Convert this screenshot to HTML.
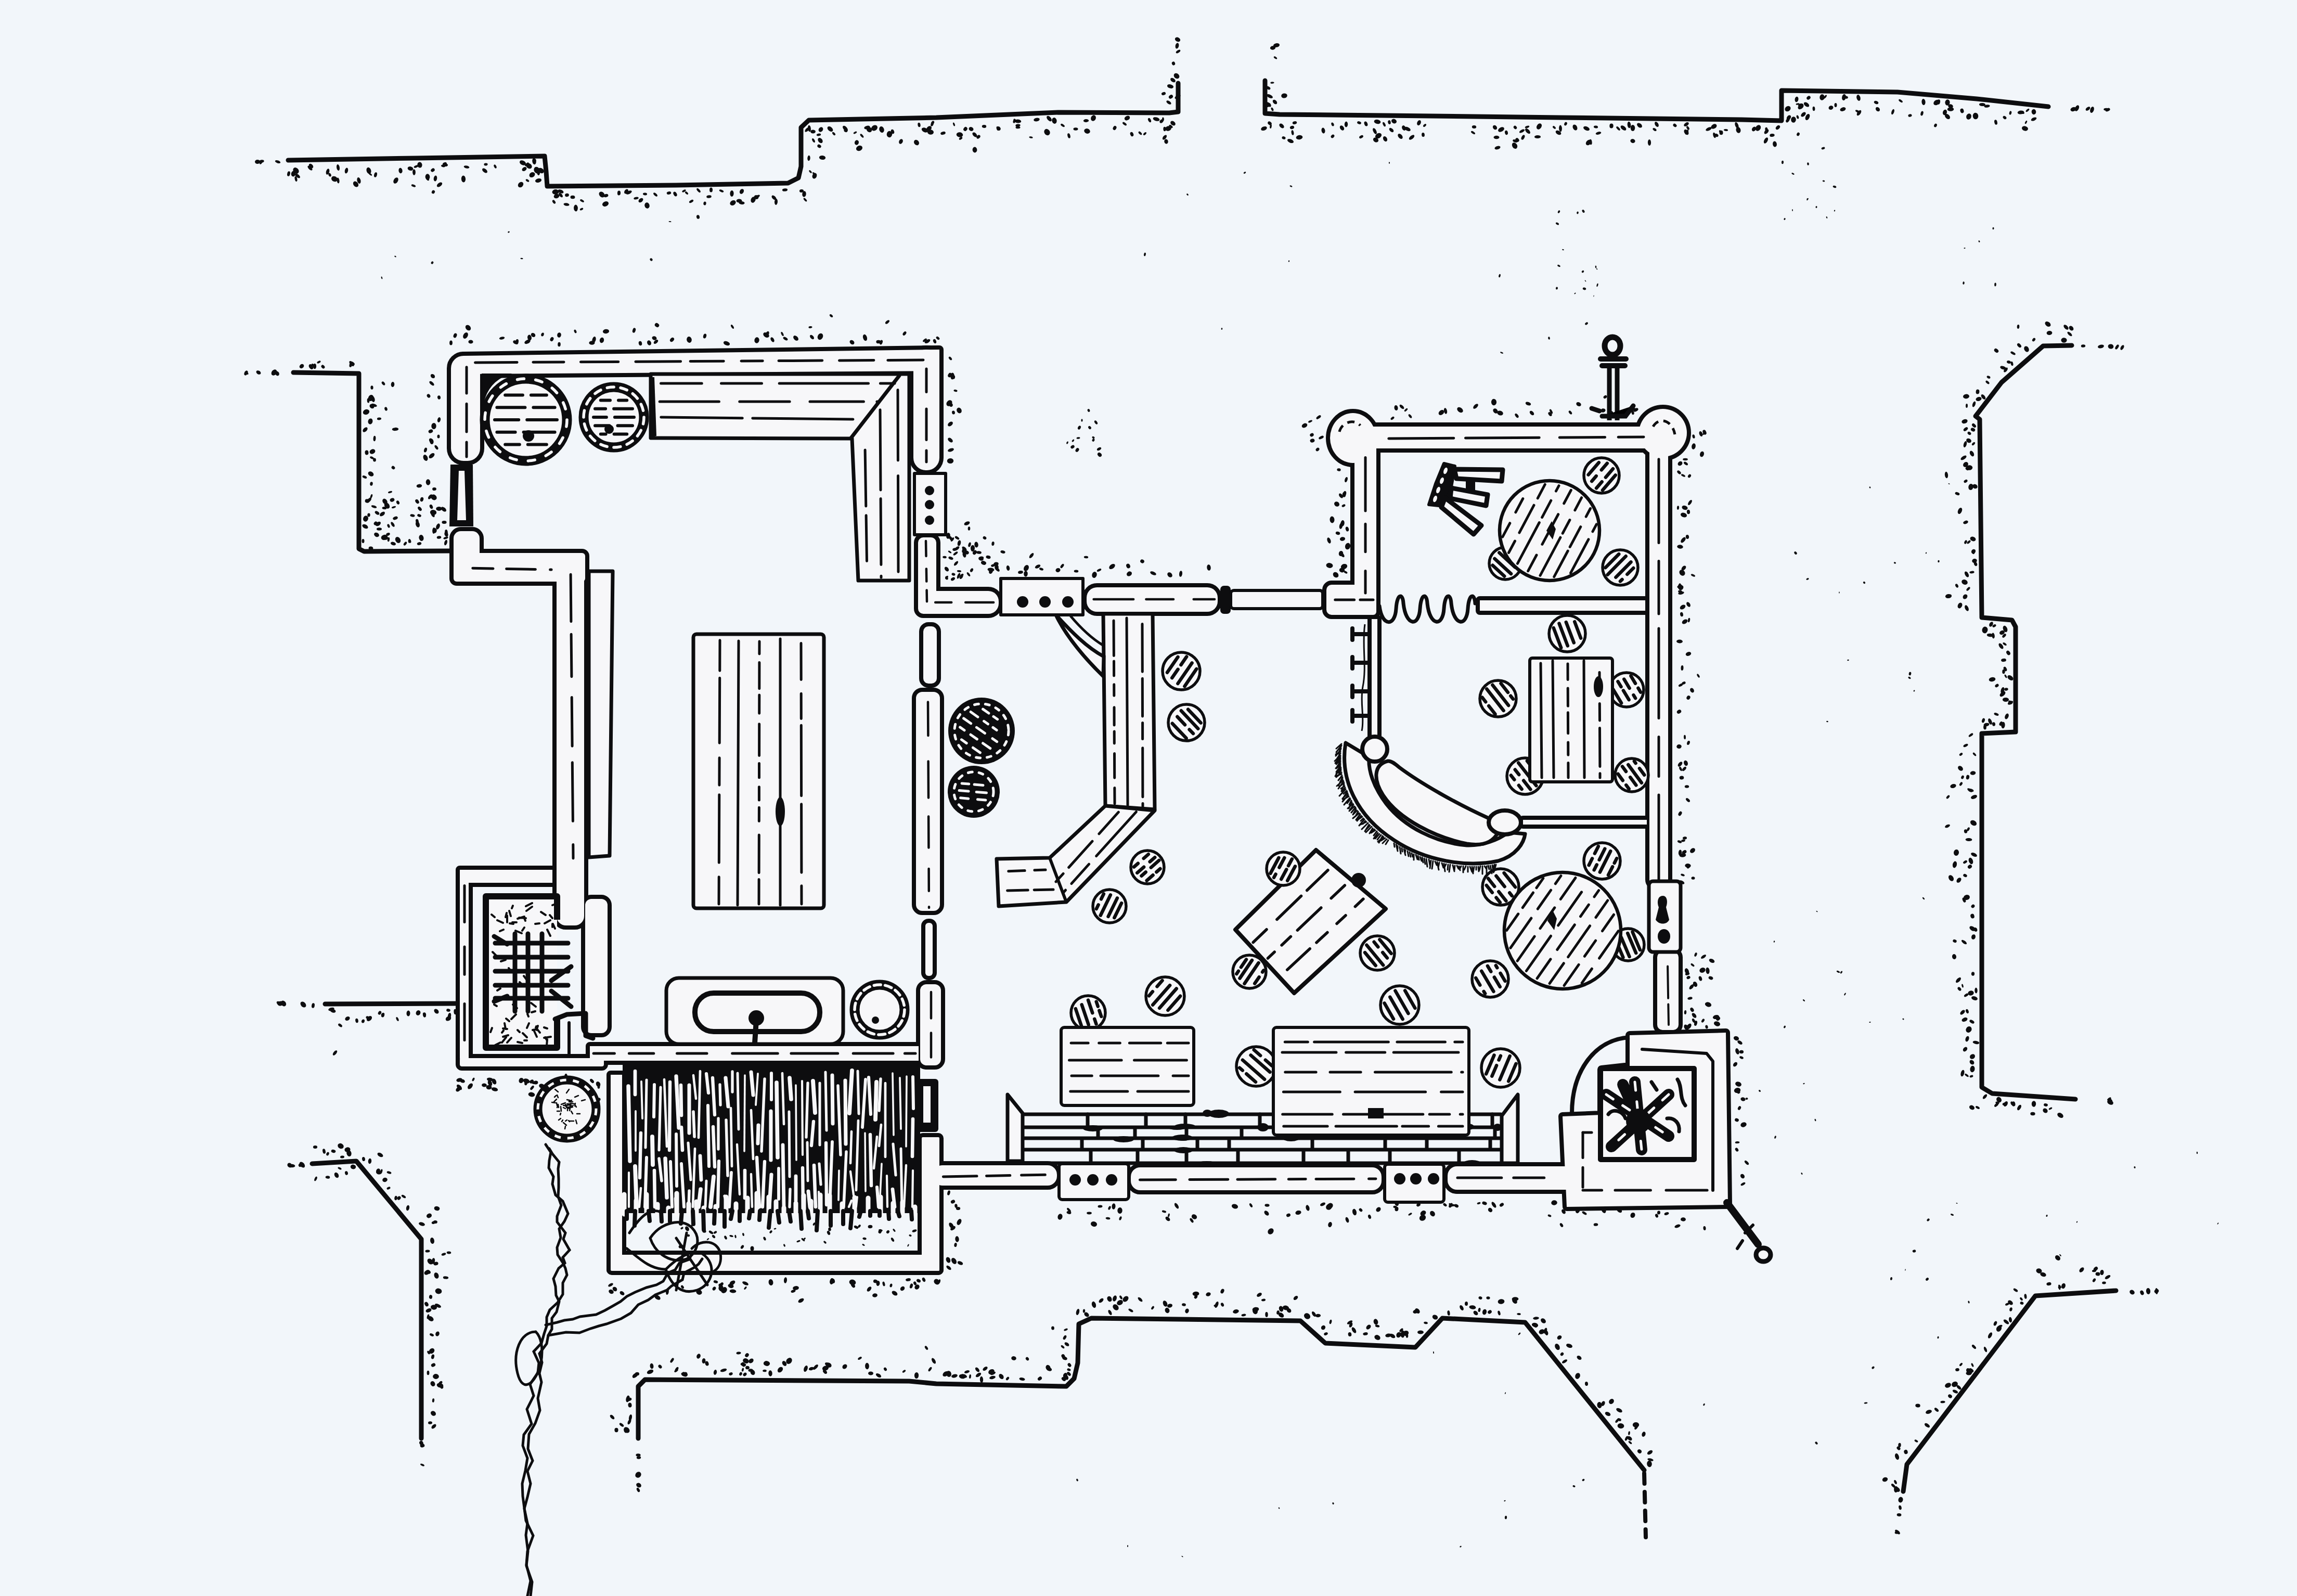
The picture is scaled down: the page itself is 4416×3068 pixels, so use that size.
<!DOCTYPE html><html><head><meta charset="utf-8"><style>html,body{margin:0;padding:0;background:#f2f6fa;}svg{display:block}</style></head><body><svg xmlns="http://www.w3.org/2000/svg" width="4416" height="3068" viewBox="0 0 4416 3068"><path d="M554.0,308.0 L800.0,304.0 L1047.0,300.0 L1050.0,330.0 L1052.0,358.0 L1300.0,356.0 L1515.0,352.0 L1535.0,342.0 L1540.0,320.0 L1540.0,245.0 L1555.0,231.0 L1800.0,226.0 L2035.0,216.0 L2248.0,217.0 L2265.0,215.0 L2265.0,160.0" fill="none" stroke="#0d0d0f" stroke-width="9" stroke-linejoin="round" stroke-linecap="round" /><path d="M2432.0,155.0 L2432.0,218.0 L2460.0,220.0 L2660.0,222.0 L3000.0,226.0 L3348.0,230.0 L3425.0,232.0 L3425.0,174.0 L3648.0,177.0 L3800.0,190.0 L3938.0,205.0" fill="none" stroke="#0d0d0f" stroke-width="9" stroke-linejoin="round" stroke-linecap="round" /><path d="M564.0,716.0 L690.0,718.0 L690.0,1055.0 L700.0,1060.0 L865.0,1059.0" fill="none" stroke="#0d0d0f" stroke-width="9" stroke-linejoin="round" stroke-linecap="round" /><path d="M625.0,1930.0 L880.0,1929.0" fill="none" stroke="#0d0d0f" stroke-width="9" stroke-linejoin="round" stroke-linecap="round" /><path d="M600.0,2237.0 L685.0,2232.0 L810.0,2382.0 L810.0,2765.0" fill="none" stroke="#0d0d0f" stroke-width="9" stroke-linejoin="round" stroke-linecap="round" /><path d="M1227.0,2765.0 L1227.0,2665.0 L1240.0,2652.0 L1748.0,2655.0 L1800.0,2660.0 L2050.0,2665.0 L2065.0,2650.0 L2072.0,2620.0 L2074.0,2545.0 L2098.0,2534.0 L2500.0,2539.0 L2548.0,2582.0 L2721.0,2590.0 L2773.0,2534.0 L2932.0,2542.0 L3161.0,2826.0" fill="none" stroke="#0d0d0f" stroke-width="9" stroke-linejoin="round" stroke-linecap="round" /><path d="M3161.0,2832.0 L3164.0,2955.0" fill="none" stroke="#0d0d0f" stroke-width="8" stroke-linejoin="round" stroke-linecap="round" stroke-dasharray="20 16"/><path d="M4068.0,2481.0 L3913.0,2491.0 L3666.0,2815.0 L3659.0,2867.0" fill="none" stroke="#0d0d0f" stroke-width="9" stroke-linejoin="round" stroke-linecap="round" /><path d="M3983.0,664.0 L3928.0,665.0 L3848.0,735.0 L3798.0,800.0 L3806.0,806.0 L3810.0,1187.0 L3868.0,1192.0 L3875.0,1205.0 L3875.0,1407.0 L3810.0,1410.0 L3810.0,2090.0 L3830.0,2102.0 L3990.0,2113.0" fill="none" stroke="#0d0d0f" stroke-width="9" stroke-linejoin="round" stroke-linecap="round" /><g fill="#0d0d0f"><ellipse cx="634" cy="336" rx="3.7" ry="2.5" transform="rotate(66 634 336)"/><ellipse cx="569" cy="344" rx="5.0" ry="2.3" transform="rotate(78 569 344)"/><ellipse cx="572" cy="338" rx="6.0" ry="3.0" transform="rotate(40 572 338)"/><ellipse cx="709" cy="328" rx="6.3" ry="4.3" transform="rotate(71 709 328)"/><ellipse cx="795" cy="357" rx="4.4" ry="2.2" transform="rotate(21 795 357)"/><ellipse cx="630" cy="330" rx="5.9" ry="3.1" transform="rotate(105 630 330)"/><ellipse cx="712" cy="335" rx="3.7" ry="1.7" transform="rotate(37 712 335)"/><ellipse cx="722" cy="336" rx="4.8" ry="2.8" transform="rotate(105 722 336)"/><ellipse cx="666" cy="328" rx="5.6" ry="3.1" transform="rotate(103 666 328)"/><ellipse cx="684" cy="354" rx="6.1" ry="4.5" transform="rotate(52 684 354)"/><ellipse cx="796" cy="331" rx="5.8" ry="2.9" transform="rotate(88 796 331)"/><ellipse cx="564" cy="334" rx="5.5" ry="4.2" transform="rotate(103 564 334)"/><ellipse cx="770" cy="328" rx="5.3" ry="3.6" transform="rotate(82 770 328)"/><ellipse cx="761" cy="347" rx="6.3" ry="4.1" transform="rotate(120 761 347)"/><ellipse cx="569" cy="328" rx="6.5" ry="5.0" transform="rotate(51 569 328)"/><ellipse cx="650" cy="347" rx="5.5" ry="2.5" transform="rotate(83 650 347)"/><ellipse cx="596" cy="323" rx="5.8" ry="2.9" transform="rotate(45 596 323)"/><ellipse cx="650" cy="322" rx="6.1" ry="2.9" transform="rotate(81 650 322)"/><ellipse cx="690" cy="347" rx="6.1" ry="3.4" transform="rotate(75 690 347)"/><ellipse cx="643" cy="344" rx="6.2" ry="5.1" transform="rotate(27 643 344)"/><ellipse cx="598" cy="319" rx="5.0" ry="3.4" transform="rotate(47 598 319)"/><ellipse cx="555" cy="334" rx="4.8" ry="2.8" transform="rotate(102 555 334)"/><ellipse cx="789" cy="324" rx="5.4" ry="3.9" transform="rotate(10 789 324)"/><ellipse cx="1023" cy="336" rx="5.8" ry="4.7" transform="rotate(144 1023 336)"/><ellipse cx="897" cy="321" rx="5.4" ry="2.6" transform="rotate(12 897 321)"/><ellipse cx="852" cy="319" rx="4.0" ry="2.3" transform="rotate(9 852 319)"/><ellipse cx="800" cy="320" rx="4.6" ry="2.1" transform="rotate(157 800 320)"/><ellipse cx="952" cy="320" rx="3.9" ry="2.2" transform="rotate(63 952 320)"/><ellipse cx="891" cy="344" rx="6.5" ry="4.1" transform="rotate(87 891 344)"/><ellipse cx="822" cy="344" rx="3.8" ry="2.2" transform="rotate(48 822 344)"/><ellipse cx="1005" cy="313" rx="6.4" ry="4.2" transform="rotate(26 1005 313)"/><ellipse cx="934" cy="316" rx="3.6" ry="2.4" transform="rotate(176 934 316)"/><ellipse cx="1013" cy="316" rx="4.6" ry="2.4" transform="rotate(139 1013 316)"/><ellipse cx="932" cy="328" rx="5.8" ry="3.4" transform="rotate(40 932 328)"/><ellipse cx="1001" cy="355" rx="5.9" ry="4.6" transform="rotate(133 1001 355)"/><ellipse cx="856" cy="317" rx="5.1" ry="3.0" transform="rotate(5 856 317)"/><ellipse cx="807" cy="317" rx="5.6" ry="4.6" transform="rotate(81 807 317)"/><ellipse cx="1032" cy="327" rx="6.5" ry="5.4" transform="rotate(66 1032 327)"/><ellipse cx="855" cy="315" rx="4.1" ry="2.9" transform="rotate(162 855 315)"/><ellipse cx="1008" cy="325" rx="4.9" ry="3.5" transform="rotate(144 1008 325)"/><ellipse cx="822" cy="340" rx="5.8" ry="4.4" transform="rotate(86 822 340)"/><ellipse cx="845" cy="355" rx="5.9" ry="3.4" transform="rotate(144 845 355)"/><ellipse cx="1040" cy="328" rx="6.3" ry="4.7" transform="rotate(31 1040 328)"/><ellipse cx="832" cy="327" rx="4.0" ry="3.2" transform="rotate(145 832 327)"/><ellipse cx="837" cy="343" rx="5.5" ry="3.2" transform="rotate(99 837 343)"/><ellipse cx="833" cy="369" rx="3.5" ry="3.0" transform="rotate(117 833 369)"/><ellipse cx="1017" cy="319" rx="6.1" ry="4.8" transform="rotate(38 1017 319)"/><ellipse cx="1028" cy="310" rx="4.4" ry="2.4" transform="rotate(106 1028 310)"/><ellipse cx="1027" cy="310" rx="6.2" ry="3.7" transform="rotate(82 1027 310)"/><ellipse cx="1035" cy="347" rx="6.2" ry="3.8" transform="rotate(165 1035 347)"/><ellipse cx="1014" cy="347" rx="3.6" ry="2.2" transform="rotate(33 1014 347)"/><ellipse cx="1035" cy="331" rx="5.9" ry="3.1" transform="rotate(85 1035 331)"/><ellipse cx="1232" cy="385" rx="5.1" ry="3.4" transform="rotate(141 1232 385)"/><ellipse cx="1078" cy="375" rx="5.2" ry="2.8" transform="rotate(50 1078 375)"/><ellipse cx="1244" cy="395" rx="5.8" ry="4.7" transform="rotate(80 1244 395)"/><ellipse cx="1204" cy="368" rx="5.0" ry="3.3" transform="rotate(125 1204 368)"/><ellipse cx="1164" cy="392" rx="6.3" ry="4.6" transform="rotate(158 1164 392)"/><ellipse cx="1286" cy="371" rx="4.3" ry="2.9" transform="rotate(170 1286 371)"/><ellipse cx="1260" cy="374" rx="4.8" ry="2.3" transform="rotate(43 1260 374)"/><ellipse cx="1070" cy="377" rx="5.5" ry="4.2" transform="rotate(161 1070 377)"/><ellipse cx="1090" cy="375" rx="3.9" ry="3.2" transform="rotate(174 1090 375)"/><ellipse cx="1107" cy="400" rx="6.4" ry="3.9" transform="rotate(88 1107 400)"/><ellipse cx="1298" cy="373" rx="4.8" ry="3.1" transform="rotate(61 1298 373)"/><ellipse cx="1101" cy="379" rx="4.5" ry="3.3" transform="rotate(4 1101 379)"/><ellipse cx="1190" cy="371" rx="4.5" ry="3.1" transform="rotate(92 1190 371)"/><ellipse cx="1068" cy="369" rx="6.5" ry="4.9" transform="rotate(175 1068 369)"/><ellipse cx="1078" cy="368" rx="5.8" ry="3.3" transform="rotate(23 1078 368)"/><ellipse cx="1157" cy="374" rx="6.2" ry="4.8" transform="rotate(47 1157 374)"/><ellipse cx="1089" cy="393" rx="5.6" ry="2.7" transform="rotate(10 1089 393)"/><ellipse cx="1223" cy="381" rx="4.8" ry="2.3" transform="rotate(169 1223 381)"/><ellipse cx="1209" cy="370" rx="6.1" ry="2.9" transform="rotate(155 1209 370)"/><ellipse cx="1165" cy="376" rx="4.5" ry="3.0" transform="rotate(167 1165 376)"/><ellipse cx="1119" cy="386" rx="4.2" ry="2.1" transform="rotate(29 1119 386)"/><ellipse cx="1065" cy="388" rx="4.1" ry="2.4" transform="rotate(55 1065 388)"/><ellipse cx="1240" cy="373" rx="4.0" ry="2.4" transform="rotate(3 1240 373)"/><ellipse cx="1355" cy="391" rx="3.5" ry="2.6" transform="rotate(99 1355 391)"/><ellipse cx="1342" cy="417" rx="3.8" ry="3.0" transform="rotate(78 1342 417)"/><ellipse cx="1407" cy="372" rx="6.0" ry="3.6" transform="rotate(91 1407 372)"/><ellipse cx="1448" cy="384" rx="6.0" ry="4.4" transform="rotate(114 1448 384)"/><ellipse cx="1387" cy="367" rx="4.5" ry="2.1" transform="rotate(23 1387 367)"/><ellipse cx="1315" cy="367" rx="4.0" ry="1.9" transform="rotate(151 1315 367)"/><ellipse cx="1488" cy="380" rx="5.5" ry="3.1" transform="rotate(44 1488 380)"/><ellipse cx="1363" cy="378" rx="4.8" ry="2.7" transform="rotate(173 1363 378)"/><ellipse cx="1509" cy="365" rx="5.1" ry="2.8" transform="rotate(174 1509 365)"/><ellipse cx="1367" cy="365" rx="4.6" ry="3.0" transform="rotate(90 1367 365)"/><ellipse cx="1343" cy="366" rx="5.0" ry="2.3" transform="rotate(48 1343 366)"/><ellipse cx="1320" cy="371" rx="3.6" ry="2.0" transform="rotate(42 1320 371)"/><ellipse cx="1426" cy="368" rx="5.1" ry="3.8" transform="rotate(118 1426 368)"/><ellipse cx="1454" cy="379" rx="4.5" ry="3.8" transform="rotate(27 1454 379)"/><ellipse cx="1456" cy="378" rx="5.4" ry="2.5" transform="rotate(150 1456 378)"/><ellipse cx="1492" cy="388" rx="5.9" ry="3.0" transform="rotate(94 1492 388)"/><ellipse cx="1409" cy="390" rx="6.0" ry="4.6" transform="rotate(149 1409 390)"/><ellipse cx="1426" cy="390" rx="5.6" ry="3.0" transform="rotate(6 1426 390)"/><ellipse cx="1329" cy="387" rx="4.6" ry="2.3" transform="rotate(150 1329 387)"/><ellipse cx="1421" cy="386" rx="5.5" ry="3.6" transform="rotate(1 1421 386)"/><ellipse cx="1546" cy="373" rx="5.7" ry="3.7" transform="rotate(96 1546 373)"/><ellipse cx="1548" cy="384" rx="4.3" ry="2.0" transform="rotate(48 1548 384)"/><ellipse cx="1541" cy="367" rx="4.1" ry="3.1" transform="rotate(176 1541 367)"/><ellipse cx="1566" cy="338" rx="5.6" ry="4.2" transform="rotate(111 1566 338)"/><ellipse cx="1565" cy="334" rx="3.7" ry="1.9" transform="rotate(46 1565 334)"/><ellipse cx="1558" cy="330" rx="3.5" ry="1.7" transform="rotate(48 1558 330)"/><ellipse cx="1577" cy="270" rx="5.6" ry="4.0" transform="rotate(52 1577 270)"/><ellipse cx="1575" cy="281" rx="3.9" ry="3.1" transform="rotate(36 1575 281)"/><ellipse cx="1556" cy="247" rx="6.3" ry="2.9" transform="rotate(83 1556 247)"/><ellipse cx="1574" cy="259" rx="4.3" ry="2.3" transform="rotate(170 1574 259)"/><ellipse cx="1555" cy="304" rx="5.2" ry="2.7" transform="rotate(94 1555 304)"/><ellipse cx="1578" cy="249" rx="5.0" ry="4.0" transform="rotate(127 1578 249)"/><ellipse cx="1581" cy="303" rx="6.2" ry="4.0" transform="rotate(4 1581 303)"/><ellipse cx="1564" cy="270" rx="4.4" ry="2.2" transform="rotate(62 1564 270)"/><ellipse cx="1552" cy="249" rx="6.0" ry="2.7" transform="rotate(135 1552 249)"/><ellipse cx="1762" cy="274" rx="5.6" ry="4.6" transform="rotate(52 1762 274)"/><ellipse cx="1647" cy="274" rx="4.7" ry="4.0" transform="rotate(106 1647 274)"/><ellipse cx="1644" cy="255" rx="3.6" ry="1.8" transform="rotate(150 1644 255)"/><ellipse cx="1625" cy="247" rx="6.3" ry="3.5" transform="rotate(48 1625 247)"/><ellipse cx="1681" cy="246" rx="6.4" ry="5.1" transform="rotate(146 1681 246)"/><ellipse cx="1710" cy="258" rx="6.2" ry="5.2" transform="rotate(99 1710 258)"/><ellipse cx="1732" cy="272" rx="4.9" ry="3.6" transform="rotate(116 1732 272)"/><ellipse cx="1626" cy="251" rx="3.6" ry="3.0" transform="rotate(23 1626 251)"/><ellipse cx="1671" cy="249" rx="5.7" ry="4.8" transform="rotate(47 1671 249)"/><ellipse cx="1716" cy="253" rx="4.4" ry="3.0" transform="rotate(71 1716 253)"/><ellipse cx="1596" cy="248" rx="6.2" ry="4.0" transform="rotate(40 1596 248)"/><ellipse cx="1778" cy="250" rx="6.5" ry="4.1" transform="rotate(25 1778 250)"/><ellipse cx="1603" cy="257" rx="3.8" ry="2.1" transform="rotate(47 1603 257)"/><ellipse cx="1695" cy="249" rx="6.2" ry="4.6" transform="rotate(74 1695 249)"/><ellipse cx="1657" cy="261" rx="4.5" ry="2.1" transform="rotate(50 1657 261)"/><ellipse cx="1792" cy="239" rx="3.9" ry="2.5" transform="rotate(113 1792 239)"/><ellipse cx="1767" cy="240" rx="4.2" ry="2.6" transform="rotate(80 1767 240)"/><ellipse cx="1789" cy="254" rx="6.0" ry="4.8" transform="rotate(4 1789 254)"/><ellipse cx="1563" cy="253" rx="4.9" ry="3.4" transform="rotate(0 1563 253)"/><ellipse cx="1652" cy="285" rx="6.3" ry="4.9" transform="rotate(154 1652 285)"/><ellipse cx="1793" cy="236" rx="4.0" ry="2.6" transform="rotate(123 1793 236)"/><ellipse cx="1786" cy="247" rx="5.7" ry="4.0" transform="rotate(138 1786 247)"/><ellipse cx="1667" cy="245" rx="5.8" ry="3.2" transform="rotate(166 1667 245)"/><ellipse cx="1952" cy="232" rx="4.4" ry="2.2" transform="rotate(45 1952 232)"/><ellipse cx="1950" cy="233" rx="3.7" ry="2.4" transform="rotate(105 1950 233)"/><ellipse cx="1892" cy="243" rx="4.2" ry="2.9" transform="rotate(2 1892 243)"/><ellipse cx="1874" cy="288" rx="5.4" ry="4.4" transform="rotate(86 1874 288)"/><ellipse cx="1856" cy="248" rx="4.2" ry="3.5" transform="rotate(127 1856 248)"/><ellipse cx="1874" cy="259" rx="5.5" ry="3.4" transform="rotate(46 1874 259)"/><ellipse cx="1957" cy="233" rx="6.3" ry="3.4" transform="rotate(6 1957 233)"/><ellipse cx="1881" cy="263" rx="4.1" ry="3.1" transform="rotate(133 1881 263)"/><ellipse cx="1920" cy="247" rx="4.1" ry="3.4" transform="rotate(56 1920 247)"/><ellipse cx="1993" cy="230" rx="5.8" ry="3.3" transform="rotate(171 1993 230)"/><ellipse cx="1918" cy="247" rx="4.1" ry="2.2" transform="rotate(75 1918 247)"/><ellipse cx="1957" cy="241" rx="4.7" ry="2.5" transform="rotate(175 1957 241)"/><ellipse cx="1834" cy="239" rx="3.7" ry="1.7" transform="rotate(71 1834 239)"/><ellipse cx="2013" cy="254" rx="6.5" ry="5.3" transform="rotate(59 2013 254)"/><ellipse cx="1845" cy="259" rx="6.3" ry="4.7" transform="rotate(6 1845 259)"/><ellipse cx="1957" cy="245" rx="4.5" ry="2.3" transform="rotate(1 1957 245)"/><ellipse cx="1867" cy="248" rx="4.6" ry="3.8" transform="rotate(22 1867 248)"/><ellipse cx="2027" cy="232" rx="6.0" ry="4.6" transform="rotate(78 2027 232)"/><ellipse cx="1813" cy="256" rx="4.9" ry="2.9" transform="rotate(166 1813 256)"/><ellipse cx="1847" cy="266" rx="3.6" ry="2.2" transform="rotate(146 1847 266)"/><ellipse cx="1982" cy="264" rx="3.6" ry="1.7" transform="rotate(11 1982 264)"/><ellipse cx="2017" cy="228" rx="6.2" ry="3.6" transform="rotate(49 2017 228)"/><ellipse cx="2239" cy="264" rx="5.4" ry="3.0" transform="rotate(129 2239 264)"/><ellipse cx="2102" cy="227" rx="5.8" ry="4.7" transform="rotate(114 2102 227)"/><ellipse cx="2236" cy="229" rx="3.6" ry="1.9" transform="rotate(86 2236 229)"/><ellipse cx="2239" cy="248" rx="4.3" ry="2.6" transform="rotate(89 2239 248)"/><ellipse cx="2233" cy="233" rx="4.0" ry="3.1" transform="rotate(133 2233 233)"/><ellipse cx="2210" cy="231" rx="4.5" ry="2.6" transform="rotate(65 2210 231)"/><ellipse cx="2201" cy="257" rx="3.7" ry="2.0" transform="rotate(136 2201 257)"/><ellipse cx="2088" cy="232" rx="5.2" ry="3.0" transform="rotate(176 2088 232)"/><ellipse cx="2223" cy="229" rx="6.5" ry="3.6" transform="rotate(15 2223 229)"/><ellipse cx="2055" cy="261" rx="4.8" ry="2.6" transform="rotate(75 2055 261)"/><ellipse cx="2167" cy="227" rx="5.5" ry="4.1" transform="rotate(152 2167 227)"/><ellipse cx="2176" cy="258" rx="4.4" ry="3.0" transform="rotate(67 2176 258)"/><ellipse cx="2192" cy="256" rx="4.1" ry="2.2" transform="rotate(44 2192 256)"/><ellipse cx="2068" cy="248" rx="4.5" ry="2.7" transform="rotate(179 2068 248)"/><ellipse cx="2143" cy="246" rx="4.2" ry="3.2" transform="rotate(118 2143 246)"/><ellipse cx="2246" cy="247" rx="6.0" ry="4.7" transform="rotate(165 2246 247)"/><ellipse cx="2043" cy="241" rx="4.4" ry="2.2" transform="rotate(34 2043 241)"/><ellipse cx="2242" cy="272" rx="4.6" ry="3.7" transform="rotate(81 2242 272)"/><ellipse cx="2090" cy="252" rx="5.8" ry="4.8" transform="rotate(19 2090 252)"/><ellipse cx="2162" cy="238" rx="4.6" ry="2.3" transform="rotate(37 2162 238)"/><ellipse cx="2255" cy="237" rx="5.3" ry="3.8" transform="rotate(37 2255 237)"/><ellipse cx="2251" cy="243" rx="4.1" ry="2.3" transform="rotate(37 2251 243)"/><ellipse cx="534" cy="311" rx="5.4" ry="2.6" transform="rotate(18 534 311)"/><ellipse cx="502" cy="312" rx="4.2" ry="2.2" transform="rotate(125 502 312)"/><ellipse cx="503" cy="310" rx="4.7" ry="2.7" transform="rotate(172 503 310)"/><ellipse cx="495" cy="311" rx="5.0" ry="4.0" transform="rotate(179 495 311)"/><ellipse cx="2441" cy="237" rx="4.1" ry="3.0" transform="rotate(37 2441 237)"/><ellipse cx="2430" cy="247" rx="6.0" ry="3.7" transform="rotate(159 2430 247)"/><ellipse cx="2443" cy="243" rx="4.0" ry="1.8" transform="rotate(99 2443 243)"/><ellipse cx="2588" cy="239" rx="5.4" ry="3.2" transform="rotate(91 2588 239)"/><ellipse cx="2489" cy="236" rx="4.3" ry="2.9" transform="rotate(167 2489 236)"/><ellipse cx="2481" cy="271" rx="6.4" ry="3.4" transform="rotate(23 2481 271)"/><ellipse cx="2648" cy="234" rx="6.4" ry="4.1" transform="rotate(10 2648 234)"/><ellipse cx="2645" cy="269" rx="5.4" ry="4.2" transform="rotate(29 2645 269)"/><ellipse cx="2617" cy="263" rx="4.2" ry="2.5" transform="rotate(152 2617 263)"/><ellipse cx="2626" cy="238" rx="4.7" ry="3.1" transform="rotate(69 2626 238)"/><ellipse cx="2484" cy="245" rx="4.2" ry="3.1" transform="rotate(162 2484 245)"/><ellipse cx="2468" cy="265" rx="3.6" ry="2.8" transform="rotate(21 2468 265)"/><ellipse cx="2580" cy="246" rx="5.2" ry="3.6" transform="rotate(55 2580 246)"/><ellipse cx="2544" cy="251" rx="5.5" ry="3.4" transform="rotate(79 2544 251)"/><ellipse cx="2464" cy="242" rx="5.4" ry="3.5" transform="rotate(42 2464 242)"/><ellipse cx="2613" cy="236" rx="4.0" ry="2.6" transform="rotate(19 2613 236)"/><ellipse cx="2485" cy="255" rx="4.8" ry="2.3" transform="rotate(80 2485 255)"/><ellipse cx="2562" cy="262" rx="3.7" ry="2.8" transform="rotate(140 2562 262)"/><ellipse cx="2562" cy="239" rx="3.7" ry="2.4" transform="rotate(68 2562 239)"/><ellipse cx="2650" cy="261" rx="6.5" ry="4.8" transform="rotate(147 2650 261)"/><ellipse cx="2498" cy="264" rx="6.4" ry="4.2" transform="rotate(172 2498 264)"/><ellipse cx="2643" cy="252" rx="6.3" ry="3.0" transform="rotate(63 2643 252)"/><ellipse cx="2917" cy="269" rx="4.0" ry="3.2" transform="rotate(49 2917 269)"/><ellipse cx="2937" cy="252" rx="6.3" ry="3.3" transform="rotate(47 2937 252)"/><ellipse cx="2832" cy="255" rx="4.5" ry="2.1" transform="rotate(33 2832 255)"/><ellipse cx="2714" cy="264" rx="6.2" ry="3.2" transform="rotate(141 2714 264)"/><ellipse cx="2699" cy="246" rx="5.1" ry="3.6" transform="rotate(65 2699 246)"/><ellipse cx="2956" cy="263" rx="6.1" ry="3.0" transform="rotate(179 2956 263)"/><ellipse cx="2874" cy="245" rx="4.7" ry="3.6" transform="rotate(48 2874 245)"/><ellipse cx="2996" cy="255" rx="5.8" ry="3.6" transform="rotate(32 2996 255)"/><ellipse cx="2913" cy="245" rx="3.6" ry="2.8" transform="rotate(46 2913 245)"/><ellipse cx="2877" cy="264" rx="5.5" ry="3.2" transform="rotate(0 2877 264)"/><ellipse cx="2671" cy="235" rx="3.9" ry="2.7" transform="rotate(78 2671 235)"/><ellipse cx="2834" cy="244" rx="4.2" ry="3.0" transform="rotate(4 2834 244)"/><ellipse cx="2661" cy="239" rx="4.6" ry="2.2" transform="rotate(64 2661 239)"/><ellipse cx="2736" cy="259" rx="4.1" ry="2.9" transform="rotate(85 2736 259)"/><ellipse cx="2706" cy="248" rx="6.3" ry="3.5" transform="rotate(27 2706 248)"/><ellipse cx="2692" cy="262" rx="5.8" ry="3.6" transform="rotate(48 2692 262)"/><ellipse cx="2663" cy="267" rx="5.4" ry="3.7" transform="rotate(63 2663 267)"/><ellipse cx="2879" cy="284" rx="5.7" ry="3.1" transform="rotate(163 2879 284)"/><ellipse cx="2675" cy="250" rx="5.1" ry="3.1" transform="rotate(43 2675 250)"/><ellipse cx="2680" cy="233" rx="5.2" ry="4.3" transform="rotate(26 2680 233)"/><ellipse cx="2728" cy="236" rx="5.3" ry="3.5" transform="rotate(115 2728 236)"/><ellipse cx="2936" cy="244" rx="4.4" ry="2.1" transform="rotate(160 2936 244)"/><ellipse cx="2926" cy="252" rx="5.6" ry="2.6" transform="rotate(152 2926 252)"/><ellipse cx="2913" cy="271" rx="4.9" ry="2.6" transform="rotate(19 2913 271)"/><ellipse cx="2739" cy="241" rx="3.6" ry="2.1" transform="rotate(135 2739 241)"/><ellipse cx="2896" cy="255" rx="4.3" ry="2.9" transform="rotate(78 2896 255)"/><ellipse cx="2928" cy="264" rx="5.1" ry="2.8" transform="rotate(116 2928 264)"/><ellipse cx="2988" cy="245" rx="3.5" ry="2.0" transform="rotate(42 2988 245)"/><ellipse cx="2912" cy="280" rx="6.3" ry="4.7" transform="rotate(59 2912 280)"/><ellipse cx="2959" cy="243" rx="6.2" ry="4.4" transform="rotate(125 2959 243)"/><ellipse cx="2886" cy="249" rx="6.4" ry="4.1" transform="rotate(151 2886 249)"/><ellipse cx="3242" cy="254" rx="5.7" ry="3.8" transform="rotate(55 3242 254)"/><ellipse cx="3073" cy="256" rx="5.4" ry="2.6" transform="rotate(164 3073 256)"/><ellipse cx="3050" cy="247" rx="6.3" ry="3.7" transform="rotate(26 3050 247)"/><ellipse cx="3010" cy="238" rx="3.6" ry="2.6" transform="rotate(114 3010 238)"/><ellipse cx="3242" cy="239" rx="5.3" ry="3.1" transform="rotate(147 3242 239)"/><ellipse cx="3285" cy="248" rx="6.2" ry="2.9" transform="rotate(156 3285 248)"/><ellipse cx="3318" cy="250" rx="4.1" ry="2.0" transform="rotate(6 3318 250)"/><ellipse cx="3295" cy="243" rx="5.9" ry="4.2" transform="rotate(149 3295 243)"/><ellipse cx="3220" cy="241" rx="3.8" ry="2.9" transform="rotate(37 3220 241)"/><ellipse cx="3111" cy="247" rx="4.8" ry="2.2" transform="rotate(46 3111 247)"/><ellipse cx="3098" cy="242" rx="4.5" ry="3.7" transform="rotate(91 3098 242)"/><ellipse cx="3296" cy="260" rx="5.4" ry="2.5" transform="rotate(74 3296 260)"/><ellipse cx="3152" cy="241" rx="5.6" ry="3.7" transform="rotate(39 3152 241)"/><ellipse cx="3300" cy="260" rx="3.8" ry="2.9" transform="rotate(31 3300 260)"/><ellipse cx="3000" cy="247" rx="6.4" ry="2.9" transform="rotate(88 3000 247)"/><ellipse cx="3171" cy="274" rx="5.9" ry="3.1" transform="rotate(89 3171 274)"/><ellipse cx="3121" cy="246" rx="6.3" ry="3.6" transform="rotate(39 3121 246)"/><ellipse cx="3243" cy="254" rx="5.0" ry="2.5" transform="rotate(115 3243 254)"/><ellipse cx="3028" cy="245" rx="5.9" ry="4.1" transform="rotate(64 3028 245)"/><ellipse cx="3139" cy="271" rx="4.7" ry="3.8" transform="rotate(16 3139 271)"/><ellipse cx="3309" cy="255" rx="4.3" ry="3.5" transform="rotate(90 3309 255)"/><ellipse cx="3132" cy="240" rx="6.2" ry="3.3" transform="rotate(83 3132 240)"/><ellipse cx="3185" cy="239" rx="5.4" ry="3.2" transform="rotate(59 3185 239)"/><ellipse cx="3054" cy="274" rx="6.0" ry="4.3" transform="rotate(134 3054 274)"/><ellipse cx="3058" cy="273" rx="5.2" ry="2.6" transform="rotate(83 3058 273)"/><ellipse cx="3308" cy="254" rx="4.2" ry="2.2" transform="rotate(54 3308 254)"/><ellipse cx="3245" cy="246" rx="4.0" ry="2.2" transform="rotate(59 3245 246)"/><ellipse cx="3181" cy="249" rx="4.0" ry="2.3" transform="rotate(34 3181 249)"/><ellipse cx="3339" cy="241" rx="6.4" ry="3.1" transform="rotate(69 3339 241)"/><ellipse cx="3342" cy="250" rx="5.9" ry="4.4" transform="rotate(78 3342 250)"/><ellipse cx="3068" cy="244" rx="4.1" ry="2.5" transform="rotate(6 3068 244)"/><ellipse cx="3139" cy="246" rx="5.9" ry="4.3" transform="rotate(90 3139 246)"/><ellipse cx="3396" cy="253" rx="5.3" ry="3.2" transform="rotate(133 3396 253)"/><ellipse cx="3418" cy="245" rx="4.8" ry="3.3" transform="rotate(135 3418 245)"/><ellipse cx="3380" cy="246" rx="6.1" ry="4.7" transform="rotate(126 3380 246)"/><ellipse cx="3412" cy="277" rx="5.5" ry="3.9" transform="rotate(82 3412 277)"/><ellipse cx="3372" cy="248" rx="4.8" ry="3.6" transform="rotate(128 3372 248)"/><ellipse cx="3396" cy="249" rx="4.3" ry="2.6" transform="rotate(82 3396 249)"/><ellipse cx="3395" cy="270" rx="6.3" ry="3.3" transform="rotate(118 3395 270)"/><ellipse cx="3407" cy="260" rx="4.7" ry="3.0" transform="rotate(175 3407 260)"/><ellipse cx="3448" cy="230" rx="5.8" ry="4.8" transform="rotate(93 3448 230)"/><ellipse cx="3439" cy="226" rx="5.2" ry="3.5" transform="rotate(129 3439 226)"/><ellipse cx="3462" cy="202" rx="5.1" ry="3.1" transform="rotate(171 3462 202)"/><ellipse cx="3467" cy="220" rx="5.6" ry="3.4" transform="rotate(137 3467 220)"/><ellipse cx="3456" cy="225" rx="3.7" ry="2.1" transform="rotate(72 3456 225)"/><ellipse cx="3437" cy="231" rx="4.8" ry="2.9" transform="rotate(126 3437 231)"/><ellipse cx="3503" cy="187" rx="5.7" ry="4.7" transform="rotate(95 3503 187)"/><ellipse cx="3473" cy="201" rx="5.9" ry="3.6" transform="rotate(38 3473 201)"/><ellipse cx="3454" cy="191" rx="5.4" ry="3.4" transform="rotate(101 3454 191)"/><ellipse cx="3475" cy="225" rx="6.4" ry="3.8" transform="rotate(115 3475 225)"/><ellipse cx="3607" cy="197" rx="4.4" ry="2.9" transform="rotate(23 3607 197)"/><ellipse cx="3610" cy="210" rx="4.6" ry="3.6" transform="rotate(48 3610 210)"/><ellipse cx="3509" cy="186" rx="4.1" ry="1.8" transform="rotate(130 3509 186)"/><ellipse cx="3487" cy="209" rx="4.2" ry="2.4" transform="rotate(86 3487 209)"/><ellipse cx="3520" cy="207" rx="4.6" ry="3.8" transform="rotate(154 3520 207)"/><ellipse cx="3437" cy="209" rx="6.0" ry="4.9" transform="rotate(141 3437 209)"/><ellipse cx="3456" cy="200" rx="3.5" ry="1.6" transform="rotate(171 3456 200)"/><ellipse cx="3571" cy="214" rx="4.3" ry="2.1" transform="rotate(26 3571 214)"/><ellipse cx="3477" cy="188" rx="4.0" ry="3.2" transform="rotate(143 3477 188)"/><ellipse cx="3462" cy="205" rx="6.2" ry="4.3" transform="rotate(141 3462 205)"/><ellipse cx="3574" cy="217" rx="6.0" ry="3.2" transform="rotate(125 3574 217)"/><ellipse cx="3543" cy="210" rx="5.7" ry="3.6" transform="rotate(159 3543 210)"/><ellipse cx="3549" cy="187" rx="3.9" ry="2.5" transform="rotate(11 3549 187)"/><ellipse cx="3529" cy="202" rx="3.9" ry="2.5" transform="rotate(90 3529 202)"/><ellipse cx="3545" cy="187" rx="6.0" ry="3.8" transform="rotate(101 3545 187)"/><ellipse cx="3573" cy="188" rx="6.0" ry="3.6" transform="rotate(75 3573 188)"/><ellipse cx="3639" cy="215" rx="5.4" ry="2.5" transform="rotate(110 3639 215)"/><ellipse cx="3750" cy="210" rx="6.3" ry="3.7" transform="rotate(177 3750 210)"/><ellipse cx="3721" cy="241" rx="3.6" ry="2.7" transform="rotate(113 3721 241)"/><ellipse cx="3698" cy="196" rx="6.1" ry="3.6" transform="rotate(85 3698 196)"/><ellipse cx="3727" cy="196" rx="4.8" ry="3.0" transform="rotate(100 3727 196)"/><ellipse cx="3772" cy="213" rx="4.4" ry="3.4" transform="rotate(73 3772 213)"/><ellipse cx="3723" cy="197" rx="6.4" ry="4.6" transform="rotate(143 3723 197)"/><ellipse cx="3695" cy="218" rx="4.5" ry="2.5" transform="rotate(106 3695 218)"/><ellipse cx="3744" cy="197" rx="5.7" ry="4.6" transform="rotate(98 3744 197)"/><ellipse cx="3654" cy="194" rx="4.4" ry="2.0" transform="rotate(34 3654 194)"/><ellipse cx="3785" cy="224" rx="5.9" ry="4.8" transform="rotate(110 3785 224)"/><ellipse cx="3739" cy="216" rx="5.4" ry="3.9" transform="rotate(107 3739 216)"/><ellipse cx="3750" cy="204" rx="4.9" ry="3.7" transform="rotate(18 3750 204)"/><ellipse cx="3672" cy="222" rx="3.6" ry="2.7" transform="rotate(165 3672 222)"/><ellipse cx="3744" cy="224" rx="5.9" ry="4.0" transform="rotate(46 3744 224)"/><ellipse cx="3837" cy="235" rx="4.8" ry="2.8" transform="rotate(78 3837 235)"/><ellipse cx="3887" cy="216" rx="5.2" ry="2.4" transform="rotate(21 3887 216)"/><ellipse cx="3910" cy="215" rx="5.2" ry="4.3" transform="rotate(80 3910 215)"/><ellipse cx="3798" cy="223" rx="6.3" ry="5.3" transform="rotate(86 3798 223)"/><ellipse cx="3854" cy="226" rx="3.8" ry="2.7" transform="rotate(38 3854 226)"/><ellipse cx="3820" cy="204" rx="5.6" ry="2.8" transform="rotate(174 3820 204)"/><ellipse cx="3811" cy="201" rx="6.1" ry="3.1" transform="rotate(3 3811 201)"/><ellipse cx="3898" cy="212" rx="4.1" ry="1.9" transform="rotate(139 3898 212)"/><ellipse cx="3893" cy="247" rx="6.1" ry="4.5" transform="rotate(15 3893 247)"/><ellipse cx="3885" cy="216" rx="6.3" ry="3.5" transform="rotate(174 3885 216)"/><ellipse cx="3895" cy="235" rx="3.5" ry="1.6" transform="rotate(117 3895 235)"/><ellipse cx="3910" cy="229" rx="5.7" ry="2.9" transform="rotate(155 3910 229)"/><ellipse cx="3865" cy="217" rx="3.7" ry="2.2" transform="rotate(103 3865 217)"/><ellipse cx="3993" cy="208" rx="6.0" ry="3.6" transform="rotate(116 3993 208)"/><ellipse cx="4014" cy="209" rx="5.0" ry="3.0" transform="rotate(142 4014 209)"/><ellipse cx="4049" cy="210" rx="4.7" ry="2.2" transform="rotate(175 4049 210)"/><ellipse cx="4022" cy="211" rx="6.1" ry="3.5" transform="rotate(109 4022 211)"/><ellipse cx="4052" cy="211" rx="4.8" ry="3.0" transform="rotate(160 4052 211)"/><ellipse cx="3986" cy="210" rx="5.7" ry="3.9" transform="rotate(161 3986 210)"/><ellipse cx="2265" cy="185" rx="4.3" ry="2.7" transform="rotate(106 2265 185)"/><ellipse cx="2264" cy="186" rx="6.2" ry="2.9" transform="rotate(150 2264 186)"/><ellipse cx="2251" cy="186" rx="4.3" ry="3.4" transform="rotate(145 2251 186)"/><ellipse cx="2250" cy="166" rx="6.2" ry="3.7" transform="rotate(15 2250 166)"/><ellipse cx="2262" cy="146" rx="5.8" ry="4.7" transform="rotate(42 2262 146)"/><ellipse cx="2255" cy="154" rx="5.5" ry="3.5" transform="rotate(37 2255 154)"/><ellipse cx="2265" cy="99" rx="4.9" ry="2.4" transform="rotate(145 2265 99)"/><ellipse cx="2237" cy="180" rx="4.2" ry="2.9" transform="rotate(161 2237 180)"/><ellipse cx="2247" cy="197" rx="5.3" ry="2.8" transform="rotate(35 2247 197)"/><ellipse cx="2263" cy="88" rx="5.6" ry="3.3" transform="rotate(102 2263 88)"/><ellipse cx="2256" cy="122" rx="3.6" ry="3.1" transform="rotate(67 2256 122)"/><ellipse cx="2264" cy="76" rx="5.4" ry="4.1" transform="rotate(28 2264 76)"/><ellipse cx="2446" cy="159" rx="3.6" ry="1.7" transform="rotate(178 2446 159)"/><ellipse cx="2451" cy="196" rx="5.0" ry="3.4" transform="rotate(47 2451 196)"/><ellipse cx="2469" cy="184" rx="5.8" ry="4.5" transform="rotate(173 2469 184)"/><ellipse cx="2452" cy="111" rx="3.6" ry="1.9" transform="rotate(33 2452 111)"/><ellipse cx="2454" cy="87" rx="6.1" ry="3.9" transform="rotate(170 2454 87)"/><ellipse cx="2441" cy="202" rx="3.7" ry="2.5" transform="rotate(72 2441 202)"/><ellipse cx="2447" cy="92" rx="5.2" ry="3.7" transform="rotate(172 2447 92)"/><ellipse cx="2438" cy="169" rx="4.7" ry="2.9" transform="rotate(29 2438 169)"/><ellipse cx="2446" cy="210" rx="3.6" ry="2.0" transform="rotate(63 2446 210)"/><ellipse cx="2436" cy="201" rx="6.2" ry="4.9" transform="rotate(8 2436 201)"/><ellipse cx="2441" cy="185" rx="6.5" ry="3.0" transform="rotate(26 2441 185)"/><ellipse cx="744" cy="972" rx="6.3" ry="4.6" transform="rotate(54 744 972)"/><ellipse cx="701" cy="917" rx="4.5" ry="2.5" transform="rotate(22 701 917)"/><ellipse cx="715" cy="880" rx="4.0" ry="2.2" transform="rotate(26 715 880)"/><ellipse cx="750" cy="946" rx="4.1" ry="1.9" transform="rotate(167 750 946)"/><ellipse cx="704" cy="792" rx="6.3" ry="5.0" transform="rotate(160 704 792)"/><ellipse cx="713" cy="765" rx="6.3" ry="4.9" transform="rotate(113 713 765)"/><ellipse cx="705" cy="870" rx="4.5" ry="3.5" transform="rotate(86 705 870)"/><ellipse cx="714" cy="930" rx="3.7" ry="2.7" transform="rotate(100 714 930)"/><ellipse cx="717" cy="767" rx="6.1" ry="3.4" transform="rotate(74 717 767)"/><ellipse cx="708" cy="770" rx="4.5" ry="2.3" transform="rotate(88 708 770)"/><ellipse cx="760" cy="825" rx="6.2" ry="3.1" transform="rotate(176 760 825)"/><ellipse cx="737" cy="737" rx="4.1" ry="2.6" transform="rotate(52 737 737)"/><ellipse cx="729" cy="805" rx="4.1" ry="2.4" transform="rotate(178 729 805)"/><ellipse cx="713" cy="1054" rx="4.4" ry="3.5" transform="rotate(10 713 1054)"/><ellipse cx="706" cy="963" rx="4.4" ry="3.7" transform="rotate(3 706 963)"/><ellipse cx="709" cy="990" rx="3.5" ry="2.7" transform="rotate(95 709 990)"/><ellipse cx="715" cy="781" rx="4.8" ry="3.9" transform="rotate(39 715 781)"/><ellipse cx="713" cy="911" rx="5.8" ry="4.3" transform="rotate(35 713 911)"/><ellipse cx="715" cy="745" rx="3.8" ry="2.6" transform="rotate(89 715 745)"/><ellipse cx="712" cy="810" rx="5.6" ry="4.4" transform="rotate(105 712 810)"/><ellipse cx="742" cy="786" rx="3.7" ry="2.7" transform="rotate(73 742 786)"/><ellipse cx="754" cy="961" rx="4.5" ry="3.5" transform="rotate(156 754 961)"/><ellipse cx="720" cy="884" rx="3.5" ry="2.9" transform="rotate(86 720 884)"/><ellipse cx="702" cy="1012" rx="6.0" ry="3.6" transform="rotate(29 702 1012)"/><ellipse cx="720" cy="843" rx="5.3" ry="2.4" transform="rotate(94 720 843)"/><ellipse cx="716" cy="868" rx="5.6" ry="4.4" transform="rotate(156 716 868)"/><ellipse cx="702" cy="826" rx="5.6" ry="3.4" transform="rotate(135 702 826)"/><ellipse cx="755" cy="739" rx="5.0" ry="3.3" transform="rotate(95 755 739)"/><ellipse cx="756" cy="899" rx="3.6" ry="3.0" transform="rotate(40 756 899)"/><ellipse cx="719" cy="779" rx="6.0" ry="2.7" transform="rotate(17 719 779)"/><ellipse cx="714" cy="954" rx="4.1" ry="1.9" transform="rotate(108 714 954)"/><ellipse cx="722" cy="1006" rx="3.8" ry="3.0" transform="rotate(129 722 1006)"/><ellipse cx="698" cy="1040" rx="3.9" ry="2.5" transform="rotate(90 698 1040)"/><ellipse cx="746" cy="1027" rx="3.9" ry="2.7" transform="rotate(155 746 1027)"/><ellipse cx="724" cy="1028" rx="5.2" ry="3.9" transform="rotate(30 724 1028)"/><ellipse cx="836" cy="1020" rx="4.8" ry="3.7" transform="rotate(95 836 1020)"/><ellipse cx="765" cy="1038" rx="6.3" ry="4.8" transform="rotate(61 765 1038)"/><ellipse cx="739" cy="1033" rx="6.4" ry="5.0" transform="rotate(164 739 1033)"/><ellipse cx="834" cy="1020" rx="6.0" ry="2.8" transform="rotate(93 834 1020)"/><ellipse cx="858" cy="1027" rx="4.8" ry="3.4" transform="rotate(66 858 1027)"/><ellipse cx="787" cy="1040" rx="3.7" ry="2.3" transform="rotate(91 787 1040)"/><ellipse cx="703" cy="997" rx="5.8" ry="4.8" transform="rotate(114 703 997)"/><ellipse cx="833" cy="985" rx="6.2" ry="4.9" transform="rotate(6 833 985)"/><ellipse cx="806" cy="1045" rx="4.3" ry="2.9" transform="rotate(166 806 1045)"/><ellipse cx="802" cy="1002" rx="4.3" ry="2.8" transform="rotate(78 802 1002)"/><ellipse cx="857" cy="1043" rx="5.4" ry="2.7" transform="rotate(107 857 1043)"/><ellipse cx="858" cy="1023" rx="5.0" ry="2.8" transform="rotate(84 858 1023)"/><ellipse cx="788" cy="1040" rx="3.9" ry="2.2" transform="rotate(73 788 1040)"/><ellipse cx="747" cy="1037" rx="4.2" ry="2.1" transform="rotate(98 747 1037)"/><ellipse cx="827" cy="955" rx="5.5" ry="2.9" transform="rotate(128 827 955)"/><ellipse cx="830" cy="849" rx="5.1" ry="3.6" transform="rotate(84 830 849)"/><ellipse cx="844" cy="807" rx="5.0" ry="3.0" transform="rotate(105 844 807)"/><ellipse cx="832" cy="723" rx="4.6" ry="3.6" transform="rotate(43 832 723)"/><ellipse cx="830" cy="876" rx="6.5" ry="3.7" transform="rotate(139 830 876)"/><ellipse cx="844" cy="764" rx="3.7" ry="3.0" transform="rotate(79 844 764)"/><ellipse cx="830" cy="737" rx="5.7" ry="2.8" transform="rotate(41 830 737)"/><ellipse cx="832" cy="989" rx="5.7" ry="2.9" transform="rotate(61 832 989)"/><ellipse cx="834" cy="819" rx="6.0" ry="4.7" transform="rotate(93 834 819)"/><ellipse cx="823" cy="927" rx="5.7" ry="4.3" transform="rotate(86 823 927)"/><ellipse cx="835" cy="940" rx="3.9" ry="3.1" transform="rotate(1 835 940)"/><ellipse cx="806" cy="934" rx="5.3" ry="3.4" transform="rotate(173 806 934)"/><ellipse cx="818" cy="880" rx="6.1" ry="4.2" transform="rotate(68 818 880)"/><ellipse cx="829" cy="847" rx="4.9" ry="3.6" transform="rotate(53 829 847)"/><ellipse cx="828" cy="829" rx="4.5" ry="3.4" transform="rotate(153 828 829)"/><ellipse cx="839" cy="860" rx="4.8" ry="2.5" transform="rotate(55 839 860)"/><ellipse cx="824" cy="761" rx="3.8" ry="3.1" transform="rotate(58 824 761)"/><ellipse cx="834" cy="956" rx="6.0" ry="5.0" transform="rotate(37 834 956)"/><ellipse cx="843" cy="839" rx="3.6" ry="2.5" transform="rotate(90 843 839)"/><ellipse cx="844" cy="978" rx="5.8" ry="3.9" transform="rotate(180 844 978)"/><ellipse cx="818" cy="865" rx="4.7" ry="2.8" transform="rotate(107 818 865)"/><ellipse cx="756" cy="1045" rx="5.2" ry="3.2" transform="rotate(18 756 1045)"/><ellipse cx="760" cy="996" rx="4.9" ry="3.1" transform="rotate(158 760 996)"/><ellipse cx="854" cy="1004" rx="4.6" ry="3.0" transform="rotate(179 854 1004)"/><ellipse cx="755" cy="1008" rx="5.5" ry="2.6" transform="rotate(57 755 1008)"/><ellipse cx="857" cy="1034" rx="4.8" ry="2.1" transform="rotate(161 857 1034)"/><ellipse cx="810" cy="1034" rx="6.0" ry="4.5" transform="rotate(76 810 1034)"/><ellipse cx="725" cy="986" rx="4.8" ry="2.9" transform="rotate(34 725 986)"/><ellipse cx="729" cy="1017" rx="5.0" ry="2.7" transform="rotate(179 729 1017)"/><ellipse cx="802" cy="964" rx="4.5" ry="3.2" transform="rotate(55 802 964)"/><ellipse cx="811" cy="960" rx="4.3" ry="3.1" transform="rotate(106 811 960)"/><ellipse cx="807" cy="978" rx="4.7" ry="2.9" transform="rotate(48 807 978)"/><ellipse cx="803" cy="1008" rx="6.0" ry="3.8" transform="rotate(74 803 1008)"/><ellipse cx="719" cy="974" rx="5.4" ry="2.4" transform="rotate(18 719 974)"/><ellipse cx="727" cy="1007" rx="5.6" ry="3.6" transform="rotate(145 727 1007)"/><ellipse cx="710" cy="961" rx="5.4" ry="2.9" transform="rotate(129 710 961)"/><ellipse cx="757" cy="975" rx="4.2" ry="1.8" transform="rotate(163 757 975)"/><ellipse cx="793" cy="991" rx="4.6" ry="2.6" transform="rotate(10 793 991)"/><ellipse cx="842" cy="1012" rx="5.9" ry="3.4" transform="rotate(112 842 1012)"/><ellipse cx="740" cy="964" rx="5.8" ry="4.3" transform="rotate(57 740 964)"/><ellipse cx="844" cy="1033" rx="4.3" ry="2.7" transform="rotate(173 844 1033)"/><ellipse cx="779" cy="1045" rx="4.1" ry="2.3" transform="rotate(129 779 1045)"/><ellipse cx="735" cy="988" rx="5.7" ry="3.4" transform="rotate(143 735 988)"/><ellipse cx="739" cy="976" rx="4.4" ry="2.1" transform="rotate(175 739 976)"/><ellipse cx="747" cy="1011" rx="3.8" ry="2.3" transform="rotate(69 747 1011)"/><ellipse cx="765" cy="966" rx="3.8" ry="2.8" transform="rotate(63 765 966)"/><ellipse cx="739" cy="977" rx="4.2" ry="2.1" transform="rotate(6 739 977)"/><ellipse cx="806" cy="991" rx="3.9" ry="2.7" transform="rotate(17 806 991)"/><ellipse cx="743" cy="1035" rx="3.8" ry="2.2" transform="rotate(151 743 1035)"/><ellipse cx="829" cy="974" rx="4.4" ry="3.0" transform="rotate(68 829 974)"/><ellipse cx="853" cy="979" rx="5.9" ry="3.5" transform="rotate(41 853 979)"/><ellipse cx="621" cy="705" rx="3.9" ry="2.9" transform="rotate(47 621 705)"/><ellipse cx="678" cy="699" rx="4.2" ry="2.9" transform="rotate(38 678 699)"/><ellipse cx="674" cy="702" rx="3.9" ry="2.5" transform="rotate(98 674 702)"/><ellipse cx="598" cy="705" rx="5.5" ry="3.7" transform="rotate(56 598 705)"/><ellipse cx="613" cy="696" rx="3.8" ry="2.0" transform="rotate(153 613 696)"/><ellipse cx="605" cy="704" rx="5.2" ry="3.1" transform="rotate(90 605 704)"/><ellipse cx="602" cy="702" rx="3.7" ry="2.1" transform="rotate(41 602 702)"/><ellipse cx="580" cy="704" rx="4.7" ry="3.8" transform="rotate(139 580 704)"/><ellipse cx="676" cy="699" rx="6.1" ry="3.1" transform="rotate(50 676 699)"/><ellipse cx="473" cy="717" rx="4.9" ry="3.0" transform="rotate(119 473 717)"/><ellipse cx="533" cy="718" rx="4.6" ry="3.6" transform="rotate(63 533 718)"/><ellipse cx="527" cy="716" rx="6.3" ry="4.7" transform="rotate(128 527 716)"/><ellipse cx="474" cy="717" rx="4.1" ry="2.1" transform="rotate(36 474 717)"/><ellipse cx="497" cy="716" rx="4.8" ry="3.4" transform="rotate(32 497 716)"/><ellipse cx="839" cy="1944" rx="5.2" ry="3.8" transform="rotate(46 839 1944)"/><ellipse cx="736" cy="1950" rx="3.5" ry="2.7" transform="rotate(140 736 1950)"/><ellipse cx="698" cy="1963" rx="3.6" ry="2.9" transform="rotate(109 698 1963)"/><ellipse cx="637" cy="1940" rx="5.9" ry="3.1" transform="rotate(165 637 1940)"/><ellipse cx="816" cy="1952" rx="3.8" ry="2.7" transform="rotate(71 816 1952)"/><ellipse cx="816" cy="1950" rx="3.8" ry="3.1" transform="rotate(76 816 1950)"/><ellipse cx="862" cy="1958" rx="5.6" ry="4.2" transform="rotate(149 862 1958)"/><ellipse cx="785" cy="1948" rx="5.6" ry="3.5" transform="rotate(92 785 1948)"/><ellipse cx="862" cy="1942" rx="3.9" ry="2.9" transform="rotate(8 862 1942)"/><ellipse cx="804" cy="1947" rx="5.1" ry="4.3" transform="rotate(115 804 1947)"/><ellipse cx="764" cy="1959" rx="4.2" ry="2.0" transform="rotate(64 764 1959)"/><ellipse cx="730" cy="1947" rx="3.9" ry="2.9" transform="rotate(121 730 1947)"/><ellipse cx="686" cy="1962" rx="4.2" ry="2.8" transform="rotate(80 686 1962)"/><ellipse cx="864" cy="1953" rx="6.2" ry="3.1" transform="rotate(101 864 1953)"/><ellipse cx="710" cy="1958" rx="5.9" ry="4.0" transform="rotate(137 710 1958)"/><ellipse cx="668" cy="1958" rx="4.9" ry="3.7" transform="rotate(150 668 1958)"/><ellipse cx="654" cy="1971" rx="4.4" ry="2.6" transform="rotate(37 654 1971)"/><ellipse cx="640" cy="1943" rx="5.6" ry="3.5" transform="rotate(20 640 1943)"/><ellipse cx="708" cy="1957" rx="4.9" ry="2.9" transform="rotate(30 708 1957)"/><ellipse cx="644" cy="2024" rx="5.8" ry="2.8" transform="rotate(129 644 2024)"/><ellipse cx="875" cy="1945" rx="5.2" ry="2.6" transform="rotate(88 875 1945)"/><ellipse cx="736" cy="1952" rx="3.5" ry="2.9" transform="rotate(116 736 1952)"/><ellipse cx="583" cy="1931" rx="6.3" ry="4.5" transform="rotate(45 583 1931)"/><ellipse cx="545" cy="1929" rx="5.9" ry="4.7" transform="rotate(53 545 1929)"/><ellipse cx="539" cy="1929" rx="5.6" ry="4.4" transform="rotate(167 539 1929)"/><ellipse cx="537" cy="1929" rx="5.9" ry="3.4" transform="rotate(33 537 1929)"/><ellipse cx="602" cy="1933" rx="4.8" ry="2.9" transform="rotate(99 602 1933)"/><ellipse cx="630" cy="2218" rx="3.6" ry="2.5" transform="rotate(113 630 2218)"/><ellipse cx="668" cy="2210" rx="5.6" ry="4.6" transform="rotate(170 668 2210)"/><ellipse cx="641" cy="2213" rx="4.4" ry="3.0" transform="rotate(14 641 2213)"/><ellipse cx="658" cy="2224" rx="4.0" ry="2.5" transform="rotate(175 658 2224)"/><ellipse cx="606" cy="2205" rx="4.1" ry="3.0" transform="rotate(1 606 2205)"/><ellipse cx="671" cy="2217" rx="6.1" ry="4.6" transform="rotate(77 671 2217)"/><ellipse cx="623" cy="2213" rx="4.8" ry="2.8" transform="rotate(79 623 2213)"/><ellipse cx="655" cy="2203" rx="6.0" ry="4.9" transform="rotate(30 655 2203)"/><ellipse cx="748" cy="2254" rx="4.5" ry="2.4" transform="rotate(15 748 2254)"/><ellipse cx="740" cy="2268" rx="4.9" ry="4.1" transform="rotate(164 740 2268)"/><ellipse cx="840" cy="2323" rx="5.4" ry="4.2" transform="rotate(11 840 2323)"/><ellipse cx="784" cy="2322" rx="5.3" ry="3.0" transform="rotate(103 784 2322)"/><ellipse cx="834" cy="2350" rx="4.4" ry="2.6" transform="rotate(159 834 2350)"/><ellipse cx="699" cy="2228" rx="4.1" ry="2.9" transform="rotate(81 699 2228)"/><ellipse cx="711" cy="2232" rx="5.2" ry="3.2" transform="rotate(95 711 2232)"/><ellipse cx="776" cy="2300" rx="4.7" ry="2.3" transform="rotate(32 776 2300)"/><ellipse cx="811" cy="2353" rx="6.1" ry="3.4" transform="rotate(17 811 2353)"/><ellipse cx="761" cy="2303" rx="4.3" ry="2.7" transform="rotate(100 761 2303)"/><ellipse cx="728" cy="2254" rx="5.0" ry="3.5" transform="rotate(14 728 2254)"/><ellipse cx="747" cy="2284" rx="3.7" ry="2.3" transform="rotate(155 747 2284)"/><ellipse cx="767" cy="2303" rx="3.8" ry="3.3" transform="rotate(130 767 2303)"/><ellipse cx="731" cy="2220" rx="6.0" ry="3.6" transform="rotate(31 731 2220)"/><ellipse cx="837" cy="2349" rx="3.9" ry="3.0" transform="rotate(10 837 2349)"/><ellipse cx="733" cy="2252" rx="4.6" ry="2.1" transform="rotate(107 733 2252)"/><ellipse cx="727" cy="2251" rx="4.8" ry="3.8" transform="rotate(112 727 2251)"/><ellipse cx="825" cy="2337" rx="5.2" ry="4.2" transform="rotate(157 825 2337)"/><ellipse cx="821" cy="2446" rx="5.8" ry="4.2" transform="rotate(149 821 2446)"/><ellipse cx="838" cy="2429" rx="4.6" ry="3.4" transform="rotate(171 838 2429)"/><ellipse cx="847" cy="2658" rx="3.8" ry="2.5" transform="rotate(145 847 2658)"/><ellipse cx="827" cy="2425" rx="6.3" ry="4.5" transform="rotate(46 827 2425)"/><ellipse cx="857" cy="2456" rx="5.2" ry="2.6" transform="rotate(4 857 2456)"/><ellipse cx="833" cy="2424" rx="5.9" ry="3.1" transform="rotate(100 833 2424)"/><ellipse cx="828" cy="2493" rx="3.9" ry="3.1" transform="rotate(97 828 2493)"/><ellipse cx="838" cy="2646" rx="5.9" ry="4.9" transform="rotate(2 838 2646)"/><ellipse cx="834" cy="2513" rx="6.1" ry="4.7" transform="rotate(6 834 2513)"/><ellipse cx="839" cy="2452" rx="6.0" ry="4.3" transform="rotate(71 839 2452)"/><ellipse cx="841" cy="2564" rx="4.7" ry="3.7" transform="rotate(110 841 2564)"/><ellipse cx="853" cy="2411" rx="4.5" ry="2.4" transform="rotate(161 853 2411)"/><ellipse cx="832" cy="2608" rx="4.6" ry="2.9" transform="rotate(104 832 2608)"/><ellipse cx="823" cy="2531" rx="4.6" ry="2.1" transform="rotate(104 823 2531)"/><ellipse cx="842" cy="2510" rx="6.5" ry="3.0" transform="rotate(26 842 2510)"/><ellipse cx="823" cy="2639" rx="4.3" ry="2.4" transform="rotate(90 823 2639)"/><ellipse cx="843" cy="2482" rx="6.4" ry="5.4" transform="rotate(6 843 2482)"/><ellipse cx="830" cy="2597" rx="5.8" ry="4.6" transform="rotate(139 830 2597)"/><ellipse cx="833" cy="2624" rx="4.3" ry="3.3" transform="rotate(157 833 2624)"/><ellipse cx="834" cy="2742" rx="5.5" ry="3.2" transform="rotate(137 834 2742)"/><ellipse cx="849" cy="2665" rx="4.6" ry="3.1" transform="rotate(73 849 2665)"/><ellipse cx="822" cy="2405" rx="4.5" ry="2.6" transform="rotate(178 822 2405)"/><ellipse cx="830" cy="2566" rx="4.2" ry="2.5" transform="rotate(24 830 2566)"/><ellipse cx="831" cy="2385" rx="6.1" ry="3.9" transform="rotate(80 831 2385)"/><ellipse cx="824" cy="2600" rx="3.7" ry="2.1" transform="rotate(56 824 2600)"/><ellipse cx="832" cy="2660" rx="5.2" ry="4.3" transform="rotate(61 832 2660)"/><ellipse cx="827" cy="2735" rx="4.0" ry="2.8" transform="rotate(178 827 2735)"/><ellipse cx="824" cy="2519" rx="5.8" ry="3.6" transform="rotate(156 824 2519)"/><ellipse cx="863" cy="2408" rx="4.3" ry="2.4" transform="rotate(4 863 2408)"/><ellipse cx="824" cy="2445" rx="4.3" ry="3.1" transform="rotate(39 824 2445)"/><ellipse cx="828" cy="2535" rx="6.1" ry="4.3" transform="rotate(35 828 2535)"/><ellipse cx="846" cy="2663" rx="6.4" ry="4.4" transform="rotate(14 846 2663)"/><ellipse cx="833" cy="2692" rx="3.9" ry="2.1" transform="rotate(97 833 2692)"/><ellipse cx="833" cy="2717" rx="5.4" ry="4.4" transform="rotate(38 833 2717)"/><ellipse cx="820" cy="2507" rx="4.7" ry="3.4" transform="rotate(61 820 2507)"/><ellipse cx="607" cy="2266" rx="4.7" ry="2.2" transform="rotate(113 607 2266)"/><ellipse cx="630" cy="2263" rx="4.3" ry="2.7" transform="rotate(2 630 2263)"/><ellipse cx="679" cy="2243" rx="5.2" ry="4.4" transform="rotate(10 679 2243)"/><ellipse cx="653" cy="2246" rx="3.8" ry="1.9" transform="rotate(26 653 2246)"/><ellipse cx="666" cy="2255" rx="3.8" ry="2.9" transform="rotate(76 666 2255)"/><ellipse cx="647" cy="2259" rx="5.5" ry="3.8" transform="rotate(60 647 2259)"/><ellipse cx="578" cy="2239" rx="4.6" ry="3.4" transform="rotate(137 578 2239)"/><ellipse cx="581" cy="2239" rx="6.4" ry="4.1" transform="rotate(50 581 2239)"/><ellipse cx="561" cy="2241" rx="6.4" ry="3.2" transform="rotate(2 561 2241)"/><ellipse cx="557" cy="2240" rx="4.9" ry="4.1" transform="rotate(41 557 2240)"/><ellipse cx="812" cy="2816" rx="4.2" ry="1.9" transform="rotate(24 812 2816)"/><ellipse cx="810" cy="2774" rx="4.5" ry="3.7" transform="rotate(66 810 2774)"/><ellipse cx="812" cy="2779" rx="4.4" ry="3.3" transform="rotate(166 812 2779)"/><ellipse cx="1185" cy="2749" rx="4.2" ry="3.6" transform="rotate(90 1185 2749)"/><ellipse cx="1211" cy="2701" rx="4.5" ry="3.5" transform="rotate(83 1211 2701)"/><ellipse cx="1210" cy="2733" rx="5.7" ry="2.7" transform="rotate(116 1210 2733)"/><ellipse cx="1212" cy="2725" rx="6.1" ry="2.9" transform="rotate(102 1212 2725)"/><ellipse cx="1177" cy="2724" rx="5.4" ry="2.9" transform="rotate(45 1177 2724)"/><ellipse cx="1195" cy="2739" rx="4.8" ry="2.6" transform="rotate(37 1195 2739)"/><ellipse cx="1207" cy="2689" rx="6.5" ry="3.5" transform="rotate(103 1207 2689)"/><ellipse cx="1205" cy="2749" rx="6.1" ry="4.9" transform="rotate(48 1205 2749)"/><ellipse cx="1210" cy="2690" rx="4.5" ry="2.9" transform="rotate(160 1210 2690)"/><ellipse cx="1203" cy="2749" rx="5.5" ry="3.8" transform="rotate(82 1203 2749)"/><ellipse cx="1221" cy="2644" rx="6.2" ry="3.7" transform="rotate(140 1221 2644)"/><ellipse cx="1225" cy="2641" rx="4.0" ry="3.2" transform="rotate(179 1225 2641)"/><ellipse cx="1391" cy="2634" rx="6.4" ry="2.9" transform="rotate(164 1391 2634)"/><ellipse cx="1317" cy="2641" rx="5.7" ry="2.8" transform="rotate(30 1317 2641)"/><ellipse cx="1587" cy="2630" rx="6.3" ry="4.6" transform="rotate(159 1587 2630)"/><ellipse cx="1738" cy="2636" rx="3.6" ry="2.0" transform="rotate(143 1738 2636)"/><ellipse cx="1590" cy="2622" rx="4.2" ry="2.6" transform="rotate(19 1590 2622)"/><ellipse cx="1250" cy="2637" rx="6.5" ry="3.7" transform="rotate(158 1250 2637)"/><ellipse cx="1301" cy="2632" rx="4.8" ry="2.5" transform="rotate(123 1301 2632)"/><ellipse cx="1315" cy="2642" rx="5.7" ry="3.7" transform="rotate(20 1315 2642)"/><ellipse cx="1420" cy="2601" rx="4.5" ry="2.4" transform="rotate(174 1420 2601)"/><ellipse cx="1689" cy="2644" rx="5.7" ry="3.2" transform="rotate(32 1689 2644)"/><ellipse cx="1375" cy="2638" rx="5.0" ry="3.1" transform="rotate(100 1375 2638)"/><ellipse cx="1424" cy="2641" rx="3.5" ry="2.6" transform="rotate(118 1424 2641)"/><ellipse cx="1517" cy="2616" rx="6.4" ry="5.2" transform="rotate(129 1517 2616)"/><ellipse cx="1443" cy="2634" rx="4.5" ry="2.8" transform="rotate(175 1443 2634)"/><ellipse cx="1437" cy="2629" rx="3.9" ry="3.3" transform="rotate(1 1437 2629)"/><ellipse cx="1549" cy="2631" rx="6.3" ry="3.5" transform="rotate(110 1549 2631)"/><ellipse cx="1432" cy="2642" rx="3.8" ry="3.0" transform="rotate(141 1432 2642)"/><ellipse cx="1702" cy="2632" rx="3.6" ry="2.7" transform="rotate(58 1702 2632)"/><ellipse cx="1568" cy="2628" rx="6.4" ry="2.9" transform="rotate(134 1568 2628)"/><ellipse cx="1674" cy="2640" rx="5.0" ry="3.5" transform="rotate(179 1674 2640)"/><ellipse cx="1359" cy="2621" rx="4.6" ry="3.4" transform="rotate(71 1359 2621)"/><ellipse cx="1508" cy="2621" rx="5.3" ry="3.8" transform="rotate(58 1508 2621)"/><ellipse cx="1560" cy="2631" rx="5.3" ry="3.0" transform="rotate(164 1560 2631)"/><ellipse cx="1481" cy="2640" rx="5.7" ry="3.7" transform="rotate(86 1481 2640)"/><ellipse cx="1353" cy="2616" rx="5.1" ry="3.4" transform="rotate(95 1353 2616)"/><ellipse cx="1653" cy="2611" rx="4.2" ry="2.2" transform="rotate(148 1653 2611)"/><ellipse cx="1474" cy="2621" rx="6.2" ry="4.9" transform="rotate(8 1474 2621)"/><ellipse cx="1434" cy="2616" rx="6.0" ry="4.7" transform="rotate(22 1434 2616)"/><ellipse cx="1318" cy="2642" rx="4.6" ry="3.5" transform="rotate(94 1318 2642)"/><ellipse cx="1470" cy="2635" rx="3.8" ry="2.3" transform="rotate(179 1470 2635)"/><ellipse cx="1593" cy="2624" rx="5.9" ry="4.4" transform="rotate(27 1593 2624)"/><ellipse cx="1586" cy="2637" rx="4.6" ry="3.0" transform="rotate(43 1586 2637)"/><ellipse cx="1428" cy="2633" rx="3.6" ry="1.9" transform="rotate(103 1428 2633)"/><ellipse cx="1269" cy="2627" rx="4.0" ry="3.0" transform="rotate(49 1269 2627)"/><ellipse cx="1405" cy="2641" rx="3.8" ry="2.7" transform="rotate(155 1405 2641)"/><ellipse cx="1343" cy="2607" rx="4.8" ry="3.7" transform="rotate(111 1343 2607)"/><ellipse cx="1429" cy="2623" rx="4.6" ry="3.4" transform="rotate(53 1429 2623)"/><ellipse cx="1447" cy="2638" rx="5.4" ry="4.2" transform="rotate(63 1447 2638)"/><ellipse cx="1436" cy="2605" rx="4.1" ry="3.4" transform="rotate(128 1436 2605)"/><ellipse cx="1429" cy="2623" rx="5.5" ry="3.2" transform="rotate(13 1429 2623)"/><ellipse cx="1624" cy="2627" rx="5.0" ry="4.0" transform="rotate(136 1624 2627)"/><ellipse cx="1253" cy="2626" rx="5.3" ry="3.4" transform="rotate(83 1253 2626)"/><ellipse cx="1667" cy="2626" rx="6.2" ry="3.9" transform="rotate(88 1667 2626)"/><ellipse cx="1500" cy="2633" rx="6.0" ry="4.3" transform="rotate(133 1500 2633)"/><ellipse cx="1444" cy="2616" rx="5.2" ry="3.9" transform="rotate(139 1444 2616)"/><ellipse cx="1300" cy="2635" rx="4.2" ry="2.0" transform="rotate(147 1300 2635)"/><ellipse cx="1292" cy="2615" rx="5.2" ry="2.5" transform="rotate(123 1292 2615)"/><ellipse cx="1788" cy="2632" rx="4.9" ry="2.3" transform="rotate(124 1788 2632)"/><ellipse cx="1795" cy="2616" rx="6.1" ry="3.1" transform="rotate(60 1795 2616)"/><ellipse cx="1781" cy="2591" rx="4.3" ry="2.4" transform="rotate(56 1781 2591)"/><ellipse cx="1762" cy="2644" rx="6.1" ry="4.1" transform="rotate(92 1762 2644)"/><ellipse cx="1906" cy="2637" rx="6.1" ry="4.7" transform="rotate(154 1906 2637)"/><ellipse cx="1865" cy="2646" rx="4.1" ry="1.9" transform="rotate(97 1865 2646)"/><ellipse cx="1894" cy="2631" rx="5.3" ry="3.1" transform="rotate(144 1894 2631)"/><ellipse cx="1850" cy="2646" rx="6.3" ry="4.2" transform="rotate(9 1850 2646)"/><ellipse cx="1879" cy="2633" rx="5.2" ry="3.0" transform="rotate(49 1879 2633)"/><ellipse cx="1999" cy="2650" rx="4.4" ry="3.2" transform="rotate(144 1999 2650)"/><ellipse cx="1949" cy="2611" rx="4.8" ry="3.9" transform="rotate(10 1949 2611)"/><ellipse cx="1909" cy="2640" rx="5.4" ry="2.5" transform="rotate(155 1909 2640)"/><ellipse cx="1818" cy="2641" rx="6.3" ry="4.2" transform="rotate(144 1818 2641)"/><ellipse cx="1925" cy="2646" rx="5.5" ry="4.0" transform="rotate(53 1925 2646)"/><ellipse cx="1853" cy="2645" rx="6.3" ry="3.3" transform="rotate(18 1853 2645)"/><ellipse cx="1824" cy="2641" rx="5.9" ry="4.9" transform="rotate(75 1824 2641)"/><ellipse cx="1965" cy="2651" rx="5.6" ry="2.8" transform="rotate(10 1965 2651)"/><ellipse cx="1975" cy="2612" rx="3.6" ry="2.8" transform="rotate(53 1975 2612)"/><ellipse cx="1859" cy="2637" rx="5.2" ry="2.7" transform="rotate(164 1859 2637)"/><ellipse cx="1881" cy="2643" rx="6.0" ry="3.1" transform="rotate(144 1881 2643)"/><ellipse cx="2045" cy="2651" rx="4.6" ry="3.3" transform="rotate(40 2045 2651)"/><ellipse cx="1937" cy="2650" rx="3.8" ry="2.4" transform="rotate(131 1937 2650)"/><ellipse cx="1908" cy="2648" rx="6.0" ry="3.0" transform="rotate(166 1908 2648)"/><ellipse cx="2049" cy="2647" rx="6.3" ry="4.2" transform="rotate(52 2049 2647)"/><ellipse cx="1887" cy="2652" rx="6.3" ry="3.1" transform="rotate(87 1887 2652)"/><ellipse cx="2017" cy="2632" rx="5.3" ry="3.5" transform="rotate(16 2017 2632)"/><ellipse cx="1835" cy="2645" rx="6.0" ry="3.3" transform="rotate(166 1835 2645)"/><ellipse cx="2015" cy="2629" rx="5.3" ry="4.4" transform="rotate(62 2015 2629)"/><ellipse cx="2055" cy="2641" rx="4.5" ry="2.8" transform="rotate(45 2055 2641)"/><ellipse cx="2056" cy="2624" rx="4.0" ry="3.1" transform="rotate(54 2056 2624)"/><ellipse cx="2048" cy="2644" rx="5.2" ry="3.9" transform="rotate(107 2048 2644)"/><ellipse cx="2055" cy="2633" rx="3.6" ry="2.4" transform="rotate(18 2055 2633)"/><ellipse cx="2047" cy="2571" rx="4.6" ry="2.7" transform="rotate(119 2047 2571)"/><ellipse cx="2044" cy="2607" rx="4.0" ry="3.3" transform="rotate(60 2044 2607)"/><ellipse cx="2049" cy="2556" rx="3.9" ry="1.9" transform="rotate(158 2049 2556)"/><ellipse cx="2047" cy="2611" rx="5.0" ry="3.3" transform="rotate(21 2047 2611)"/><ellipse cx="2051" cy="2584" rx="5.0" ry="3.0" transform="rotate(36 2051 2584)"/><ellipse cx="2043" cy="2589" rx="4.1" ry="2.1" transform="rotate(43 2043 2589)"/><ellipse cx="2024" cy="2553" rx="3.5" ry="2.9" transform="rotate(88 2024 2553)"/><ellipse cx="2089" cy="2527" rx="5.2" ry="3.8" transform="rotate(41 2089 2527)"/><ellipse cx="2084" cy="2520" rx="3.6" ry="2.2" transform="rotate(93 2084 2520)"/><ellipse cx="2072" cy="2522" rx="6.2" ry="3.0" transform="rotate(104 2072 2522)"/><ellipse cx="2192" cy="2498" rx="5.6" ry="2.7" transform="rotate(44 2192 2498)"/><ellipse cx="2339" cy="2508" rx="6.4" ry="3.0" transform="rotate(111 2339 2508)"/><ellipse cx="2376" cy="2521" rx="5.9" ry="3.8" transform="rotate(166 2376 2521)"/><ellipse cx="2103" cy="2508" rx="6.3" ry="3.9" transform="rotate(73 2103 2508)"/><ellipse cx="2134" cy="2523" rx="5.5" ry="2.8" transform="rotate(62 2134 2523)"/><ellipse cx="2155" cy="2494" rx="4.1" ry="2.2" transform="rotate(60 2155 2494)"/><ellipse cx="2491" cy="2495" rx="4.9" ry="3.2" transform="rotate(140 2491 2495)"/><ellipse cx="2463" cy="2528" rx="5.8" ry="4.1" transform="rotate(36 2463 2528)"/><ellipse cx="2350" cy="2508" rx="3.8" ry="2.8" transform="rotate(63 2350 2508)"/><ellipse cx="2164" cy="2497" rx="6.4" ry="4.6" transform="rotate(134 2164 2497)"/><ellipse cx="2153" cy="2504" rx="6.2" ry="4.6" transform="rotate(150 2153 2504)"/><ellipse cx="2421" cy="2489" rx="5.3" ry="3.3" transform="rotate(149 2421 2489)"/><ellipse cx="2414" cy="2517" rx="6.4" ry="4.2" transform="rotate(170 2414 2517)"/><ellipse cx="2145" cy="2513" rx="6.4" ry="4.9" transform="rotate(45 2145 2513)"/><ellipse cx="2435" cy="2527" rx="4.9" ry="2.7" transform="rotate(89 2435 2527)"/><ellipse cx="2463" cy="2516" rx="5.6" ry="4.1" transform="rotate(71 2463 2516)"/><ellipse cx="2413" cy="2520" rx="6.3" ry="4.9" transform="rotate(73 2413 2520)"/><ellipse cx="2133" cy="2497" rx="5.5" ry="4.3" transform="rotate(61 2133 2497)"/><ellipse cx="2337" cy="2510" rx="3.5" ry="2.3" transform="rotate(3 2337 2510)"/><ellipse cx="2143" cy="2496" rx="5.9" ry="3.7" transform="rotate(109 2143 2496)"/><ellipse cx="2282" cy="2520" rx="4.6" ry="3.6" transform="rotate(111 2282 2520)"/><ellipse cx="2216" cy="2514" rx="3.8" ry="2.1" transform="rotate(126 2216 2514)"/><ellipse cx="2276" cy="2508" rx="3.9" ry="2.8" transform="rotate(7 2276 2508)"/><ellipse cx="2429" cy="2499" rx="4.1" ry="2.3" transform="rotate(172 2429 2499)"/><ellipse cx="2244" cy="2519" rx="5.3" ry="4.3" transform="rotate(71 2244 2519)"/><ellipse cx="2299" cy="2487" rx="6.4" ry="4.2" transform="rotate(178 2299 2487)"/><ellipse cx="2174" cy="2519" rx="5.1" ry="2.3" transform="rotate(32 2174 2519)"/><ellipse cx="2478" cy="2519" rx="4.9" ry="3.8" transform="rotate(45 2478 2519)"/><ellipse cx="2240" cy="2506" rx="6.1" ry="4.0" transform="rotate(68 2240 2506)"/><ellipse cx="2472" cy="2514" rx="6.2" ry="4.4" transform="rotate(14 2472 2514)"/><ellipse cx="2350" cy="2482" rx="4.6" ry="3.3" transform="rotate(114 2350 2482)"/><ellipse cx="2249" cy="2510" rx="5.1" ry="3.7" transform="rotate(163 2249 2510)"/><ellipse cx="2299" cy="2493" rx="3.7" ry="2.9" transform="rotate(123 2299 2493)"/><ellipse cx="2323" cy="2488" rx="4.8" ry="3.6" transform="rotate(160 2323 2488)"/><ellipse cx="2391" cy="2528" rx="4.5" ry="2.3" transform="rotate(172 2391 2528)"/><ellipse cx="2457" cy="2523" rx="3.9" ry="2.7" transform="rotate(104 2457 2523)"/><ellipse cx="2117" cy="2500" rx="5.4" ry="3.1" transform="rotate(137 2117 2500)"/><ellipse cx="2534" cy="2529" rx="5.1" ry="3.2" transform="rotate(176 2534 2529)"/><ellipse cx="2544" cy="2552" rx="4.6" ry="3.9" transform="rotate(128 2544 2552)"/><ellipse cx="2558" cy="2541" rx="4.3" ry="2.2" transform="rotate(104 2558 2541)"/><ellipse cx="2549" cy="2564" rx="3.9" ry="2.6" transform="rotate(158 2549 2564)"/><ellipse cx="2526" cy="2526" rx="5.7" ry="3.0" transform="rotate(56 2526 2526)"/><ellipse cx="2513" cy="2530" rx="6.4" ry="5.3" transform="rotate(34 2513 2530)"/><ellipse cx="2603" cy="2557" rx="6.3" ry="3.3" transform="rotate(58 2603 2557)"/><ellipse cx="2625" cy="2564" rx="4.7" ry="2.8" transform="rotate(173 2625 2564)"/><ellipse cx="2595" cy="2565" rx="4.1" ry="3.3" transform="rotate(81 2595 2565)"/><ellipse cx="2694" cy="2557" rx="4.4" ry="2.3" transform="rotate(136 2694 2557)"/><ellipse cx="2631" cy="2551" rx="5.2" ry="3.7" transform="rotate(135 2631 2551)"/><ellipse cx="2597" cy="2547" rx="5.1" ry="2.9" transform="rotate(113 2597 2547)"/><ellipse cx="2595" cy="2542" rx="5.8" ry="2.7" transform="rotate(149 2595 2542)"/><ellipse cx="2648" cy="2549" rx="4.3" ry="2.4" transform="rotate(13 2648 2549)"/><ellipse cx="2645" cy="2541" rx="5.8" ry="4.2" transform="rotate(74 2645 2541)"/><ellipse cx="2689" cy="2566" rx="5.4" ry="4.5" transform="rotate(114 2689 2566)"/><ellipse cx="2669" cy="2567" rx="5.8" ry="3.5" transform="rotate(169 2669 2567)"/><ellipse cx="2677" cy="2568" rx="5.9" ry="3.5" transform="rotate(33 2677 2568)"/><ellipse cx="2700" cy="2563" rx="5.1" ry="3.4" transform="rotate(120 2700 2563)"/><ellipse cx="2705" cy="2568" rx="3.7" ry="2.3" transform="rotate(90 2705 2568)"/><ellipse cx="2696" cy="2566" rx="5.5" ry="3.7" transform="rotate(73 2696 2566)"/><ellipse cx="2648" cy="2571" rx="5.9" ry="4.6" transform="rotate(27 2648 2571)"/><ellipse cx="2722" cy="2521" rx="5.8" ry="3.7" transform="rotate(162 2722 2521)"/><ellipse cx="2759" cy="2532" rx="5.4" ry="4.4" transform="rotate(24 2759 2532)"/><ellipse cx="2725" cy="2520" rx="5.6" ry="3.9" transform="rotate(50 2725 2520)"/><ellipse cx="2697" cy="2560" rx="4.3" ry="2.3" transform="rotate(40 2697 2560)"/><ellipse cx="2703" cy="2563" rx="5.5" ry="4.6" transform="rotate(144 2703 2563)"/><ellipse cx="2731" cy="2561" rx="6.0" ry="3.5" transform="rotate(1 2731 2561)"/><ellipse cx="2741" cy="2543" rx="3.9" ry="2.2" transform="rotate(11 2741 2543)"/><ellipse cx="2846" cy="2495" rx="3.6" ry="2.8" transform="rotate(20 2846 2495)"/><ellipse cx="2810" cy="2514" rx="5.4" ry="3.2" transform="rotate(60 2810 2514)"/><ellipse cx="2864" cy="2522" rx="4.1" ry="3.2" transform="rotate(146 2864 2522)"/><ellipse cx="2861" cy="2495" rx="3.6" ry="2.7" transform="rotate(5 2861 2495)"/><ellipse cx="2854" cy="2522" rx="5.4" ry="4.0" transform="rotate(105 2854 2522)"/><ellipse cx="2837" cy="2524" rx="5.0" ry="3.5" transform="rotate(41 2837 2524)"/><ellipse cx="2913" cy="2497" rx="6.4" ry="3.7" transform="rotate(178 2913 2497)"/><ellipse cx="2785" cy="2524" rx="4.9" ry="2.5" transform="rotate(82 2785 2524)"/><ellipse cx="2882" cy="2524" rx="4.5" ry="2.4" transform="rotate(73 2882 2524)"/><ellipse cx="2819" cy="2506" rx="4.1" ry="3.0" transform="rotate(93 2819 2506)"/><ellipse cx="2844" cy="2518" rx="4.1" ry="2.3" transform="rotate(101 2844 2518)"/><ellipse cx="2886" cy="2502" rx="6.4" ry="4.8" transform="rotate(171 2886 2502)"/><ellipse cx="2920" cy="2526" rx="3.7" ry="2.0" transform="rotate(2 2920 2526)"/><ellipse cx="2912" cy="2501" rx="5.7" ry="4.0" transform="rotate(47 2912 2501)"/><ellipse cx="2831" cy="2513" rx="6.5" ry="3.7" transform="rotate(8 2831 2513)"/><ellipse cx="2998" cy="2571" rx="4.6" ry="3.7" transform="rotate(145 2998 2571)"/><ellipse cx="3050" cy="2660" rx="4.0" ry="3.0" transform="rotate(85 3050 2660)"/><ellipse cx="3171" cy="2814" rx="6.2" ry="4.8" transform="rotate(86 3171 2814)"/><ellipse cx="3133" cy="2765" rx="5.2" ry="3.4" transform="rotate(38 3133 2765)"/><ellipse cx="3003" cy="2603" rx="3.6" ry="2.9" transform="rotate(128 3003 2603)"/><ellipse cx="3172" cy="2792" rx="5.7" ry="3.4" transform="rotate(146 3172 2792)"/><ellipse cx="3134" cy="2773" rx="3.9" ry="1.8" transform="rotate(39 3134 2773)"/><ellipse cx="3075" cy="2701" rx="6.0" ry="4.6" transform="rotate(83 3075 2701)"/><ellipse cx="2951" cy="2547" rx="6.2" ry="4.1" transform="rotate(13 2951 2547)"/><ellipse cx="3036" cy="2610" rx="5.0" ry="3.5" transform="rotate(37 3036 2610)"/><ellipse cx="3017" cy="2587" rx="6.2" ry="3.7" transform="rotate(19 3017 2587)"/><ellipse cx="3082" cy="2698" rx="4.9" ry="3.3" transform="rotate(115 3082 2698)"/><ellipse cx="3109" cy="2731" rx="4.8" ry="2.3" transform="rotate(130 3109 2731)"/><ellipse cx="2967" cy="2539" rx="5.5" ry="4.1" transform="rotate(43 2967 2539)"/><ellipse cx="3091" cy="2718" rx="5.6" ry="3.6" transform="rotate(26 3091 2718)"/><ellipse cx="3152" cy="2790" rx="4.2" ry="3.6" transform="rotate(41 3152 2790)"/><ellipse cx="3033" cy="2645" rx="5.9" ry="4.6" transform="rotate(114 3033 2645)"/><ellipse cx="3116" cy="2741" rx="6.4" ry="5.0" transform="rotate(7 3116 2741)"/><ellipse cx="2952" cy="2548" rx="4.2" ry="3.5" transform="rotate(40 2952 2548)"/><ellipse cx="3113" cy="2711" rx="6.3" ry="3.5" transform="rotate(28 3113 2711)"/><ellipse cx="2953" cy="2534" rx="5.8" ry="2.8" transform="rotate(175 2953 2534)"/><ellipse cx="3113" cy="2729" rx="4.0" ry="2.6" transform="rotate(19 3113 2729)"/><ellipse cx="3145" cy="2739" rx="6.2" ry="5.0" transform="rotate(0 3145 2739)"/><ellipse cx="3160" cy="2757" rx="5.0" ry="3.5" transform="rotate(107 3160 2757)"/><ellipse cx="3132" cy="2755" rx="3.7" ry="1.8" transform="rotate(98 3132 2755)"/><ellipse cx="3008" cy="2617" rx="5.7" ry="2.6" transform="rotate(149 3008 2617)"/><ellipse cx="3127" cy="2765" rx="4.9" ry="2.4" transform="rotate(117 3127 2765)"/><ellipse cx="2994" cy="2589" rx="6.4" ry="4.3" transform="rotate(63 2994 2589)"/><ellipse cx="2964" cy="2560" rx="5.7" ry="4.5" transform="rotate(153 2964 2560)"/><ellipse cx="2971" cy="2558" rx="5.8" ry="2.9" transform="rotate(109 2971 2558)"/><ellipse cx="3173" cy="2806" rx="5.8" ry="2.6" transform="rotate(13 3173 2806)"/><ellipse cx="2973" cy="2562" rx="5.1" ry="3.2" transform="rotate(73 2973 2562)"/><ellipse cx="3098" cy="2694" rx="5.4" ry="4.4" transform="rotate(132 3098 2694)"/><ellipse cx="3146" cy="2743" rx="5.7" ry="2.6" transform="rotate(123 3146 2743)"/><ellipse cx="1228" cy="2855" rx="5.1" ry="4.1" transform="rotate(32 1228 2855)"/><ellipse cx="1227" cy="2864" rx="4.6" ry="2.6" transform="rotate(63 1227 2864)"/><ellipse cx="1228" cy="2802" rx="4.2" ry="2.7" transform="rotate(177 1228 2802)"/><ellipse cx="1227" cy="2835" rx="6.1" ry="5.2" transform="rotate(135 1227 2835)"/><ellipse cx="1227" cy="2797" rx="4.6" ry="2.8" transform="rotate(4 1227 2797)"/><ellipse cx="4029" cy="2439" rx="4.5" ry="3.4" transform="rotate(139 4029 2439)"/><ellipse cx="3928" cy="2450" rx="5.9" ry="3.9" transform="rotate(19 3928 2450)"/><ellipse cx="3939" cy="2468" rx="4.6" ry="3.1" transform="rotate(174 3939 2468)"/><ellipse cx="4041" cy="2446" rx="5.1" ry="3.6" transform="rotate(97 4041 2446)"/><ellipse cx="3920" cy="2443" rx="5.6" ry="4.7" transform="rotate(16 3920 2443)"/><ellipse cx="4033" cy="2449" rx="4.4" ry="3.5" transform="rotate(2 4033 2449)"/><ellipse cx="4026" cy="2461" rx="4.0" ry="2.5" transform="rotate(124 4026 2461)"/><ellipse cx="3956" cy="2418" rx="5.7" ry="4.3" transform="rotate(45 3956 2418)"/><ellipse cx="4026" cy="2443" rx="4.1" ry="2.3" transform="rotate(174 4026 2443)"/><ellipse cx="3967" cy="2472" rx="5.3" ry="3.8" transform="rotate(108 3967 2472)"/><ellipse cx="3959" cy="2476" rx="3.7" ry="1.7" transform="rotate(65 3959 2476)"/><ellipse cx="4045" cy="2466" rx="3.8" ry="2.5" transform="rotate(175 4045 2466)"/><ellipse cx="3960" cy="2473" rx="4.0" ry="2.0" transform="rotate(55 3960 2473)"/><ellipse cx="4002" cy="2441" rx="5.6" ry="3.5" transform="rotate(131 4002 2441)"/><ellipse cx="4052" cy="2455" rx="6.0" ry="2.8" transform="rotate(149 4052 2455)"/><ellipse cx="3843" cy="2554" rx="6.1" ry="4.7" transform="rotate(121 3843 2554)"/><ellipse cx="3826" cy="2567" rx="6.2" ry="3.2" transform="rotate(119 3826 2567)"/><ellipse cx="3759" cy="2675" rx="5.5" ry="2.9" transform="rotate(26 3759 2675)"/><ellipse cx="3865" cy="2504" rx="5.5" ry="3.7" transform="rotate(40 3865 2504)"/><ellipse cx="3887" cy="2505" rx="3.5" ry="2.8" transform="rotate(23 3887 2505)"/><ellipse cx="3650" cy="2784" rx="3.9" ry="3.0" transform="rotate(45 3650 2784)"/><ellipse cx="3795" cy="2589" rx="5.1" ry="2.5" transform="rotate(45 3795 2589)"/><ellipse cx="3705" cy="2740" rx="5.8" ry="3.1" transform="rotate(35 3705 2740)"/><ellipse cx="3836" cy="2544" rx="4.7" ry="2.8" transform="rotate(115 3836 2544)"/><ellipse cx="3785" cy="2635" rx="5.5" ry="4.3" transform="rotate(42 3785 2635)"/><ellipse cx="3894" cy="2492" rx="4.8" ry="2.4" transform="rotate(83 3894 2492)"/><ellipse cx="3723" cy="2710" rx="4.9" ry="2.6" transform="rotate(42 3723 2710)"/><ellipse cx="3792" cy="2624" rx="3.9" ry="1.8" transform="rotate(65 3792 2624)"/><ellipse cx="3770" cy="2623" rx="3.7" ry="2.0" transform="rotate(134 3770 2623)"/><ellipse cx="3758" cy="2661" rx="6.1" ry="5.1" transform="rotate(154 3758 2661)"/><ellipse cx="3859" cy="2507" rx="4.2" ry="2.2" transform="rotate(156 3859 2507)"/><ellipse cx="3846" cy="2549" rx="3.7" ry="2.1" transform="rotate(166 3846 2549)"/><ellipse cx="3790" cy="2634" rx="4.9" ry="2.8" transform="rotate(37 3790 2634)"/><ellipse cx="3735" cy="2695" rx="4.6" ry="2.3" transform="rotate(177 3735 2695)"/><ellipse cx="3785" cy="2640" rx="5.5" ry="3.6" transform="rotate(4 3785 2640)"/><ellipse cx="3787" cy="2636" rx="5.7" ry="3.8" transform="rotate(42 3787 2636)"/><ellipse cx="3763" cy="2633" rx="3.9" ry="3.0" transform="rotate(170 3763 2633)"/><ellipse cx="3708" cy="2714" rx="6.1" ry="3.6" transform="rotate(162 3708 2714)"/><ellipse cx="3857" cy="2541" rx="6.2" ry="3.0" transform="rotate(39 3857 2541)"/><ellipse cx="3875" cy="2480" rx="4.8" ry="2.4" transform="rotate(34 3875 2480)"/><ellipse cx="3687" cy="2702" rx="4.7" ry="3.4" transform="rotate(2 3687 2702)"/><ellipse cx="3652" cy="2778" rx="4.2" ry="2.7" transform="rotate(92 3652 2778)"/><ellipse cx="3749" cy="2684" rx="4.1" ry="3.3" transform="rotate(36 3749 2684)"/><ellipse cx="3647" cy="2800" rx="6.4" ry="3.7" transform="rotate(73 3647 2800)"/><ellipse cx="3817" cy="2594" rx="5.5" ry="2.5" transform="rotate(67 3817 2594)"/><ellipse cx="3865" cy="2537" rx="5.3" ry="2.9" transform="rotate(82 3865 2537)"/><ellipse cx="3766" cy="2667" rx="5.6" ry="2.8" transform="rotate(43 3766 2667)"/><ellipse cx="3866" cy="2517" rx="3.9" ry="2.6" transform="rotate(105 3866 2517)"/><ellipse cx="3684" cy="2770" rx="3.7" ry="2.0" transform="rotate(30 3684 2770)"/><ellipse cx="3745" cy="2663" rx="6.2" ry="4.4" transform="rotate(155 3745 2663)"/><ellipse cx="3664" cy="2791" rx="4.3" ry="3.6" transform="rotate(73 3664 2791)"/><ellipse cx="3886" cy="2497" rx="3.6" ry="2.0" transform="rotate(52 3886 2497)"/><ellipse cx="3645" cy="2863" rx="6.1" ry="3.8" transform="rotate(95 3645 2863)"/><ellipse cx="3640" cy="2856" rx="5.0" ry="2.5" transform="rotate(44 3640 2856)"/><ellipse cx="3624" cy="2844" rx="5.3" ry="4.1" transform="rotate(162 3624 2844)"/><ellipse cx="3647" cy="2863" rx="6.2" ry="4.2" transform="rotate(33 3647 2863)"/><ellipse cx="3644" cy="2849" rx="4.3" ry="2.3" transform="rotate(66 3644 2849)"/><ellipse cx="4130" cy="2482" rx="5.9" ry="4.1" transform="rotate(85 4130 2482)"/><ellipse cx="4146" cy="2482" rx="6.0" ry="2.7" transform="rotate(86 4146 2482)"/><ellipse cx="4146" cy="2482" rx="4.5" ry="3.7" transform="rotate(141 4146 2482)"/><ellipse cx="4099" cy="2484" rx="5.1" ry="4.2" transform="rotate(37 4099 2484)"/><ellipse cx="4118" cy="2485" rx="4.6" ry="3.4" transform="rotate(65 4118 2485)"/><ellipse cx="3648" cy="2945" rx="5.9" ry="3.0" transform="rotate(40 3648 2945)"/><ellipse cx="3653" cy="2898" rx="4.3" ry="2.7" transform="rotate(76 3653 2898)"/><ellipse cx="3654" cy="2883" rx="5.5" ry="4.5" transform="rotate(104 3654 2883)"/><ellipse cx="3651" cy="2912" rx="4.4" ry="2.9" transform="rotate(3 3651 2912)"/><ellipse cx="3647" cy="2946" rx="4.4" ry="2.6" transform="rotate(173 3647 2946)"/><ellipse cx="3940" cy="640" rx="5.4" ry="4.0" transform="rotate(174 3940 640)"/><ellipse cx="3972" cy="629" rx="5.8" ry="3.3" transform="rotate(46 3972 629)"/><ellipse cx="3937" cy="623" rx="6.1" ry="4.2" transform="rotate(36 3937 623)"/><ellipse cx="3982" cy="631" rx="5.1" ry="3.8" transform="rotate(49 3982 631)"/><ellipse cx="3979" cy="642" rx="5.6" ry="2.5" transform="rotate(41 3979 642)"/><ellipse cx="3968" cy="654" rx="5.6" ry="4.8" transform="rotate(3 3968 654)"/><ellipse cx="3880" cy="628" rx="3.9" ry="2.3" transform="rotate(94 3880 628)"/><ellipse cx="3882" cy="664" rx="4.8" ry="3.0" transform="rotate(47 3882 664)"/><ellipse cx="3910" cy="653" rx="3.8" ry="2.6" transform="rotate(125 3910 653)"/><ellipse cx="3896" cy="671" rx="5.9" ry="4.4" transform="rotate(62 3896 671)"/><ellipse cx="3870" cy="679" rx="5.2" ry="2.4" transform="rotate(28 3870 679)"/><ellipse cx="3838" cy="674" rx="4.7" ry="3.4" transform="rotate(41 3838 674)"/><ellipse cx="3856" cy="711" rx="5.3" ry="2.8" transform="rotate(127 3856 711)"/><ellipse cx="3851" cy="707" rx="5.9" ry="3.2" transform="rotate(17 3851 707)"/><ellipse cx="3862" cy="696" rx="4.1" ry="2.8" transform="rotate(19 3862 696)"/><ellipse cx="3868" cy="699" rx="4.2" ry="2.3" transform="rotate(76 3868 699)"/><ellipse cx="3813" cy="763" rx="5.7" ry="3.1" transform="rotate(52 3813 763)"/><ellipse cx="3804" cy="767" rx="5.6" ry="3.9" transform="rotate(162 3804 767)"/><ellipse cx="3821" cy="735" rx="4.3" ry="2.2" transform="rotate(41 3821 735)"/><ellipse cx="3780" cy="762" rx="6.0" ry="4.4" transform="rotate(173 3780 762)"/><ellipse cx="3795" cy="777" rx="5.7" ry="2.7" transform="rotate(110 3795 777)"/><ellipse cx="3823" cy="725" rx="3.6" ry="2.4" transform="rotate(27 3823 725)"/><ellipse cx="3781" cy="780" rx="4.1" ry="2.0" transform="rotate(91 3781 780)"/><ellipse cx="3802" cy="753" rx="4.6" ry="3.4" transform="rotate(95 3802 753)"/><ellipse cx="3795" cy="818" rx="4.7" ry="3.0" transform="rotate(45 3795 818)"/><ellipse cx="3794" cy="1061" rx="4.2" ry="2.4" transform="rotate(86 3794 1061)"/><ellipse cx="3796" cy="1078" rx="4.8" ry="4.0" transform="rotate(168 3796 1078)"/><ellipse cx="3779" cy="1042" rx="3.8" ry="2.4" transform="rotate(115 3779 1042)"/><ellipse cx="3742" cy="913" rx="6.2" ry="3.1" transform="rotate(84 3742 913)"/><ellipse cx="3785" cy="1042" rx="4.4" ry="2.1" transform="rotate(135 3785 1042)"/><ellipse cx="3791" cy="1100" rx="4.7" ry="2.3" transform="rotate(173 3791 1100)"/><ellipse cx="3793" cy="826" rx="4.4" ry="3.3" transform="rotate(24 3793 826)"/><ellipse cx="3785" cy="847" rx="5.1" ry="4.0" transform="rotate(30 3785 847)"/><ellipse cx="3791" cy="872" rx="5.8" ry="3.6" transform="rotate(61 3791 872)"/><ellipse cx="3794" cy="853" rx="3.9" ry="2.1" transform="rotate(133 3794 853)"/><ellipse cx="3746" cy="1146" rx="6.2" ry="4.0" transform="rotate(172 3746 1146)"/><ellipse cx="3793" cy="1036" rx="5.6" ry="4.2" transform="rotate(23 3793 1036)"/><ellipse cx="3775" cy="880" rx="6.4" ry="3.1" transform="rotate(146 3775 880)"/><ellipse cx="3797" cy="935" rx="4.9" ry="4.2" transform="rotate(27 3797 935)"/><ellipse cx="3784" cy="1132" rx="4.5" ry="2.3" transform="rotate(134 3784 1132)"/><ellipse cx="3789" cy="936" rx="6.0" ry="4.7" transform="rotate(103 3789 936)"/><ellipse cx="3777" cy="810" rx="5.8" ry="4.0" transform="rotate(162 3777 810)"/><ellipse cx="3781" cy="1169" rx="6.0" ry="3.3" transform="rotate(66 3781 1169)"/><ellipse cx="3763" cy="949" rx="4.6" ry="2.7" transform="rotate(20 3763 949)"/><ellipse cx="3779" cy="893" rx="5.4" ry="4.4" transform="rotate(136 3779 893)"/><ellipse cx="3786" cy="899" rx="6.3" ry="4.8" transform="rotate(178 3786 899)"/><ellipse cx="3798" cy="1084" rx="4.3" ry="3.0" transform="rotate(69 3798 1084)"/><ellipse cx="3762" cy="1126" rx="3.9" ry="2.6" transform="rotate(61 3762 1126)"/><ellipse cx="3777" cy="1119" rx="6.0" ry="4.8" transform="rotate(25 3777 1119)"/><ellipse cx="3768" cy="1164" rx="5.7" ry="4.1" transform="rotate(117 3768 1164)"/><ellipse cx="3779" cy="825" rx="4.9" ry="2.9" transform="rotate(141 3779 825)"/><ellipse cx="3781" cy="1104" rx="6.1" ry="3.3" transform="rotate(61 3781 1104)"/><ellipse cx="3782" cy="901" rx="3.6" ry="2.8" transform="rotate(41 3782 901)"/><ellipse cx="3786" cy="833" rx="3.7" ry="2.8" transform="rotate(36 3786 833)"/><ellipse cx="3768" cy="982" rx="6.4" ry="3.7" transform="rotate(114 3768 982)"/><ellipse cx="3778" cy="1147" rx="4.9" ry="4.0" transform="rotate(132 3778 1147)"/><ellipse cx="3779" cy="925" rx="3.8" ry="2.6" transform="rotate(149 3779 925)"/><ellipse cx="3779" cy="1004" rx="5.0" ry="3.1" transform="rotate(158 3779 1004)"/><ellipse cx="3794" cy="1060" rx="4.6" ry="3.8" transform="rotate(125 3794 1060)"/><ellipse cx="3778" cy="854" rx="6.2" ry="2.9" transform="rotate(106 3778 854)"/><ellipse cx="3834" cy="1203" rx="3.8" ry="2.5" transform="rotate(148 3834 1203)"/><ellipse cx="3853" cy="1222" rx="4.6" ry="2.5" transform="rotate(134 3853 1222)"/><ellipse cx="3855" cy="1209" rx="6.5" ry="4.0" transform="rotate(69 3855 1209)"/><ellipse cx="3847" cy="1242" rx="6.3" ry="3.3" transform="rotate(54 3847 1242)"/><ellipse cx="3828" cy="1200" rx="5.1" ry="3.3" transform="rotate(120 3828 1200)"/><ellipse cx="3816" cy="1211" rx="6.4" ry="5.4" transform="rotate(101 3816 1211)"/><ellipse cx="3849" cy="1216" rx="5.2" ry="3.9" transform="rotate(156 3849 1216)"/><ellipse cx="3826" cy="1221" rx="6.3" ry="3.3" transform="rotate(4 3826 1221)"/><ellipse cx="3830" cy="1306" rx="6.4" ry="4.2" transform="rotate(168 3830 1306)"/><ellipse cx="3839" cy="1318" rx="3.9" ry="2.8" transform="rotate(145 3839 1318)"/><ellipse cx="3852" cy="1291" rx="4.3" ry="2.7" transform="rotate(92 3852 1291)"/><ellipse cx="3856" cy="1300" rx="3.8" ry="1.7" transform="rotate(61 3856 1300)"/><ellipse cx="3865" cy="1350" rx="4.3" ry="2.8" transform="rotate(32 3865 1350)"/><ellipse cx="3850" cy="1327" rx="6.2" ry="3.3" transform="rotate(105 3850 1327)"/><ellipse cx="3865" cy="1351" rx="5.6" ry="3.1" transform="rotate(151 3865 1351)"/><ellipse cx="3833" cy="1392" rx="3.7" ry="3.0" transform="rotate(80 3833 1392)"/><ellipse cx="3832" cy="1222" rx="5.5" ry="2.8" transform="rotate(83 3832 1222)"/><ellipse cx="3850" cy="1334" rx="6.5" ry="3.8" transform="rotate(138 3850 1334)"/><ellipse cx="3861" cy="1255" rx="4.7" ry="3.3" transform="rotate(55 3861 1255)"/><ellipse cx="3854" cy="1238" rx="4.2" ry="2.0" transform="rotate(35 3854 1238)"/><ellipse cx="3852" cy="1269" rx="4.9" ry="3.1" transform="rotate(175 3852 1269)"/><ellipse cx="3865" cy="1303" rx="6.3" ry="4.0" transform="rotate(36 3865 1303)"/><ellipse cx="3857" cy="1325" rx="3.7" ry="2.7" transform="rotate(174 3857 1325)"/><ellipse cx="3855" cy="1286" rx="4.6" ry="2.8" transform="rotate(63 3855 1286)"/><ellipse cx="3856" cy="1345" rx="6.1" ry="4.1" transform="rotate(1 3856 1345)"/><ellipse cx="3858" cy="1377" rx="5.7" ry="3.4" transform="rotate(113 3858 1377)"/><ellipse cx="3847" cy="1391" rx="4.4" ry="3.0" transform="rotate(119 3847 1391)"/><ellipse cx="3826" cy="1387" rx="6.3" ry="3.2" transform="rotate(66 3826 1387)"/><ellipse cx="3819" cy="1393" rx="5.5" ry="3.2" transform="rotate(170 3819 1393)"/><ellipse cx="3838" cy="1373" rx="4.7" ry="2.5" transform="rotate(21 3838 1373)"/><ellipse cx="3816" cy="1398" rx="4.5" ry="2.9" transform="rotate(89 3816 1398)"/><ellipse cx="3851" cy="1394" rx="6.2" ry="3.6" transform="rotate(96 3851 1394)"/><ellipse cx="3813" cy="1385" rx="4.5" ry="2.7" transform="rotate(110 3813 1385)"/><ellipse cx="3782" cy="1944" rx="4.3" ry="2.6" transform="rotate(70 3782 1944)"/><ellipse cx="3778" cy="1657" rx="4.3" ry="2.5" transform="rotate(148 3778 1657)"/><ellipse cx="3787" cy="1519" rx="5.6" ry="2.6" transform="rotate(35 3787 1519)"/><ellipse cx="3796" cy="1450" rx="4.2" ry="2.0" transform="rotate(47 3796 1450)"/><ellipse cx="3789" cy="1909" rx="5.7" ry="4.6" transform="rotate(170 3789 1909)"/><ellipse cx="3792" cy="1785" rx="6.3" ry="3.9" transform="rotate(35 3792 1785)"/><ellipse cx="3796" cy="1919" rx="6.1" ry="3.7" transform="rotate(17 3796 1919)"/><ellipse cx="3799" cy="2004" rx="6.4" ry="3.0" transform="rotate(10 3799 2004)"/><ellipse cx="3773" cy="1494" rx="3.6" ry="2.6" transform="rotate(113 3773 1494)"/><ellipse cx="3793" cy="1486" rx="5.3" ry="3.8" transform="rotate(175 3793 1486)"/><ellipse cx="3789" cy="1655" rx="6.4" ry="4.0" transform="rotate(70 3789 1655)"/><ellipse cx="3794" cy="1582" rx="6.5" ry="4.7" transform="rotate(32 3794 1582)"/><ellipse cx="3745" cy="1532" rx="4.0" ry="2.3" transform="rotate(133 3745 1532)"/><ellipse cx="3770" cy="1450" rx="3.6" ry="2.3" transform="rotate(142 3770 1450)"/><ellipse cx="3794" cy="1801" rx="4.9" ry="3.9" transform="rotate(108 3794 1801)"/><ellipse cx="3761" cy="1639" rx="6.1" ry="5.0" transform="rotate(101 3761 1639)"/><ellipse cx="3770" cy="1507" rx="4.0" ry="2.4" transform="rotate(124 3770 1507)"/><ellipse cx="3789" cy="1413" rx="5.0" ry="2.3" transform="rotate(144 3789 1413)"/><ellipse cx="3766" cy="1692" rx="5.5" ry="3.7" transform="rotate(131 3766 1692)"/><ellipse cx="3751" cy="1688" rx="6.3" ry="4.4" transform="rotate(57 3751 1688)"/><ellipse cx="3787" cy="1666" rx="4.3" ry="3.5" transform="rotate(143 3787 1666)"/><ellipse cx="3773" cy="1946" rx="5.6" ry="3.2" transform="rotate(136 3773 1946)"/><ellipse cx="3744" cy="1588" rx="5.3" ry="2.7" transform="rotate(154 3744 1588)"/><ellipse cx="3793" cy="1742" rx="3.7" ry="3.1" transform="rotate(136 3793 1742)"/><ellipse cx="3755" cy="1511" rx="5.8" ry="3.9" transform="rotate(163 3755 1511)"/><ellipse cx="3758" cy="1809" rx="3.8" ry="2.9" transform="rotate(19 3758 1809)"/><ellipse cx="3779" cy="1598" rx="3.8" ry="3.1" transform="rotate(80 3779 1598)"/><ellipse cx="3799" cy="1904" rx="5.4" ry="2.7" transform="rotate(89 3799 1904)"/><ellipse cx="3767" cy="1901" rx="4.1" ry="2.9" transform="rotate(50 3767 1901)"/><ellipse cx="3758" cy="1662" rx="6.5" ry="4.0" transform="rotate(103 3758 1662)"/><ellipse cx="3777" cy="1960" rx="5.8" ry="3.7" transform="rotate(155 3777 1960)"/><ellipse cx="3778" cy="1683" rx="3.9" ry="2.9" transform="rotate(26 3778 1683)"/><ellipse cx="3793" cy="1872" rx="3.7" ry="3.1" transform="rotate(97 3793 1872)"/><ellipse cx="3780" cy="1913" rx="4.6" ry="2.5" transform="rotate(147 3780 1913)"/><ellipse cx="3779" cy="1433" rx="4.9" ry="2.4" transform="rotate(153 3779 1433)"/><ellipse cx="3778" cy="2017" rx="4.9" ry="3.6" transform="rotate(131 3778 2017)"/><ellipse cx="3795" cy="1643" rx="6.3" ry="3.3" transform="rotate(25 3795 1643)"/><ellipse cx="3791" cy="1964" rx="5.0" ry="2.9" transform="rotate(29 3791 1964)"/><ellipse cx="3791" cy="2042" rx="4.9" ry="3.8" transform="rotate(45 3791 2042)"/><ellipse cx="3792" cy="2031" rx="5.3" ry="4.5" transform="rotate(139 3792 2031)"/><ellipse cx="3757" cy="1839" rx="5.1" ry="4.0" transform="rotate(80 3757 1839)"/><ellipse cx="3769" cy="1477" rx="5.5" ry="4.1" transform="rotate(42 3769 1477)"/><ellipse cx="3781" cy="1725" rx="6.0" ry="5.0" transform="rotate(166 3781 1725)"/><ellipse cx="3790" cy="1519" rx="4.7" ry="2.4" transform="rotate(25 3790 1519)"/><ellipse cx="3776" cy="1730" rx="5.0" ry="2.8" transform="rotate(66 3776 1730)"/><ellipse cx="3798" cy="1787" rx="4.0" ry="3.2" transform="rotate(66 3798 1787)"/><ellipse cx="3773" cy="2063" rx="6.4" ry="3.3" transform="rotate(105 3773 2063)"/><ellipse cx="3781" cy="2067" rx="4.4" ry="2.0" transform="rotate(37 3781 2067)"/><ellipse cx="3783" cy="1494" rx="4.4" ry="3.1" transform="rotate(101 3783 1494)"/><ellipse cx="3792" cy="2055" rx="6.3" ry="4.5" transform="rotate(98 3792 2055)"/><ellipse cx="3782" cy="1997" rx="5.5" ry="3.3" transform="rotate(109 3782 1997)"/><ellipse cx="3785" cy="1614" rx="6.4" ry="3.1" transform="rotate(2 3785 1614)"/><ellipse cx="3797" cy="1786" rx="4.1" ry="2.7" transform="rotate(21 3797 1786)"/><ellipse cx="3785" cy="1979" rx="6.3" ry="5.3" transform="rotate(122 3785 1979)"/><ellipse cx="3773" cy="1895" rx="3.5" ry="1.6" transform="rotate(77 3773 1895)"/><ellipse cx="3790" cy="2069" rx="3.5" ry="2.2" transform="rotate(162 3790 2069)"/><ellipse cx="3776" cy="1811" rx="6.0" ry="2.7" transform="rotate(36 3776 1811)"/><ellipse cx="3795" cy="1532" rx="6.3" ry="3.5" transform="rotate(158 3795 1532)"/><ellipse cx="3792" cy="1761" rx="4.5" ry="3.7" transform="rotate(73 3792 1761)"/><ellipse cx="3765" cy="1884" rx="6.4" ry="3.2" transform="rotate(134 3765 1884)"/><ellipse cx="3784" cy="1594" rx="3.9" ry="2.3" transform="rotate(119 3784 1594)"/><ellipse cx="3816" cy="2108" rx="5.5" ry="2.8" transform="rotate(131 3816 2108)"/><ellipse cx="3802" cy="2129" rx="4.3" ry="2.2" transform="rotate(28 3802 2129)"/><ellipse cx="3791" cy="2129" rx="5.3" ry="4.1" transform="rotate(29 3791 2129)"/><ellipse cx="3908" cy="2141" rx="4.7" ry="3.2" transform="rotate(3 3908 2141)"/><ellipse cx="3838" cy="2124" rx="4.8" ry="2.6" transform="rotate(136 3838 2124)"/><ellipse cx="3868" cy="2121" rx="3.8" ry="2.4" transform="rotate(70 3868 2121)"/><ellipse cx="3882" cy="2129" rx="5.8" ry="3.1" transform="rotate(121 3882 2129)"/><ellipse cx="3961" cy="2144" rx="6.3" ry="4.3" transform="rotate(33 3961 2144)"/><ellipse cx="3840" cy="2120" rx="3.7" ry="2.2" transform="rotate(16 3840 2120)"/><ellipse cx="3932" cy="2135" rx="5.0" ry="4.2" transform="rotate(44 3932 2135)"/><ellipse cx="3854" cy="2122" rx="4.4" ry="2.6" transform="rotate(164 3854 2122)"/><ellipse cx="3942" cy="2131" rx="3.6" ry="1.8" transform="rotate(153 3942 2131)"/><ellipse cx="3933" cy="2124" rx="4.0" ry="2.8" transform="rotate(11 3933 2124)"/><ellipse cx="3910" cy="2122" rx="5.7" ry="4.2" transform="rotate(92 3910 2122)"/><ellipse cx="3856" cy="2122" rx="5.5" ry="3.4" transform="rotate(119 3856 2122)"/><ellipse cx="3844" cy="2114" rx="4.2" ry="2.5" transform="rotate(36 3844 2114)"/><ellipse cx="3843" cy="2114" rx="5.6" ry="4.7" transform="rotate(60 3843 2114)"/><ellipse cx="3871" cy="2122" rx="4.7" ry="3.4" transform="rotate(78 3871 2122)"/><ellipse cx="4005" cy="665" rx="4.2" ry="2.8" transform="rotate(178 4005 665)"/><ellipse cx="4080" cy="668" rx="5.2" ry="2.8" transform="rotate(121 4080 668)"/><ellipse cx="4039" cy="666" rx="6.0" ry="3.4" transform="rotate(168 4039 666)"/><ellipse cx="4070" cy="667" rx="5.2" ry="2.6" transform="rotate(123 4070 667)"/><ellipse cx="4058" cy="666" rx="5.4" ry="4.6" transform="rotate(8 4058 666)"/><ellipse cx="4056" cy="2114" rx="4.8" ry="2.3" transform="rotate(105 4056 2114)"/><ellipse cx="4056" cy="2115" rx="4.9" ry="3.5" transform="rotate(66 4056 2115)"/><ellipse cx="4056" cy="2115" rx="5.1" ry="2.3" transform="rotate(16 4056 2115)"/><ellipse cx="4057" cy="2119" rx="6.2" ry="4.3" transform="rotate(28 4057 2119)"/><ellipse cx="1689" cy="657" rx="4.6" ry="3.3" transform="rotate(1 1689 657)"/><ellipse cx="905" cy="657" rx="4.6" ry="3.6" transform="rotate(179 905 657)"/><ellipse cx="1165" cy="637" rx="6.1" ry="4.2" transform="rotate(174 1165 637)"/><ellipse cx="1473" cy="644" rx="6.3" ry="4.3" transform="rotate(35 1473 644)"/><ellipse cx="1355" cy="646" rx="4.6" ry="3.0" transform="rotate(106 1355 646)"/><ellipse cx="1075" cy="662" rx="4.3" ry="2.8" transform="rotate(91 1075 662)"/><ellipse cx="1261" cy="657" rx="5.1" ry="2.9" transform="rotate(139 1261 657)"/><ellipse cx="1530" cy="650" rx="5.8" ry="3.8" transform="rotate(45 1530 650)"/><ellipse cx="1739" cy="641" rx="4.4" ry="2.7" transform="rotate(128 1739 641)"/><ellipse cx="1638" cy="658" rx="4.9" ry="3.7" transform="rotate(38 1638 658)"/><ellipse cx="1292" cy="653" rx="4.6" ry="3.4" transform="rotate(132 1292 653)"/><ellipse cx="1061" cy="652" rx="4.2" ry="3.2" transform="rotate(118 1061 652)"/><ellipse cx="1504" cy="642" rx="4.3" ry="2.0" transform="rotate(65 1504 642)"/><ellipse cx="895" cy="645" rx="6.4" ry="4.2" transform="rotate(121 895 645)"/><ellipse cx="1778" cy="654" rx="4.5" ry="2.2" transform="rotate(143 1778 654)"/><ellipse cx="1561" cy="648" rx="5.0" ry="3.0" transform="rotate(49 1561 648)"/><ellipse cx="1325" cy="653" rx="6.0" ry="4.8" transform="rotate(79 1325 653)"/><ellipse cx="1263" cy="625" rx="4.4" ry="3.7" transform="rotate(33 1263 625)"/><ellipse cx="1014" cy="657" rx="6.1" ry="3.5" transform="rotate(153 1014 657)"/><ellipse cx="1706" cy="619" rx="4.8" ry="2.5" transform="rotate(139 1706 619)"/><ellipse cx="1219" cy="635" rx="4.8" ry="2.9" transform="rotate(107 1219 635)"/><ellipse cx="1106" cy="637" rx="3.6" ry="2.2" transform="rotate(68 1106 637)"/><ellipse cx="875" cy="645" rx="4.5" ry="3.2" transform="rotate(112 875 645)"/><ellipse cx="1043" cy="643" rx="3.6" ry="2.6" transform="rotate(110 1043 643)"/><ellipse cx="1142" cy="653" rx="6.2" ry="3.4" transform="rotate(105 1142 653)"/><ellipse cx="1408" cy="628" rx="4.5" ry="2.1" transform="rotate(59 1408 628)"/><ellipse cx="1474" cy="644" rx="3.9" ry="2.1" transform="rotate(56 1474 644)"/><ellipse cx="1258" cy="650" rx="4.6" ry="3.7" transform="rotate(21 1258 650)"/><ellipse cx="1797" cy="656" rx="4.2" ry="2.9" transform="rotate(68 1797 656)"/><ellipse cx="900" cy="630" rx="5.9" ry="4.6" transform="rotate(48 900 630)"/><ellipse cx="1598" cy="607" rx="3.7" ry="2.2" transform="rotate(41 1598 607)"/><ellipse cx="1455" cy="654" rx="5.8" ry="4.6" transform="rotate(99 1455 654)"/><ellipse cx="1231" cy="660" rx="4.3" ry="3.2" transform="rotate(79 1231 660)"/><ellipse cx="1803" cy="650" rx="3.8" ry="2.4" transform="rotate(38 1803 650)"/><ellipse cx="867" cy="659" rx="4.6" ry="2.9" transform="rotate(91 867 659)"/><ellipse cx="1138" cy="659" rx="5.6" ry="3.7" transform="rotate(177 1138 659)"/><ellipse cx="1025" cy="644" rx="4.6" ry="3.7" transform="rotate(38 1025 644)"/><ellipse cx="1694" cy="658" rx="4.6" ry="2.7" transform="rotate(111 1694 658)"/><ellipse cx="1397" cy="660" rx="6.4" ry="3.8" transform="rotate(21 1397 660)"/><ellipse cx="1485" cy="653" rx="5.1" ry="3.0" transform="rotate(59 1485 653)"/><ellipse cx="1663" cy="649" rx="6.4" ry="3.8" transform="rotate(72 1663 649)"/><ellipse cx="1018" cy="649" rx="5.5" ry="3.9" transform="rotate(80 1018 649)"/><ellipse cx="1248" cy="659" rx="4.9" ry="3.8" transform="rotate(67 1248 659)"/><ellipse cx="1558" cy="629" rx="3.6" ry="1.9" transform="rotate(173 1558 629)"/><ellipse cx="1510" cy="651" rx="4.9" ry="2.6" transform="rotate(31 1510 651)"/><ellipse cx="1475" cy="642" rx="5.6" ry="3.1" transform="rotate(116 1475 642)"/><ellipse cx="994" cy="657" rx="5.0" ry="2.9" transform="rotate(99 994 657)"/><ellipse cx="991" cy="658" rx="5.0" ry="3.4" transform="rotate(24 991 658)"/><ellipse cx="1157" cy="654" rx="5.4" ry="4.1" transform="rotate(103 1157 654)"/><ellipse cx="1075" cy="644" rx="4.8" ry="3.8" transform="rotate(102 1075 644)"/><ellipse cx="1577" cy="647" rx="6.4" ry="5.0" transform="rotate(118 1577 647)"/><ellipse cx="965" cy="650" rx="5.3" ry="2.5" transform="rotate(168 965 650)"/><ellipse cx="1783" cy="656" rx="6.0" ry="3.1" transform="rotate(149 1783 656)"/><ellipse cx="1833" cy="793" rx="3.5" ry="2.9" transform="rotate(79 1833 793)"/><ellipse cx="1828" cy="865" rx="6.1" ry="3.2" transform="rotate(162 1828 865)"/><ellipse cx="1837" cy="751" rx="3.6" ry="2.1" transform="rotate(12 1837 751)"/><ellipse cx="1827" cy="689" rx="4.0" ry="2.3" transform="rotate(50 1827 689)"/><ellipse cx="1827" cy="886" rx="6.2" ry="5.0" transform="rotate(178 1827 886)"/><ellipse cx="1825" cy="775" rx="6.3" ry="4.9" transform="rotate(132 1825 775)"/><ellipse cx="1833" cy="725" rx="3.8" ry="3.1" transform="rotate(99 1833 725)"/><ellipse cx="1827" cy="815" rx="5.6" ry="3.6" transform="rotate(141 1827 815)"/><ellipse cx="1828" cy="778" rx="4.1" ry="3.4" transform="rotate(51 1828 778)"/><ellipse cx="1827" cy="846" rx="5.6" ry="3.4" transform="rotate(40 1827 846)"/><ellipse cx="1831" cy="723" rx="6.4" ry="3.8" transform="rotate(92 1831 723)"/><ellipse cx="1844" cy="789" rx="5.7" ry="4.6" transform="rotate(64 1844 789)"/><ellipse cx="1826" cy="721" rx="4.5" ry="3.4" transform="rotate(118 1826 721)"/><ellipse cx="1870" cy="1054" rx="6.3" ry="4.0" transform="rotate(91 1870 1054)"/><ellipse cx="1905" cy="1097" rx="4.1" ry="3.0" transform="rotate(64 1905 1097)"/><ellipse cx="1916" cy="1089" rx="5.4" ry="3.5" transform="rotate(68 1916 1089)"/><ellipse cx="1887" cy="1072" rx="4.2" ry="2.6" transform="rotate(0 1887 1072)"/><ellipse cx="1905" cy="1098" rx="5.2" ry="3.6" transform="rotate(113 1905 1098)"/><ellipse cx="1859" cy="1006" rx="5.8" ry="3.3" transform="rotate(155 1859 1006)"/><ellipse cx="1915" cy="1084" rx="4.8" ry="3.5" transform="rotate(172 1915 1084)"/><ellipse cx="1863" cy="1016" rx="3.8" ry="2.3" transform="rotate(92 1863 1016)"/><ellipse cx="1840" cy="1034" rx="4.7" ry="2.4" transform="rotate(33 1840 1034)"/><ellipse cx="1909" cy="1045" rx="4.1" ry="2.6" transform="rotate(97 1909 1045)"/><ellipse cx="1893" cy="1034" rx="3.6" ry="2.9" transform="rotate(36 1893 1034)"/><ellipse cx="1823" cy="1030" rx="5.8" ry="3.9" transform="rotate(97 1823 1030)"/><ellipse cx="1844" cy="1044" rx="5.7" ry="3.1" transform="rotate(103 1844 1044)"/><ellipse cx="1900" cy="1071" rx="4.6" ry="3.0" transform="rotate(12 1900 1071)"/><ellipse cx="1891" cy="1082" rx="5.2" ry="3.8" transform="rotate(18 1891 1082)"/><ellipse cx="1917" cy="1094" rx="6.1" ry="2.9" transform="rotate(45 1917 1094)"/><ellipse cx="1828" cy="1035" rx="5.0" ry="2.7" transform="rotate(54 1828 1035)"/><ellipse cx="1874" cy="1062" rx="4.6" ry="3.5" transform="rotate(130 1874 1062)"/><ellipse cx="1831" cy="1037" rx="4.5" ry="2.2" transform="rotate(125 1831 1037)"/><ellipse cx="1905" cy="1095" rx="6.5" ry="3.5" transform="rotate(7 1905 1095)"/><ellipse cx="1928" cy="1061" rx="4.7" ry="2.7" transform="rotate(13 1928 1061)"/><ellipse cx="1938" cy="1092" rx="5.0" ry="3.2" transform="rotate(79 1938 1092)"/><ellipse cx="1909" cy="1087" rx="4.0" ry="2.5" transform="rotate(160 1909 1087)"/><ellipse cx="1877" cy="1047" rx="5.5" ry="3.7" transform="rotate(83 1877 1047)"/><ellipse cx="1858" cy="1062" rx="4.9" ry="3.7" transform="rotate(14 1858 1062)"/><ellipse cx="1843" cy="1107" rx="5.9" ry="2.4" transform="rotate(113 1843 1107)"/><ellipse cx="1862" cy="1104" rx="4.7" ry="2.1" transform="rotate(54 1862 1104)"/><ellipse cx="1868" cy="1096" rx="4.0" ry="2.6" transform="rotate(118 1868 1096)"/><ellipse cx="1864" cy="1047" rx="4.6" ry="2.4" transform="rotate(107 1864 1047)"/><ellipse cx="1840" cy="1054" rx="5.2" ry="2.7" transform="rotate(142 1840 1054)"/><ellipse cx="1838" cy="1083" rx="5.5" ry="2.5" transform="rotate(132 1838 1083)"/><ellipse cx="1820" cy="1111" rx="3.6" ry="2.5" transform="rotate(66 1820 1111)"/><ellipse cx="1828" cy="1073" rx="4.8" ry="2.7" transform="rotate(22 1828 1073)"/><ellipse cx="1854" cy="1066" rx="5.9" ry="3.3" transform="rotate(78 1854 1066)"/><ellipse cx="1832" cy="1113" rx="4.3" ry="2.8" transform="rotate(150 1832 1113)"/><ellipse cx="1844" cy="1098" rx="4.2" ry="1.9" transform="rotate(8 1844 1098)"/><ellipse cx="1849" cy="1106" rx="4.0" ry="2.3" transform="rotate(137 1849 1106)"/><ellipse cx="1836" cy="1056" rx="4.8" ry="2.7" transform="rotate(169 1836 1056)"/><ellipse cx="1882" cy="1062" rx="4.9" ry="2.8" transform="rotate(6 1882 1062)"/><ellipse cx="1848" cy="1109" rx="4.3" ry="2.7" transform="rotate(128 1848 1109)"/><ellipse cx="1820" cy="1110" rx="3.8" ry="2.0" transform="rotate(129 1820 1110)"/><ellipse cx="1816" cy="1071" rx="3.8" ry="2.2" transform="rotate(3 1816 1071)"/><ellipse cx="1826" cy="1061" rx="3.7" ry="1.6" transform="rotate(35 1826 1061)"/><ellipse cx="1854" cy="1055" rx="5.6" ry="3.1" transform="rotate(45 1854 1055)"/><ellipse cx="1833" cy="1104" rx="3.6" ry="2.5" transform="rotate(18 1833 1104)"/><ellipse cx="1886" cy="1074" rx="5.0" ry="3.7" transform="rotate(18 1886 1074)"/><ellipse cx="1820" cy="1094" rx="5.0" ry="3.4" transform="rotate(50 1820 1094)"/><ellipse cx="1852" cy="1058" rx="4.6" ry="2.4" transform="rotate(105 1852 1058)"/><ellipse cx="1837" cy="1064" rx="5.1" ry="2.2" transform="rotate(144 1837 1064)"/><ellipse cx="2080" cy="808" rx="2.7" ry="1.6" transform="rotate(91 2080 808)"/><ellipse cx="2095" cy="822" rx="3.3" ry="2.5" transform="rotate(49 2095 822)"/><ellipse cx="2114" cy="874" rx="4.5" ry="3.5" transform="rotate(46 2114 874)"/><ellipse cx="2102" cy="846" rx="2.9" ry="2.3" transform="rotate(117 2102 846)"/><ellipse cx="2102" cy="841" rx="2.7" ry="2.0" transform="rotate(32 2102 841)"/><ellipse cx="2063" cy="847" rx="2.9" ry="1.7" transform="rotate(128 2063 847)"/><ellipse cx="2052" cy="851" rx="2.7" ry="1.6" transform="rotate(117 2052 851)"/><ellipse cx="2093" cy="789" rx="2.9" ry="2.3" transform="rotate(70 2093 789)"/><ellipse cx="2075" cy="822" rx="3.9" ry="2.7" transform="rotate(117 2075 822)"/><ellipse cx="2073" cy="842" rx="3.5" ry="1.7" transform="rotate(171 2073 842)"/><ellipse cx="2113" cy="863" rx="4.5" ry="2.6" transform="rotate(151 2113 863)"/><ellipse cx="2062" cy="859" rx="3.9" ry="3.0" transform="rotate(150 2062 859)"/><ellipse cx="2107" cy="812" rx="4.1" ry="2.4" transform="rotate(56 2107 812)"/><ellipse cx="2071" cy="865" rx="4.2" ry="3.1" transform="rotate(121 2071 865)"/><ellipse cx="2002" cy="1094" rx="4.1" ry="2.4" transform="rotate(18 2002 1094)"/><ellipse cx="1995" cy="1089" rx="5.7" ry="3.0" transform="rotate(153 1995 1089)"/><ellipse cx="2069" cy="1098" rx="4.3" ry="2.6" transform="rotate(2 2069 1098)"/><ellipse cx="2113" cy="1096" rx="4.6" ry="2.1" transform="rotate(155 2113 1096)"/><ellipse cx="2088" cy="1071" rx="4.2" ry="2.3" transform="rotate(4 2088 1071)"/><ellipse cx="1972" cy="1103" rx="5.6" ry="3.8" transform="rotate(91 1972 1103)"/><ellipse cx="2034" cy="1096" rx="4.6" ry="3.9" transform="rotate(160 2034 1096)"/><ellipse cx="1983" cy="1068" rx="6.0" ry="2.8" transform="rotate(128 1983 1068)"/><ellipse cx="2270" cy="1103" rx="5.9" ry="3.0" transform="rotate(97 2270 1103)"/><ellipse cx="2042" cy="1088" rx="4.7" ry="2.5" transform="rotate(127 2042 1088)"/><ellipse cx="2171" cy="1103" rx="5.3" ry="4.3" transform="rotate(146 2171 1103)"/><ellipse cx="2169" cy="1088" rx="4.5" ry="3.7" transform="rotate(67 2169 1088)"/><ellipse cx="1973" cy="1092" rx="6.3" ry="4.5" transform="rotate(119 1973 1092)"/><ellipse cx="2324" cy="1091" rx="5.8" ry="3.7" transform="rotate(83 2324 1091)"/><ellipse cx="2249" cy="1105" rx="5.4" ry="4.1" transform="rotate(45 2249 1105)"/><ellipse cx="2217" cy="1102" rx="6.2" ry="3.1" transform="rotate(24 2217 1102)"/><ellipse cx="2138" cy="1089" rx="6.5" ry="4.1" transform="rotate(143 2138 1089)"/><ellipse cx="2196" cy="1079" rx="4.0" ry="3.4" transform="rotate(31 2196 1079)"/><ellipse cx="1962" cy="1100" rx="4.9" ry="3.0" transform="rotate(172 1962 1100)"/><ellipse cx="2104" cy="1105" rx="6.0" ry="4.6" transform="rotate(106 2104 1105)"/><ellipse cx="2584" cy="951" rx="4.7" ry="3.3" transform="rotate(91 2584 951)"/><ellipse cx="2570" cy="969" rx="5.3" ry="4.5" transform="rotate(36 2570 969)"/><ellipse cx="2583" cy="972" rx="3.7" ry="2.3" transform="rotate(151 2583 972)"/><ellipse cx="2591" cy="1050" rx="6.4" ry="5.0" transform="rotate(105 2591 1050)"/><ellipse cx="2572" cy="1025" rx="4.3" ry="3.0" transform="rotate(12 2572 1025)"/><ellipse cx="2590" cy="1017" rx="4.6" ry="3.0" transform="rotate(73 2590 1017)"/><ellipse cx="2588" cy="922" rx="5.3" ry="2.6" transform="rotate(108 2588 922)"/><ellipse cx="2556" cy="1087" rx="6.5" ry="4.9" transform="rotate(8 2556 1087)"/><ellipse cx="2584" cy="1089" rx="6.3" ry="4.9" transform="rotate(161 2584 1089)"/><ellipse cx="2578" cy="953" rx="5.2" ry="3.1" transform="rotate(53 2578 953)"/><ellipse cx="2578" cy="1064" rx="5.1" ry="4.2" transform="rotate(102 2578 1064)"/><ellipse cx="2580" cy="1096" rx="5.2" ry="4.4" transform="rotate(5 2580 1096)"/><ellipse cx="2561" cy="999" rx="6.4" ry="4.5" transform="rotate(86 2561 999)"/><ellipse cx="2581" cy="1036" rx="5.1" ry="3.7" transform="rotate(170 2581 1036)"/><ellipse cx="2574" cy="903" rx="3.7" ry="2.8" transform="rotate(6 2574 903)"/><ellipse cx="2555" cy="1039" rx="5.9" ry="3.2" transform="rotate(69 2555 1039)"/><ellipse cx="2585" cy="949" rx="5.3" ry="3.1" transform="rotate(106 2585 949)"/><ellipse cx="2568" cy="1105" rx="5.8" ry="4.8" transform="rotate(44 2568 1105)"/><ellipse cx="2578" cy="1011" rx="5.9" ry="3.1" transform="rotate(101 2578 1011)"/><ellipse cx="2580" cy="1066" rx="6.3" ry="2.9" transform="rotate(49 2580 1066)"/><ellipse cx="2581" cy="1006" rx="6.0" ry="3.7" transform="rotate(99 2581 1006)"/><ellipse cx="2587" cy="1100" rx="3.7" ry="2.1" transform="rotate(28 2587 1100)"/><ellipse cx="2535" cy="802" rx="5.2" ry="2.6" transform="rotate(144 2535 802)"/><ellipse cx="2522" cy="836" rx="3.9" ry="3.1" transform="rotate(148 2522 836)"/><ellipse cx="2519" cy="810" rx="4.2" ry="1.9" transform="rotate(156 2519 810)"/><ellipse cx="2533" cy="864" rx="3.8" ry="2.9" transform="rotate(139 2533 864)"/><ellipse cx="2523" cy="847" rx="4.5" ry="3.5" transform="rotate(166 2523 847)"/><ellipse cx="2508" cy="818" rx="5.6" ry="4.0" transform="rotate(153 2508 818)"/><ellipse cx="2540" cy="841" rx="5.1" ry="2.6" transform="rotate(155 2540 841)"/><ellipse cx="3094" cy="789" rx="4.2" ry="3.1" transform="rotate(121 3094 789)"/><ellipse cx="2711" cy="800" rx="4.4" ry="2.2" transform="rotate(51 2711 800)"/><ellipse cx="3035" cy="777" rx="4.9" ry="3.8" transform="rotate(29 3035 777)"/><ellipse cx="2703" cy="788" rx="4.0" ry="1.9" transform="rotate(136 2703 788)"/><ellipse cx="2695" cy="782" rx="5.5" ry="2.7" transform="rotate(44 2695 782)"/><ellipse cx="2982" cy="791" rx="4.8" ry="2.2" transform="rotate(61 2982 791)"/><ellipse cx="2771" cy="793" rx="5.9" ry="4.3" transform="rotate(141 2771 793)"/><ellipse cx="2916" cy="799" rx="4.7" ry="2.6" transform="rotate(51 2916 799)"/><ellipse cx="3019" cy="793" rx="4.1" ry="2.4" transform="rotate(51 3019 793)"/><ellipse cx="3082" cy="789" rx="4.6" ry="3.8" transform="rotate(169 3082 789)"/><ellipse cx="2875" cy="790" rx="5.2" ry="4.1" transform="rotate(46 2875 790)"/><ellipse cx="2779" cy="790" rx="5.8" ry="3.0" transform="rotate(78 2779 790)"/><ellipse cx="3145" cy="788" rx="4.9" ry="3.0" transform="rotate(151 3145 788)"/><ellipse cx="3096" cy="794" rx="5.4" ry="4.0" transform="rotate(166 3096 794)"/><ellipse cx="2980" cy="796" rx="4.4" ry="2.9" transform="rotate(52 2980 796)"/><ellipse cx="2872" cy="773" rx="6.2" ry="5.1" transform="rotate(86 2872 773)"/><ellipse cx="3132" cy="792" rx="3.9" ry="3.2" transform="rotate(115 3132 792)"/><ellipse cx="3086" cy="763" rx="3.6" ry="2.8" transform="rotate(148 3086 763)"/><ellipse cx="2837" cy="781" rx="6.0" ry="3.2" transform="rotate(135 2837 781)"/><ellipse cx="2884" cy="794" rx="5.9" ry="4.4" transform="rotate(16 2884 794)"/><ellipse cx="3139" cy="793" rx="4.2" ry="2.5" transform="rotate(75 3139 793)"/><ellipse cx="2938" cy="776" rx="5.4" ry="3.2" transform="rotate(19 2938 776)"/><ellipse cx="2684" cy="784" rx="5.1" ry="3.5" transform="rotate(81 2684 784)"/><ellipse cx="3141" cy="787" rx="4.8" ry="2.5" transform="rotate(169 3141 787)"/><ellipse cx="2945" cy="794" rx="5.1" ry="3.2" transform="rotate(45 2945 794)"/><ellipse cx="2807" cy="788" rx="6.4" ry="4.3" transform="rotate(37 2807 788)"/><ellipse cx="2677" cy="804" rx="4.0" ry="2.3" transform="rotate(141 2677 804)"/><ellipse cx="3094" cy="797" rx="4.8" ry="3.2" transform="rotate(96 3094 797)"/><ellipse cx="3248" cy="915" rx="3.7" ry="2.7" transform="rotate(124 3248 915)"/><ellipse cx="3247" cy="1192" rx="4.4" ry="2.1" transform="rotate(100 3247 1192)"/><ellipse cx="3239" cy="1417" rx="4.2" ry="2.0" transform="rotate(88 3239 1417)"/><ellipse cx="3228" cy="908" rx="4.3" ry="2.7" transform="rotate(42 3228 908)"/><ellipse cx="3244" cy="1032" rx="4.0" ry="3.1" transform="rotate(82 3244 1032)"/><ellipse cx="3241" cy="1467" rx="5.3" ry="3.8" transform="rotate(71 3241 1467)"/><ellipse cx="3246" cy="1341" rx="4.1" ry="3.4" transform="rotate(121 3246 1341)"/><ellipse cx="3231" cy="1317" rx="4.5" ry="2.4" transform="rotate(152 3231 1317)"/><ellipse cx="3230" cy="891" rx="4.8" ry="3.9" transform="rotate(141 3230 891)"/><ellipse cx="3230" cy="1469" rx="5.6" ry="3.2" transform="rotate(130 3230 1469)"/><ellipse cx="3235" cy="1167" rx="5.8" ry="3.9" transform="rotate(147 3235 1167)"/><ellipse cx="3255" cy="1688" rx="3.5" ry="2.8" transform="rotate(5 3255 1688)"/><ellipse cx="3253" cy="1327" rx="4.7" ry="3.5" transform="rotate(57 3253 1327)"/><ellipse cx="3230" cy="1051" rx="5.8" ry="3.7" transform="rotate(7 3230 1051)"/><ellipse cx="3243" cy="1512" rx="4.2" ry="2.7" transform="rotate(0 3243 1512)"/><ellipse cx="3237" cy="1092" rx="5.4" ry="3.4" transform="rotate(132 3237 1092)"/><ellipse cx="3246" cy="1428" rx="4.1" ry="2.7" transform="rotate(108 3246 1428)"/><ellipse cx="3231" cy="1478" rx="4.5" ry="2.2" transform="rotate(63 3231 1478)"/><ellipse cx="3238" cy="1478" rx="5.2" ry="2.7" transform="rotate(132 3238 1478)"/><ellipse cx="3226" cy="976" rx="3.8" ry="2.1" transform="rotate(93 3226 976)"/><ellipse cx="3234" cy="1101" rx="6.2" ry="5.1" transform="rotate(51 3234 1101)"/><ellipse cx="3233" cy="1495" rx="4.3" ry="3.5" transform="rotate(172 3233 1495)"/><ellipse cx="3241" cy="891" rx="4.5" ry="2.6" transform="rotate(36 3241 891)"/><ellipse cx="3229" cy="1233" rx="6.0" ry="3.4" transform="rotate(2 3229 1233)"/><ellipse cx="3229" cy="1618" rx="4.3" ry="2.3" transform="rotate(21 3229 1618)"/><ellipse cx="3233" cy="1181" rx="4.3" ry="2.9" transform="rotate(80 3233 1181)"/><ellipse cx="3232" cy="1130" rx="5.1" ry="3.9" transform="rotate(130 3232 1130)"/><ellipse cx="3246" cy="1162" rx="5.2" ry="3.3" transform="rotate(59 3246 1162)"/><ellipse cx="3237" cy="990" rx="6.2" ry="4.3" transform="rotate(18 3237 990)"/><ellipse cx="3230" cy="1639" rx="5.6" ry="3.1" transform="rotate(96 3230 1639)"/><ellipse cx="3230" cy="1564" rx="4.6" ry="3.0" transform="rotate(120 3230 1564)"/><ellipse cx="3236" cy="1038" rx="6.4" ry="3.4" transform="rotate(128 3236 1038)"/><ellipse cx="3236" cy="914" rx="4.3" ry="2.1" transform="rotate(27 3236 914)"/><ellipse cx="3237" cy="1313" rx="3.8" ry="2.6" transform="rotate(155 3237 1313)"/><ellipse cx="3246" cy="984" rx="4.2" ry="3.1" transform="rotate(85 3246 984)"/><ellipse cx="3235" cy="1644" rx="6.4" ry="3.7" transform="rotate(174 3235 1644)"/><ellipse cx="3239" cy="1611" rx="4.1" ry="2.7" transform="rotate(169 3239 1611)"/><ellipse cx="3239" cy="976" rx="5.7" ry="4.0" transform="rotate(18 3239 976)"/><ellipse cx="3246" cy="1666" rx="3.8" ry="2.9" transform="rotate(130 3246 1666)"/><ellipse cx="3232" cy="1140" rx="5.8" ry="2.7" transform="rotate(168 3232 1140)"/><ellipse cx="3239" cy="1195" rx="5.9" ry="3.8" transform="rotate(146 3239 1195)"/><ellipse cx="3229" cy="1127" rx="5.0" ry="2.4" transform="rotate(155 3229 1127)"/><ellipse cx="3228" cy="1435" rx="4.8" ry="4.0" transform="rotate(170 3228 1435)"/><ellipse cx="3245" cy="1664" rx="5.7" ry="3.9" transform="rotate(3 3245 1664)"/><ellipse cx="3238" cy="1638" rx="4.8" ry="3.3" transform="rotate(147 3238 1638)"/><ellipse cx="3255" cy="1106" rx="4.3" ry="2.0" transform="rotate(25 3255 1106)"/><ellipse cx="3233" cy="1696" rx="5.7" ry="3.1" transform="rotate(26 3233 1696)"/><ellipse cx="3236" cy="1616" rx="3.9" ry="2.4" transform="rotate(170 3236 1616)"/><ellipse cx="3240" cy="883" rx="4.8" ry="2.2" transform="rotate(180 3240 883)"/><ellipse cx="3249" cy="966" rx="5.7" ry="2.7" transform="rotate(125 3249 966)"/><ellipse cx="3234" cy="1284" rx="5.0" ry="2.5" transform="rotate(92 3234 1284)"/><ellipse cx="3245" cy="1538" rx="4.8" ry="2.6" transform="rotate(43 3245 1538)"/><ellipse cx="3246" cy="1257" rx="5.4" ry="3.7" transform="rotate(160 3246 1257)"/><ellipse cx="3265" cy="1299" rx="4.1" ry="1.9" transform="rotate(59 3265 1299)"/><ellipse cx="3230" cy="1137" rx="3.9" ry="2.4" transform="rotate(6 3230 1137)"/><ellipse cx="3254" cy="1635" rx="5.6" ry="4.1" transform="rotate(137 3254 1635)"/><ellipse cx="3229" cy="1127" rx="5.7" ry="3.0" transform="rotate(100 3229 1127)"/><ellipse cx="3228" cy="1368" rx="4.5" ry="3.5" transform="rotate(145 3228 1368)"/><ellipse cx="3235" cy="1682" rx="3.9" ry="2.1" transform="rotate(19 3235 1682)"/><ellipse cx="3256" cy="858" rx="5.8" ry="3.8" transform="rotate(101 3256 858)"/><ellipse cx="3272" cy="873" rx="5.4" ry="3.9" transform="rotate(106 3272 873)"/><ellipse cx="3256" cy="839" rx="3.9" ry="2.4" transform="rotate(76 3256 839)"/><ellipse cx="3270" cy="834" rx="5.2" ry="3.1" transform="rotate(70 3270 834)"/><ellipse cx="3276" cy="833" rx="3.8" ry="1.7" transform="rotate(130 3276 833)"/><ellipse cx="3277" cy="831" rx="4.8" ry="3.3" transform="rotate(66 3277 831)"/><ellipse cx="3283" cy="1866" rx="6.3" ry="3.6" transform="rotate(84 3283 1866)"/><ellipse cx="3246" cy="1879" rx="3.7" ry="3.0" transform="rotate(151 3246 1879)"/><ellipse cx="3243" cy="1867" rx="5.9" ry="3.8" transform="rotate(70 3243 1867)"/><ellipse cx="3273" cy="1865" rx="5.9" ry="4.7" transform="rotate(154 3273 1865)"/><ellipse cx="3291" cy="1847" rx="5.6" ry="3.6" transform="rotate(26 3291 1847)"/><ellipse cx="3275" cy="1839" rx="5.7" ry="2.7" transform="rotate(146 3275 1839)"/><ellipse cx="3284" cy="1931" rx="6.3" ry="4.4" transform="rotate(18 3284 1931)"/><ellipse cx="3249" cy="1919" rx="4.8" ry="2.6" transform="rotate(167 3249 1919)"/><ellipse cx="3253" cy="1941" rx="4.5" ry="3.1" transform="rotate(58 3253 1941)"/><ellipse cx="3252" cy="1897" rx="5.9" ry="3.1" transform="rotate(130 3252 1897)"/><ellipse cx="3289" cy="1880" rx="4.5" ry="3.1" transform="rotate(20 3289 1880)"/><ellipse cx="3259" cy="1892" rx="5.4" ry="3.8" transform="rotate(62 3259 1892)"/><ellipse cx="3260" cy="1835" rx="4.0" ry="2.3" transform="rotate(111 3260 1835)"/><ellipse cx="3260" cy="1967" rx="5.0" ry="2.8" transform="rotate(105 3260 1967)"/><ellipse cx="3244" cy="1872" rx="4.3" ry="2.7" transform="rotate(163 3244 1872)"/><ellipse cx="3254" cy="1855" rx="4.1" ry="2.0" transform="rotate(38 3254 1855)"/><ellipse cx="3269" cy="1881" rx="4.7" ry="3.0" transform="rotate(71 3269 1881)"/><ellipse cx="3299" cy="1955" rx="6.2" ry="3.9" transform="rotate(166 3299 1955)"/><ellipse cx="3257" cy="1952" rx="5.5" ry="3.3" transform="rotate(49 3257 1952)"/><ellipse cx="3247" cy="1973" rx="6.2" ry="3.7" transform="rotate(126 3247 1973)"/><ellipse cx="3274" cy="1962" rx="4.0" ry="2.4" transform="rotate(123 3274 1962)"/><ellipse cx="3281" cy="1974" rx="3.5" ry="2.6" transform="rotate(78 3281 1974)"/><ellipse cx="3242" cy="1975" rx="6.0" ry="4.0" transform="rotate(59 3242 1975)"/><ellipse cx="3256" cy="1962" rx="4.4" ry="2.5" transform="rotate(62 3256 1962)"/><ellipse cx="3301" cy="1968" rx="6.2" ry="4.4" transform="rotate(20 3301 1968)"/><ellipse cx="3240" cy="1946" rx="4.0" ry="2.2" transform="rotate(95 3240 1946)"/><ellipse cx="3303" cy="1958" rx="4.2" ry="3.6" transform="rotate(136 3303 1958)"/><ellipse cx="3342" cy="2099" rx="3.6" ry="3.1" transform="rotate(46 3342 2099)"/><ellipse cx="3350" cy="2261" rx="4.6" ry="3.7" transform="rotate(53 3350 2261)"/><ellipse cx="3348" cy="2022" rx="4.1" ry="3.2" transform="rotate(176 3348 2022)"/><ellipse cx="3340" cy="2196" rx="4.3" ry="2.1" transform="rotate(177 3340 2196)"/><ellipse cx="3345" cy="2004" rx="5.3" ry="3.1" transform="rotate(34 3345 2004)"/><ellipse cx="3344" cy="2130" rx="4.0" ry="2.8" transform="rotate(118 3344 2130)"/><ellipse cx="3339" cy="2153" rx="4.0" ry="3.2" transform="rotate(20 3339 2153)"/><ellipse cx="3336" cy="2046" rx="4.9" ry="3.3" transform="rotate(131 3336 2046)"/><ellipse cx="3351" cy="2276" rx="4.9" ry="2.3" transform="rotate(150 3351 2276)"/><ellipse cx="3338" cy="1996" rx="5.3" ry="4.0" transform="rotate(23 3338 1996)"/><ellipse cx="3342" cy="2084" rx="6.1" ry="4.4" transform="rotate(20 3342 2084)"/><ellipse cx="3339" cy="2210" rx="4.0" ry="2.8" transform="rotate(57 3339 2210)"/><ellipse cx="3348" cy="2033" rx="4.0" ry="2.4" transform="rotate(23 3348 2033)"/><ellipse cx="3351" cy="2113" rx="4.7" ry="3.6" transform="rotate(16 3351 2113)"/><ellipse cx="3340" cy="2096" rx="6.3" ry="5.0" transform="rotate(166 3340 2096)"/><ellipse cx="3358" cy="2235" rx="5.2" ry="2.6" transform="rotate(46 3358 2235)"/><ellipse cx="3340" cy="2021" rx="6.1" ry="3.5" transform="rotate(73 3340 2021)"/><ellipse cx="3352" cy="2162" rx="5.9" ry="4.5" transform="rotate(159 3352 2162)"/><ellipse cx="1373" cy="2477" rx="3.9" ry="3.0" transform="rotate(125 1373 2477)"/><ellipse cx="1408" cy="2466" rx="6.0" ry="3.8" transform="rotate(146 1408 2466)"/><ellipse cx="1387" cy="2469" rx="4.5" ry="2.9" transform="rotate(134 1387 2469)"/><ellipse cx="1735" cy="2477" rx="4.7" ry="3.7" transform="rotate(137 1735 2477)"/><ellipse cx="1525" cy="2482" rx="4.6" ry="2.6" transform="rotate(159 1525 2482)"/><ellipse cx="1683" cy="2463" rx="4.1" ry="3.4" transform="rotate(7 1683 2463)"/><ellipse cx="1688" cy="2467" rx="5.1" ry="3.4" transform="rotate(97 1688 2467)"/><ellipse cx="1433" cy="2467" rx="6.3" ry="3.1" transform="rotate(25 1433 2467)"/><ellipse cx="1600" cy="2463" rx="5.4" ry="4.2" transform="rotate(125 1600 2463)"/><ellipse cx="1766" cy="2462" rx="4.2" ry="3.2" transform="rotate(27 1766 2462)"/><ellipse cx="1510" cy="2461" rx="5.8" ry="3.0" transform="rotate(95 1510 2461)"/><ellipse cx="1746" cy="2460" rx="4.9" ry="2.8" transform="rotate(173 1746 2460)"/><ellipse cx="1671" cy="2478" rx="5.5" ry="3.2" transform="rotate(132 1671 2478)"/><ellipse cx="1482" cy="2465" rx="6.1" ry="4.4" transform="rotate(81 1482 2465)"/><ellipse cx="1530" cy="2476" rx="5.9" ry="3.9" transform="rotate(173 1530 2476)"/><ellipse cx="1175" cy="2483" rx="5.0" ry="3.9" transform="rotate(27 1175 2483)"/><ellipse cx="1386" cy="2477" rx="5.6" ry="4.4" transform="rotate(67 1386 2477)"/><ellipse cx="1806" cy="2463" rx="3.9" ry="1.9" transform="rotate(103 1806 2463)"/><ellipse cx="1376" cy="2464" rx="4.3" ry="2.7" transform="rotate(14 1376 2464)"/><ellipse cx="1752" cy="2472" rx="4.8" ry="2.8" transform="rotate(108 1752 2472)"/><ellipse cx="1392" cy="2480" rx="6.4" ry="5.3" transform="rotate(131 1392 2480)"/><ellipse cx="1699" cy="2468" rx="4.5" ry="2.3" transform="rotate(76 1699 2468)"/><ellipse cx="1801" cy="2464" rx="6.0" ry="5.0" transform="rotate(40 1801 2464)"/><ellipse cx="1312" cy="2474" rx="3.7" ry="2.4" transform="rotate(54 1312 2474)"/><ellipse cx="1601" cy="2462" rx="5.2" ry="3.6" transform="rotate(54 1601 2462)"/><ellipse cx="1640" cy="2471" rx="4.9" ry="3.1" transform="rotate(51 1640 2471)"/><ellipse cx="1196" cy="2486" rx="4.9" ry="3.4" transform="rotate(34 1196 2486)"/><ellipse cx="1720" cy="2486" rx="5.9" ry="3.8" transform="rotate(32 1720 2486)"/><ellipse cx="1344" cy="2484" rx="5.7" ry="4.8" transform="rotate(20 1344 2484)"/><ellipse cx="1174" cy="2470" rx="5.3" ry="2.6" transform="rotate(152 1174 2470)"/><ellipse cx="1386" cy="2473" rx="6.2" ry="3.6" transform="rotate(55 1386 2473)"/><ellipse cx="1283" cy="2483" rx="6.0" ry="2.8" transform="rotate(98 1283 2483)"/><ellipse cx="1639" cy="2465" rx="6.5" ry="5.3" transform="rotate(19 1639 2465)"/><ellipse cx="1409" cy="2482" rx="6.4" ry="3.5" transform="rotate(5 1409 2482)"/><ellipse cx="1776" cy="2460" rx="4.3" ry="2.9" transform="rotate(65 1776 2460)"/><ellipse cx="1540" cy="2500" rx="6.1" ry="3.4" transform="rotate(148 1540 2500)"/><ellipse cx="1182" cy="2478" rx="4.7" ry="3.9" transform="rotate(46 1182 2478)"/><ellipse cx="1405" cy="2472" rx="5.6" ry="4.0" transform="rotate(17 1405 2472)"/><ellipse cx="1759" cy="2467" rx="3.7" ry="2.7" transform="rotate(63 1759 2467)"/><ellipse cx="1682" cy="2490" rx="4.9" ry="3.7" transform="rotate(175 1682 2490)"/><ellipse cx="1763" cy="2474" rx="5.1" ry="4.3" transform="rotate(131 1763 2474)"/><ellipse cx="1599" cy="2463" rx="6.0" ry="3.7" transform="rotate(101 1599 2463)"/><ellipse cx="1713" cy="2471" rx="3.6" ry="2.4" transform="rotate(103 1713 2471)"/><ellipse cx="1264" cy="2494" rx="6.3" ry="3.9" transform="rotate(33 1264 2494)"/><ellipse cx="1433" cy="2476" rx="3.5" ry="1.7" transform="rotate(128 1433 2476)"/><ellipse cx="1832" cy="2310" rx="4.3" ry="3.3" transform="rotate(155 1832 2310)"/><ellipse cx="1823" cy="2422" rx="5.8" ry="4.0" transform="rotate(66 1823 2422)"/><ellipse cx="1824" cy="2293" rx="4.8" ry="2.6" transform="rotate(106 1824 2293)"/><ellipse cx="1824" cy="2437" rx="5.6" ry="2.8" transform="rotate(40 1824 2437)"/><ellipse cx="1829" cy="2356" rx="6.5" ry="3.7" transform="rotate(57 1829 2356)"/><ellipse cx="1832" cy="2361" rx="5.6" ry="3.2" transform="rotate(143 1832 2361)"/><ellipse cx="1838" cy="2318" rx="3.8" ry="2.7" transform="rotate(82 1838 2318)"/><ellipse cx="1846" cy="2428" rx="5.5" ry="3.3" transform="rotate(23 1846 2428)"/><ellipse cx="1840" cy="2382" rx="5.8" ry="3.7" transform="rotate(85 1840 2382)"/><ellipse cx="1837" cy="2393" rx="4.1" ry="2.6" transform="rotate(99 1837 2393)"/><ellipse cx="1834" cy="2424" rx="6.5" ry="4.4" transform="rotate(59 1834 2424)"/><ellipse cx="1842" cy="2323" rx="4.2" ry="3.1" transform="rotate(180 1842 2323)"/><ellipse cx="1844" cy="2349" rx="6.3" ry="3.9" transform="rotate(117 1844 2349)"/><ellipse cx="2872" cy="2316" rx="6.5" ry="3.1" transform="rotate(55 2872 2316)"/><ellipse cx="2496" cy="2331" rx="5.7" ry="4.0" transform="rotate(167 2496 2331)"/><ellipse cx="2682" cy="2320" rx="3.6" ry="2.2" transform="rotate(5 2682 2320)"/><ellipse cx="2543" cy="2315" rx="5.4" ry="2.9" transform="rotate(154 2543 2315)"/><ellipse cx="2435" cy="2332" rx="5.4" ry="3.6" transform="rotate(47 2435 2332)"/><ellipse cx="2788" cy="2316" rx="3.5" ry="1.9" transform="rotate(58 2788 2316)"/><ellipse cx="2887" cy="2316" rx="4.4" ry="3.1" transform="rotate(146 2887 2316)"/><ellipse cx="2141" cy="2319" rx="5.8" ry="3.5" transform="rotate(94 2141 2319)"/><ellipse cx="2443" cy="2367" rx="6.3" ry="5.1" transform="rotate(132 2443 2367)"/><ellipse cx="2711" cy="2334" rx="3.9" ry="1.8" transform="rotate(150 2711 2334)"/><ellipse cx="2685" cy="2324" rx="4.3" ry="3.5" transform="rotate(96 2685 2324)"/><ellipse cx="2055" cy="2331" rx="4.5" ry="2.7" transform="rotate(12 2055 2331)"/><ellipse cx="2979" cy="2337" rx="3.5" ry="2.2" transform="rotate(20 2979 2337)"/><ellipse cx="2736" cy="2332" rx="5.9" ry="4.5" transform="rotate(143 2736 2332)"/><ellipse cx="2153" cy="2327" rx="6.0" ry="4.7" transform="rotate(93 2153 2327)"/><ellipse cx="2262" cy="2318" rx="6.1" ry="3.0" transform="rotate(58 2262 2318)"/><ellipse cx="2038" cy="2339" rx="5.8" ry="4.5" transform="rotate(105 2038 2339)"/><ellipse cx="2988" cy="2312" rx="5.8" ry="4.8" transform="rotate(173 2988 2312)"/><ellipse cx="2115" cy="2319" rx="4.5" ry="2.6" transform="rotate(178 2115 2319)"/><ellipse cx="2094" cy="2332" rx="4.8" ry="2.4" transform="rotate(180 2094 2332)"/><ellipse cx="2514" cy="2322" rx="5.8" ry="3.4" transform="rotate(74 2514 2322)"/><ellipse cx="2754" cy="2333" rx="5.6" ry="4.5" transform="rotate(56 2754 2333)"/><ellipse cx="2854" cy="2313" rx="4.7" ry="3.2" transform="rotate(14 2854 2313)"/><ellipse cx="2130" cy="2342" rx="4.4" ry="2.2" transform="rotate(9 2130 2342)"/><ellipse cx="2727" cy="2316" rx="4.1" ry="3.0" transform="rotate(149 2727 2316)"/><ellipse cx="2633" cy="2339" rx="4.2" ry="2.8" transform="rotate(71 2633 2339)"/><ellipse cx="2296" cy="2339" rx="5.4" ry="4.4" transform="rotate(31 2296 2339)"/><ellipse cx="2291" cy="2346" rx="5.0" ry="2.4" transform="rotate(54 2291 2346)"/><ellipse cx="2557" cy="2354" rx="5.2" ry="3.7" transform="rotate(105 2557 2354)"/><ellipse cx="2793" cy="2317" rx="4.6" ry="2.1" transform="rotate(176 2793 2317)"/><ellipse cx="2800" cy="2318" rx="4.2" ry="3.0" transform="rotate(24 2800 2318)"/><ellipse cx="2055" cy="2326" rx="5.0" ry="2.3" transform="rotate(47 2055 2326)"/><ellipse cx="2405" cy="2317" rx="4.3" ry="2.3" transform="rotate(58 2405 2317)"/><ellipse cx="2436" cy="2317" rx="4.6" ry="2.7" transform="rotate(3 2436 2317)"/><ellipse cx="2843" cy="2313" rx="3.5" ry="1.9" transform="rotate(162 2843 2313)"/><ellipse cx="2477" cy="2336" rx="4.1" ry="3.2" transform="rotate(160 2477 2336)"/><ellipse cx="2154" cy="2342" rx="3.9" ry="2.2" transform="rotate(111 2154 2342)"/><ellipse cx="2685" cy="2313" rx="5.4" ry="3.8" transform="rotate(68 2685 2313)"/><ellipse cx="2103" cy="2353" rx="6.1" ry="4.9" transform="rotate(14 2103 2353)"/><ellipse cx="2778" cy="2316" rx="4.0" ry="2.4" transform="rotate(36 2778 2316)"/><ellipse cx="2865" cy="2326" rx="4.6" ry="3.8" transform="rotate(47 2865 2326)"/><ellipse cx="2590" cy="2345" rx="5.5" ry="3.0" transform="rotate(69 2590 2345)"/><ellipse cx="2133" cy="2322" rx="3.9" ry="2.2" transform="rotate(115 2133 2322)"/><ellipse cx="2650" cy="2325" rx="5.1" ry="4.0" transform="rotate(135 2650 2325)"/><ellipse cx="2238" cy="2329" rx="4.2" ry="2.1" transform="rotate(14 2238 2329)"/><ellipse cx="2374" cy="2319" rx="6.2" ry="4.4" transform="rotate(16 2374 2319)"/><ellipse cx="2247" cy="2336" rx="3.6" ry="1.7" transform="rotate(102 2247 2336)"/><ellipse cx="2616" cy="2326" rx="3.7" ry="2.8" transform="rotate(43 2616 2326)"/><ellipse cx="2604" cy="2330" rx="6.3" ry="3.9" transform="rotate(76 2604 2330)"/><ellipse cx="2557" cy="2318" rx="6.0" ry="5.1" transform="rotate(139 2557 2318)"/><ellipse cx="2555" cy="2320" rx="6.4" ry="5.3" transform="rotate(137 2555 2320)"/><ellipse cx="2245" cy="2343" rx="5.2" ry="3.3" transform="rotate(42 2245 2343)"/><ellipse cx="2789" cy="2317" rx="5.0" ry="3.1" transform="rotate(127 2789 2317)"/><ellipse cx="2735" cy="2341" rx="6.5" ry="5.5" transform="rotate(144 2735 2341)"/><ellipse cx="3083" cy="2326" rx="6.3" ry="4.0" transform="rotate(64 3083 2326)"/><ellipse cx="3006" cy="2329" rx="4.9" ry="3.3" transform="rotate(55 3006 2329)"/><ellipse cx="3033" cy="2319" rx="4.0" ry="2.5" transform="rotate(63 3033 2319)"/><ellipse cx="3159" cy="2322" rx="5.1" ry="3.1" transform="rotate(24 3159 2322)"/><ellipse cx="3002" cy="2355" rx="4.3" ry="2.6" transform="rotate(57 3002 2355)"/><ellipse cx="3236" cy="2344" rx="5.0" ry="3.8" transform="rotate(1 3236 2344)"/><ellipse cx="3041" cy="2318" rx="4.7" ry="2.8" transform="rotate(174 3041 2318)"/><ellipse cx="3139" cy="2336" rx="5.2" ry="4.4" transform="rotate(116 3139 2336)"/><ellipse cx="3189" cy="2331" rx="3.6" ry="3.0" transform="rotate(96 3189 2331)"/><ellipse cx="3185" cy="2337" rx="3.7" ry="2.8" transform="rotate(67 3185 2337)"/><ellipse cx="3204" cy="2333" rx="4.6" ry="2.6" transform="rotate(161 3204 2333)"/><ellipse cx="3068" cy="2354" rx="4.3" ry="2.8" transform="rotate(177 3068 2354)"/><ellipse cx="3036" cy="2320" rx="3.7" ry="2.3" transform="rotate(141 3036 2320)"/><ellipse cx="3225" cy="2357" rx="5.9" ry="2.9" transform="rotate(160 3225 2357)"/><ellipse cx="3113" cy="2326" rx="6.2" ry="4.0" transform="rotate(46 3113 2326)"/><ellipse cx="3046" cy="2332" rx="5.0" ry="2.3" transform="rotate(30 3046 2332)"/><ellipse cx="3277" cy="2361" rx="4.0" ry="2.5" transform="rotate(84 3277 2361)"/><ellipse cx="3033" cy="2328" rx="4.3" ry="3.5" transform="rotate(130 3033 2328)"/><ellipse cx="1022" cy="2104" rx="6.4" ry="4.4" transform="rotate(9 1022 2104)"/><ellipse cx="1124" cy="2098" rx="4.0" ry="2.2" transform="rotate(25 1124 2098)"/><ellipse cx="1023" cy="2091" rx="4.9" ry="2.5" transform="rotate(129 1023 2091)"/><ellipse cx="1030" cy="2081" rx="4.4" ry="3.5" transform="rotate(169 1030 2081)"/><ellipse cx="1138" cy="2078" rx="4.7" ry="2.9" transform="rotate(46 1138 2078)"/><ellipse cx="1088" cy="2070" rx="6.2" ry="3.1" transform="rotate(91 1088 2070)"/><ellipse cx="1151" cy="2089" rx="3.8" ry="2.4" transform="rotate(93 1151 2089)"/><ellipse cx="1100" cy="2085" rx="4.1" ry="2.3" transform="rotate(177 1100 2085)"/><ellipse cx="883" cy="2076" rx="5.8" ry="3.6" transform="rotate(167 883 2076)"/><ellipse cx="942" cy="2075" rx="6.1" ry="3.3" transform="rotate(9 942 2075)"/><ellipse cx="904" cy="2088" rx="6.4" ry="3.8" transform="rotate(129 904 2088)"/><ellipse cx="889" cy="2078" rx="5.0" ry="3.4" transform="rotate(18 889 2078)"/><ellipse cx="1042" cy="2088" rx="6.0" ry="4.4" transform="rotate(22 1042 2088)"/><ellipse cx="910" cy="2075" rx="3.7" ry="2.0" transform="rotate(115 910 2075)"/><ellipse cx="1151" cy="2114" rx="3.9" ry="3.0" transform="rotate(137 1151 2114)"/><ellipse cx="1012" cy="2078" rx="6.5" ry="4.5" transform="rotate(21 1012 2078)"/><ellipse cx="940" cy="2090" rx="5.4" ry="4.3" transform="rotate(2 940 2090)"/><ellipse cx="883" cy="2090" rx="6.4" ry="3.6" transform="rotate(48 883 2090)"/><ellipse cx="1122" cy="2100" rx="6.2" ry="4.2" transform="rotate(110 1122 2100)"/><ellipse cx="881" cy="2094" rx="5.3" ry="3.7" transform="rotate(139 881 2094)"/><ellipse cx="1025" cy="2081" rx="5.5" ry="2.6" transform="rotate(19 1025 2081)"/><ellipse cx="950" cy="2079" rx="5.9" ry="3.9" transform="rotate(64 950 2079)"/><ellipse cx="1150" cy="2084" rx="5.2" ry="4.1" transform="rotate(66 1150 2084)"/><ellipse cx="1002" cy="2077" rx="5.2" ry="4.4" transform="rotate(115 1002 2077)"/><ellipse cx="931" cy="2086" rx="4.9" ry="3.6" transform="rotate(4 931 2086)"/><ellipse cx="1022" cy="2079" rx="4.4" ry="3.1" transform="rotate(148 1022 2079)"/><ellipse cx="1011" cy="2082" rx="4.3" ry="2.8" transform="rotate(96 1011 2082)"/><ellipse cx="942" cy="2082" rx="5.8" ry="3.8" transform="rotate(64 942 2082)"/><ellipse cx="951" cy="2094" rx="6.3" ry="3.5" transform="rotate(13 951 2094)"/><ellipse cx="3044" cy="406" rx="3.2" ry="2.2" transform="rotate(61 3044 406)"/><ellipse cx="3028" cy="564" rx="1.8" ry="1.0" transform="rotate(142 3028 564)"/><ellipse cx="3048" cy="540" rx="1.7" ry="0.8" transform="rotate(46 3048 540)"/><ellipse cx="2993" cy="554" rx="2.6" ry="2.0" transform="rotate(100 2993 554)"/><ellipse cx="3068" cy="513" rx="2.5" ry="1.3" transform="rotate(84 3068 513)"/><ellipse cx="3070" cy="517" rx="1.5" ry="0.8" transform="rotate(36 3070 517)"/><ellipse cx="3043" cy="522" rx="2.5" ry="1.9" transform="rotate(137 3043 522)"/><ellipse cx="2997" cy="407" rx="2.9" ry="1.9" transform="rotate(117 2997 407)"/><ellipse cx="3033" cy="409" rx="2.4" ry="1.8" transform="rotate(108 3033 409)"/><ellipse cx="2994" cy="430" rx="3.3" ry="2.0" transform="rotate(30 2994 430)"/><ellipse cx="3050" cy="622" rx="3.2" ry="2.1" transform="rotate(145 3050 622)"/><ellipse cx="2997" cy="511" rx="3.1" ry="1.7" transform="rotate(26 2997 511)"/><ellipse cx="3064" cy="569" rx="1.5" ry="0.6" transform="rotate(100 3064 569)"/><ellipse cx="3071" cy="548" rx="3.3" ry="1.4" transform="rotate(104 3071 548)"/><ellipse cx="3005" cy="480" rx="1.8" ry="1.1" transform="rotate(8 3005 480)"/><ellipse cx="3046" cy="555" rx="3.3" ry="2.3" transform="rotate(14 3046 555)"/><ellipse cx="3527" cy="359" rx="3.4" ry="2.0" transform="rotate(15 3527 359)"/><ellipse cx="3505" cy="285" rx="3.5" ry="2.1" transform="rotate(162 3505 285)"/><ellipse cx="3476" cy="315" rx="2.8" ry="1.9" transform="rotate(83 3476 315)"/><ellipse cx="3447" cy="334" rx="2.9" ry="1.4" transform="rotate(28 3447 334)"/><ellipse cx="3475" cy="382" rx="1.6" ry="0.8" transform="rotate(175 3475 382)"/><ellipse cx="3446" cy="404" rx="2.1" ry="0.9" transform="rotate(88 3446 404)"/><ellipse cx="3527" cy="405" rx="1.6" ry="1.1" transform="rotate(112 3527 405)"/><ellipse cx="3475" cy="383" rx="2.5" ry="1.2" transform="rotate(125 3475 383)"/><ellipse cx="3427" cy="312" rx="3.2" ry="2.0" transform="rotate(92 3427 312)"/><ellipse cx="3506" cy="348" rx="2.3" ry="1.4" transform="rotate(4 3506 348)"/><ellipse cx="3457" cy="258" rx="3.5" ry="2.7" transform="rotate(118 3457 258)"/><ellipse cx="3431" cy="421" rx="2.1" ry="1.5" transform="rotate(117 3431 421)"/><ellipse cx="3492" cy="398" rx="2.0" ry="1.5" transform="rotate(98 3492 398)"/><ellipse cx="3512" cy="418" rx="2.0" ry="1.1" transform="rotate(65 3512 418)"/><ellipse cx="3775" cy="544" rx="2.9" ry="1.7" transform="rotate(98 3775 544)"/><ellipse cx="3832" cy="439" rx="2.2" ry="1.5" transform="rotate(96 3832 439)"/><ellipse cx="3805" cy="464" rx="1.9" ry="1.3" transform="rotate(61 3805 464)"/><ellipse cx="3836" cy="547" rx="3.4" ry="1.8" transform="rotate(93 3836 547)"/><ellipse cx="3777" cy="477" rx="1.6" ry="1.0" transform="rotate(172 3777 477)"/><ellipse cx="3643" cy="1082" rx="2.1" ry="1.6" transform="rotate(9 3643 1082)"/><ellipse cx="3680" cy="1328" rx="1.6" ry="1.3" transform="rotate(116 3680 1328)"/><ellipse cx="3475" cy="1113" rx="2.7" ry="1.7" transform="rotate(156 3475 1113)"/><ellipse cx="3703" cy="1063" rx="1.5" ry="1.1" transform="rotate(117 3703 1063)"/><ellipse cx="3595" cy="937" rx="1.7" ry="1.3" transform="rotate(65 3595 937)"/><ellipse cx="3513" cy="1387" rx="1.9" ry="1.2" transform="rotate(11 3513 1387)"/><ellipse cx="3553" cy="1269" rx="1.8" ry="1.3" transform="rotate(174 3553 1269)"/><ellipse cx="3672" cy="1295" rx="3.4" ry="2.3" transform="rotate(99 3672 1295)"/><ellipse cx="3671" cy="1303" rx="2.8" ry="1.8" transform="rotate(32 3671 1303)"/><ellipse cx="3452" cy="1063" rx="3.2" ry="2.3" transform="rotate(52 3452 1063)"/><ellipse cx="3747" cy="930" rx="1.6" ry="0.9" transform="rotate(14 3747 930)"/><ellipse cx="3727" cy="1079" rx="2.3" ry="1.7" transform="rotate(96 3727 1079)"/><ellipse cx="3584" cy="1120" rx="2.4" ry="1.9" transform="rotate(50 3584 1120)"/><ellipse cx="3536" cy="1139" rx="1.8" ry="0.8" transform="rotate(91 3536 1139)"/><ellipse cx="3659" cy="1959" rx="1.6" ry="1.3" transform="rotate(25 3659 1959)"/><ellipse cx="3698" cy="1727" rx="2.8" ry="1.3" transform="rotate(47 3698 1727)"/><ellipse cx="3490" cy="2153" rx="2.4" ry="1.3" transform="rotate(72 3490 2153)"/><ellipse cx="3534" cy="1868" rx="3.4" ry="1.6" transform="rotate(24 3534 1868)"/><ellipse cx="3547" cy="1911" rx="2.9" ry="1.2" transform="rotate(122 3547 1911)"/><ellipse cx="3464" cy="2256" rx="2.1" ry="1.2" transform="rotate(57 3464 2256)"/><ellipse cx="3540" cy="1869" rx="2.8" ry="1.6" transform="rotate(127 3540 1869)"/><ellipse cx="3431" cy="1974" rx="2.6" ry="1.8" transform="rotate(117 3431 1974)"/><ellipse cx="3493" cy="1752" rx="1.7" ry="0.8" transform="rotate(33 3493 1752)"/><ellipse cx="3383" cy="2097" rx="2.2" ry="1.7" transform="rotate(42 3383 2097)"/><ellipse cx="3411" cy="1810" rx="1.8" ry="1.2" transform="rotate(104 3411 1810)"/><ellipse cx="3413" cy="2186" rx="2.9" ry="1.6" transform="rotate(109 3413 2186)"/><ellipse cx="3595" cy="1965" rx="1.7" ry="0.9" transform="rotate(170 3595 1965)"/><ellipse cx="3468" cy="2083" rx="1.7" ry="1.2" transform="rotate(156 3468 2083)"/><ellipse cx="3468" cy="1923" rx="2.5" ry="1.3" transform="rotate(38 3468 1923)"/><ellipse cx="3358" cy="2112" rx="2.5" ry="2.0" transform="rotate(173 3358 2112)"/><ellipse cx="2887" cy="678" rx="3.2" ry="1.3" transform="rotate(23 2887 678)"/><ellipse cx="2978" cy="650" rx="2.7" ry="1.8" transform="rotate(79 2978 650)"/><ellipse cx="2482" cy="358" rx="2.6" ry="1.3" transform="rotate(22 2482 358)"/><ellipse cx="2883" cy="530" rx="3.3" ry="1.7" transform="rotate(104 2883 530)"/><ellipse cx="2349" cy="632" rx="1.9" ry="1.3" transform="rotate(100 2349 632)"/><ellipse cx="2393" cy="332" rx="2.5" ry="1.5" transform="rotate(147 2393 332)"/><ellipse cx="2283" cy="374" rx="2.1" ry="1.5" transform="rotate(42 2283 374)"/><ellipse cx="2671" cy="313" rx="1.7" ry="1.1" transform="rotate(89 2671 313)"/><ellipse cx="2201" cy="489" rx="3.4" ry="1.9" transform="rotate(100 2201 489)"/><ellipse cx="2478" cy="502" rx="1.6" ry="1.2" transform="rotate(104 2478 502)"/><ellipse cx="978" cy="446" rx="1.9" ry="1.4" transform="rotate(151 978 446)"/><ellipse cx="1003" cy="497" rx="2.6" ry="1.3" transform="rotate(6 1003 497)"/><ellipse cx="1288" cy="426" rx="2.6" ry="1.1" transform="rotate(4 1288 426)"/><ellipse cx="831" cy="505" rx="2.7" ry="2.2" transform="rotate(119 831 505)"/><ellipse cx="1118" cy="402" rx="3.4" ry="2.0" transform="rotate(154 1118 402)"/><ellipse cx="734" cy="534" rx="2.5" ry="1.2" transform="rotate(73 734 534)"/><ellipse cx="760" cy="493" rx="1.9" ry="1.3" transform="rotate(31 760 493)"/><ellipse cx="1252" cy="499" rx="2.9" ry="2.3" transform="rotate(53 1252 499)"/><ellipse cx="3705" cy="2459" rx="3.3" ry="2.4" transform="rotate(137 3705 2459)"/><ellipse cx="3680" cy="2405" rx="3.3" ry="2.6" transform="rotate(171 3680 2405)"/><ellipse cx="3601" cy="2629" rx="2.9" ry="2.1" transform="rotate(144 3601 2629)"/><ellipse cx="3636" cy="2458" rx="3.1" ry="2.0" transform="rotate(97 3636 2458)"/><ellipse cx="3762" cy="2313" rx="1.5" ry="0.9" transform="rotate(18 3762 2313)"/><ellipse cx="3753" cy="2335" rx="3.3" ry="1.6" transform="rotate(24 3753 2335)"/><ellipse cx="3726" cy="2571" rx="2.3" ry="1.5" transform="rotate(100 3726 2571)"/><ellipse cx="3785" cy="2503" rx="2.6" ry="1.5" transform="rotate(74 3785 2503)"/><ellipse cx="3707" cy="2345" rx="2.9" ry="2.2" transform="rotate(137 3707 2345)"/><ellipse cx="3663" cy="2441" rx="1.7" ry="0.7" transform="rotate(97 3663 2441)"/><ellipse cx="2808" cy="2973" rx="1.9" ry="1.3" transform="rotate(145 2808 2973)"/><ellipse cx="2168" cy="2972" rx="1.9" ry="1.0" transform="rotate(93 2168 2972)"/><ellipse cx="2563" cy="2890" rx="2.1" ry="1.6" transform="rotate(71 2563 2890)"/><ellipse cx="2071" cy="2845" rx="2.5" ry="1.7" transform="rotate(65 2071 2845)"/><ellipse cx="2459" cy="2899" rx="1.5" ry="1.2" transform="rotate(52 2459 2899)"/><ellipse cx="2273" cy="2992" rx="1.9" ry="0.8" transform="rotate(37 2273 2992)"/><ellipse cx="3961" cy="2413" rx="2.5" ry="1.1" transform="rotate(49 3961 2413)"/><ellipse cx="4104" cy="2244" rx="2.1" ry="1.6" transform="rotate(80 4104 2244)"/><ellipse cx="3993" cy="2349" rx="1.7" ry="1.0" transform="rotate(117 3993 2349)"/><ellipse cx="3935" cy="2337" rx="2.1" ry="1.5" transform="rotate(111 3935 2337)"/><ellipse cx="4264" cy="2352" rx="1.9" ry="0.9" transform="rotate(127 4264 2352)"/><ellipse cx="4224" cy="2216" rx="2.3" ry="1.2" transform="rotate(84 4224 2216)"/><ellipse cx="3492" cy="2774" rx="3.0" ry="2.1" transform="rotate(50 3492 2774)"/><ellipse cx="3276" cy="2700" rx="2.4" ry="1.5" transform="rotate(120 3276 2700)"/><ellipse cx="2893" cy="2885" rx="1.8" ry="1.0" transform="rotate(153 2893 2885)"/><ellipse cx="3587" cy="2697" rx="3.4" ry="1.4" transform="rotate(172 3587 2697)"/><ellipse cx="2921" cy="2564" rx="3.0" ry="1.4" transform="rotate(135 2921 2564)"/><ellipse cx="2756" cy="2600" rx="2.2" ry="1.0" transform="rotate(85 2756 2600)"/><ellipse cx="3044" cy="2845" rx="2.5" ry="2.0" transform="rotate(152 3044 2845)"/><ellipse cx="2895" cy="2917" rx="3.3" ry="2.1" transform="rotate(95 2895 2917)"/><ellipse cx="2894" cy="2678" rx="1.9" ry="0.9" transform="rotate(111 2894 2678)"/><ellipse cx="3026" cy="2857" rx="2.6" ry="1.9" transform="rotate(16 3026 2857)"/><ellipse cx="1414" cy="2377" rx="3.2" ry="1.6" transform="rotate(82 1414 2377)"/><ellipse cx="1321" cy="2362" rx="5.0" ry="3.5" transform="rotate(60 1321 2362)"/><ellipse cx="1758" cy="2366" rx="4.6" ry="2.4" transform="rotate(161 1758 2366)"/><ellipse cx="1508" cy="2394" rx="2.8" ry="1.6" transform="rotate(62 1508 2394)"/><ellipse cx="1660" cy="2393" rx="2.8" ry="1.6" transform="rotate(31 1660 2393)"/><ellipse cx="1330" cy="2357" rx="2.7" ry="1.4" transform="rotate(78 1330 2357)"/><ellipse cx="1716" cy="2383" rx="4.4" ry="2.3" transform="rotate(58 1716 2383)"/><ellipse cx="1490" cy="2362" rx="2.5" ry="1.3" transform="rotate(167 1490 2362)"/><ellipse cx="1323" cy="2375" rx="3.1" ry="2.2" transform="rotate(7 1323 2375)"/><ellipse cx="1535" cy="2386" rx="3.7" ry="1.7" transform="rotate(160 1535 2386)"/><ellipse cx="1309" cy="2396" rx="4.5" ry="3.4" transform="rotate(156 1309 2396)"/><ellipse cx="1470" cy="2381" rx="3.7" ry="2.3" transform="rotate(68 1470 2381)"/><ellipse cx="1693" cy="2365" rx="3.9" ry="1.7" transform="rotate(11 1693 2365)"/><ellipse cx="1707" cy="2368" rx="3.4" ry="2.7" transform="rotate(130 1707 2368)"/><ellipse cx="1372" cy="2377" rx="3.7" ry="2.4" transform="rotate(49 1372 2377)"/><ellipse cx="1427" cy="2397" rx="4.0" ry="2.5" transform="rotate(125 1427 2397)"/><ellipse cx="1646" cy="2359" rx="4.5" ry="2.6" transform="rotate(27 1646 2359)"/><ellipse cx="1446" cy="2400" rx="4.6" ry="3.5" transform="rotate(90 1446 2400)"/><ellipse cx="1593" cy="2370" rx="4.3" ry="2.7" transform="rotate(64 1593 2370)"/><ellipse cx="1750" cy="2375" rx="2.6" ry="1.9" transform="rotate(17 1750 2375)"/><ellipse cx="1429" cy="2373" rx="3.0" ry="1.8" transform="rotate(79 1429 2373)"/><ellipse cx="1544" cy="2383" rx="4.2" ry="1.8" transform="rotate(43 1544 2383)"/><ellipse cx="1354" cy="2367" rx="3.6" ry="2.7" transform="rotate(3 1354 2367)"/><ellipse cx="1673" cy="2358" rx="4.4" ry="3.2" transform="rotate(178 1673 2358)"/><ellipse cx="1565" cy="2353" rx="3.2" ry="1.8" transform="rotate(121 1565 2353)"/><ellipse cx="1746" cy="2394" rx="2.7" ry="1.2" transform="rotate(117 1746 2394)"/><ellipse cx="1395" cy="2379" rx="3.8" ry="2.3" transform="rotate(63 1395 2379)"/><ellipse cx="1719" cy="2365" rx="3.4" ry="1.6" transform="rotate(52 1719 2365)"/><ellipse cx="1361" cy="2382" rx="2.6" ry="1.3" transform="rotate(145 1361 2382)"/><ellipse cx="1692" cy="2367" rx="4.3" ry="3.1" transform="rotate(117 1692 2367)"/><ellipse cx="1586" cy="2388" rx="3.3" ry="1.8" transform="rotate(46 1586 2388)"/><ellipse cx="1406" cy="2376" rx="3.8" ry="1.8" transform="rotate(15 1406 2376)"/><ellipse cx="1311" cy="2361" rx="2.9" ry="1.9" transform="rotate(146 1311 2361)"/><ellipse cx="1546" cy="2382" rx="3.6" ry="1.5" transform="rotate(134 1546 2382)"/><ellipse cx="1652" cy="2357" rx="3.3" ry="2.2" transform="rotate(127 1652 2357)"/><ellipse cx="1375" cy="2369" rx="3.5" ry="2.1" transform="rotate(148 1375 2369)"/><ellipse cx="1367" cy="2369" rx="4.8" ry="2.3" transform="rotate(32 1367 2369)"/><ellipse cx="1662" cy="2381" rx="3.7" ry="2.2" transform="rotate(11 1662 2381)"/><ellipse cx="1595" cy="2363" rx="3.6" ry="2.8" transform="rotate(89 1595 2363)"/><ellipse cx="1482" cy="2368" rx="3.2" ry="2.1" transform="rotate(129 1482 2368)"/></g><g fill="#0d0d0f" stroke="#0d0d0f" stroke-width="16" stroke-linejoin="round"><path d="M891.0,684.0 L1806.0,672.0 L1806.0,713.0 L891.0,719.0 Z"/><rect x="867" y="684" width="56" height="202" rx="24"/><rect x="1756" y="672" width="50" height="232" rx="24"/><rect x="872" y="1021" width="50" height="93" rx="14"/><rect x="872" y="1063" width="253" height="55" rx="6"/><rect x="1070" y="1063" width="53" height="716" rx="18"/><rect x="884" y="1672" width="178" height="25" rx="0"/><rect x="884" y="1672" width="17" height="378" rx="16"/><rect x="884" y="2034" width="277" height="16" rx="4"/><rect x="1125" y="1728" width="43" height="258" rx="12"/><rect x="1765" y="1033" width="35" height="147" rx="10"/><rect x="1765" y="1136" width="155" height="44" rx="20"/><rect x="2089" y="1129" width="252" height="47" rx="20"/><rect x="1775" y="1204" width="26" height="110" rx="10"/><rect x="1761" y="1330" width="46" height="421" rx="12"/><rect x="1779" y="1774" width="14" height="102" rx="6"/><rect x="1769" y="1892" width="40" height="156" rx="12"/><rect x="1134" y="2011" width="632" height="28" rx="0"/><rect x="1174" y="2066" width="22" height="375" rx="0"/><rect x="1174" y="2412" width="632" height="31" rx="2"/><rect x="1772" y="2186" width="34" height="257" rx="2"/><rect x="1794" y="2240" width="238" height="39" rx="18"/><rect x="2174" y="2244" width="482" height="44" rx="18"/><rect x="2783" y="2242" width="253" height="45" rx="18"/><path d="M3004,2146 L3079,2143 L3079,2056 L3133,2050 L3133,1990 L3318,1985 L3322,2316 L3012,2320 Z"/><rect x="2604" y="820" width="603" height="42" rx="6"/><rect x="2604" y="820" width="42" height="362" rx="6"/><rect x="2550" y="1124" width="96" height="58" rx="10"/><rect x="3171" y="820" width="36" height="883" rx="12"/><rect x="3186" y="1830" width="41" height="150" rx="10"/><ellipse cx="2601" cy="842" rx="44" ry="48"/><circle cx="3197" cy="832" r="46"/><rect x="2637" y="1190" width="11" height="226" rx="0"/><rect x="2845" y="1154" width="318" height="20" rx="0"/><rect x="2928" y="1576" width="238" height="9" rx="0"/></g><g fill="#f7f7f9"><path d="M891.0,684.0 L1806.0,672.0 L1806.0,713.0 L891.0,719.0 Z"/><rect x="867" y="684" width="56" height="202" rx="24"/><rect x="1756" y="672" width="50" height="232" rx="24"/><rect x="872" y="1021" width="50" height="93" rx="14"/><rect x="872" y="1063" width="253" height="55" rx="6"/><rect x="1070" y="1063" width="53" height="716" rx="18"/><rect x="884" y="1672" width="178" height="25" rx="0"/><rect x="884" y="1672" width="17" height="378" rx="16"/><rect x="884" y="2034" width="277" height="16" rx="4"/><rect x="1125" y="1728" width="43" height="258" rx="12"/><rect x="1765" y="1033" width="35" height="147" rx="10"/><rect x="1765" y="1136" width="155" height="44" rx="20"/><rect x="2089" y="1129" width="252" height="47" rx="20"/><rect x="1775" y="1204" width="26" height="110" rx="10"/><rect x="1761" y="1330" width="46" height="421" rx="12"/><rect x="1779" y="1774" width="14" height="102" rx="6"/><rect x="1769" y="1892" width="40" height="156" rx="12"/><rect x="1134" y="2011" width="632" height="28" rx="0"/><rect x="1174" y="2066" width="22" height="375" rx="0"/><rect x="1174" y="2412" width="632" height="31" rx="2"/><rect x="1772" y="2186" width="34" height="257" rx="2"/><rect x="1794" y="2240" width="238" height="39" rx="18"/><rect x="2174" y="2244" width="482" height="44" rx="18"/><rect x="2783" y="2242" width="253" height="45" rx="18"/><path d="M3004,2146 L3079,2143 L3079,2056 L3133,2050 L3133,1990 L3318,1985 L3322,2316 L3012,2320 Z"/><rect x="2604" y="820" width="603" height="42" rx="6"/><rect x="2604" y="820" width="42" height="362" rx="6"/><rect x="2550" y="1124" width="96" height="58" rx="10"/><rect x="3171" y="820" width="36" height="883" rx="12"/><rect x="3186" y="1830" width="41" height="150" rx="10"/><ellipse cx="2601" cy="842" rx="44" ry="48"/><circle cx="3197" cy="832" r="46"/><rect x="2637" y="1190" width="11" height="226" rx="0"/><rect x="2845" y="1154" width="318" height="20" rx="0"/><rect x="2928" y="1576" width="238" height="9" rx="0"/></g><path d="M913.5,697.0 L994.1,696.5 M1024.9,696.3 L1084.0,696.0 M1116.4,695.8 L1188.8,695.4 M1221.9,695.2 L1308.6,694.7 M1327.1,694.6 L1391.2,694.2 M1425.0,694.0 L1466.2,693.8 M1497.0,693.6 L1580.7,693.1 M1613.5,692.9 L1679.9,692.5 M1706.8,692.4 L1775.0,692.0" stroke="#0d0d0f" stroke-width="5" stroke-linecap="round" fill="none"/><path d="M897.0,705.7 L897.0,756.1 M897.0,776.3 L897.0,829.9 M897.0,850.1 L897.0,878.0" stroke="#0d0d0f" stroke-width="5" stroke-linecap="round" fill="none"/><path d="M1781.0,708.9 L1781.0,753.5 M1781.0,786.1 L1781.0,845.5 M1781.0,865.9 L1781.0,888.0" stroke="#0d0d0f" stroke-width="5" stroke-linecap="round" fill="none"/><path d="M1097.1,1104.3 L1097.9,1194.8 M1098.1,1219.3 L1098.9,1300.8 M1099.2,1340.6 L1100.1,1434.3 M1100.3,1465.8 L1101.4,1578.6 M1101.8,1623.5 L1102.0,1650.0" stroke="#0d0d0f" stroke-width="5" stroke-linecap="round" fill="none"/><path d="M908.8,1092.2 L948.0,1092.9 M973.6,1093.4 L1029.4,1094.4 M1057.7,1095.0 L1060.0,1095.0" stroke="#0d0d0f" stroke-width="5" stroke-linecap="round" fill="none"/><path d="M893.0,1702.5 L893.0,1772.6 M893.0,1820.0 L893.0,1873.3 M893.0,1929.4 L893.0,1999.6" stroke="#0d0d0f" stroke-width="5" stroke-linecap="round" fill="none"/><path d="M1784.0,1349.6 L1784.4,1414.0 M1784.6,1463.4 L1785.0,1533.6 M1785.1,1569.6 L1785.4,1629.5 M1785.6,1669.9 L1785.8,1712.8 M1786.0,1743.2 L1786.0,1745.0" stroke="#0d0d0f" stroke-width="4.5" stroke-linecap="round" fill="none"/><path d="M1790.0,1907.0 L1790.0,1957.6 M1790.0,1985.4 L1790.0,2032.6" stroke="#0d0d0f" stroke-width="4.5" stroke-linecap="round" fill="none"/><path d="M1780.0,1040.1 L1780.5,1068.9 M1780.9,1093.5 L1781.3,1117.6 M1781.6,1134.6 L1782.0,1156.2" stroke="#0d0d0f" stroke-width="4.5" stroke-linecap="round" fill="none"/><path d="M1798.2,1158.0 L1829.2,1158.0 M1856.2,1158.0 L1910.1,1158.0" stroke="#0d0d0f" stroke-width="4.5" stroke-linecap="round" fill="none"/><path d="M2102.6,1152.0 L2179.1,1152.0 M2203.4,1152.0 L2256.0,1152.0 M2294.7,1152.0 L2335.0,1152.0" stroke="#0d0d0f" stroke-width="4.5" stroke-linecap="round" fill="none"/><path d="M1141.1,2025.0 L1181.4,2025.0 M1209.4,2025.0 L1256.8,2025.0 M1301.5,2025.0 L1359.0,2025.0 M1407.7,2025.0 L1495.2,2025.0 M1520.9,2025.0 L1610.7,2025.0 M1640.2,2025.0 L1717.1,2025.0 M1739.4,2025.0 L1760.0,2025.0" stroke="#0d0d0f" stroke-width="5" stroke-linecap="round" fill="none"/><path d="M866,893 L909,893 L910,1012 L864,1012 Z" fill="#0d0d0f"/><path d="M882,905 L893,905 L896,1000 L879,1000 Z" fill="#f7f7f9"/><rect x="1758" y="910" width="60" height="118" rx="0" fill="#f7f7f9" stroke="#0d0d0f" stroke-width="6" stroke-linejoin="round"/><circle cx="1787" cy="943" r="9" fill="#0d0d0f"/><circle cx="1787" cy="970" r="9" fill="#0d0d0f"/><circle cx="1787" cy="1000" r="9" fill="#0d0d0f"/><rect x="1924" y="1112" width="158" height="70" rx="0" fill="#f7f7f9" stroke="#0d0d0f" stroke-width="6" stroke-linejoin="round"/><circle cx="1966" cy="1157" r="11" fill="#0d0d0f"/><circle cx="2009" cy="1157" r="11" fill="#0d0d0f"/><circle cx="2053" cy="1157" r="11" fill="#0d0d0f"/><rect x="2346" y="1126" width="20" height="54" rx="7" fill="#0d0d0f"/><rect x="2366" y="1135" width="177" height="35" rx="6" fill="#f7f7f9" stroke="#0d0d0f" stroke-width="6" stroke-linejoin="round"/><path d="M926,718 L985,718 Q940,730 930,775 Z" fill="#0d0d0f"/><circle cx="1011" cy="807" r="79" fill="#f7f7f9" stroke="#0d0d0f" stroke-width="19"/><circle cx="1011" cy="807" r="79" fill="none" stroke="#f7f7f9" stroke-width="5.5" stroke-dasharray="13 22.5" stroke-linecap="round"/><path d="M971.2,759.5 L1004.9,759.5 M1020.9,759.5 L1050.8,759.5 M955.4,783.2 L1009.4,783.2 M1025.4,783.2 L1066.6,783.2 M951.0,807.0 L997.2,807.0 M1013.2,807.0 L1071.0,807.0 M955.4,830.8 L990.6,830.8 M1006.6,830.8 L1066.6,830.8 M971.2,854.5 L998.8,854.5 M1014.8,854.5 L1050.8,854.5" stroke="#0d0d0f" stroke-width="6" stroke-linecap="round" fill="none"/><circle cx="1016" cy="838" r="11" fill="#0d0d0f"/><circle cx="1180" cy="802" r="58" fill="#f7f7f9" stroke="#0d0d0f" stroke-width="19"/><circle cx="1180" cy="802" r="58" fill="none" stroke="#f7f7f9" stroke-width="5.5" stroke-dasharray="13 13.0" stroke-linecap="round"/><path d="M1154.8,769.6 L1173.0,769.6 M1189.0,769.6 L1205.2,769.6 M1144.0,785.8 L1164.1,785.8 M1180.1,785.8 L1216.0,785.8 M1141.0,802.0 L1165.9,802.0 M1181.9,802.0 L1219.0,802.0 M1144.0,818.2 L1171.5,818.2 M1187.5,818.2 L1216.0,818.2 M1154.8,834.4 L1164.6,834.4 M1180.6,834.4 L1205.2,834.4" stroke="#0d0d0f" stroke-width="6" stroke-linecap="round" fill="none"/><circle cx="1171" cy="825" r="9" fill="#0d0d0f"/><path d="M1251.0,719.0 L1748.0,719.0 L1748.0,1116.0 L1650.0,1116.0 L1638.0,843.0 L1251.0,842.0 Z" fill="#f7f7f9" stroke="#0d0d0f" stroke-width="7" stroke-linejoin="round"/><path d="M1729.0,722.0 L1636.0,842.0" fill="none" stroke="#0d0d0f" stroke-width="7" stroke-linecap="round" stroke-linejoin="round"/><path d="M1270.5,737.0 L1349.2,737.0 M1386.5,737.0 L1464.5,737.0 M1498.2,737.0 L1669.5,737.0 M1692.4,737.0 L1720.0,737.0" stroke="#0d0d0f" stroke-width="5" stroke-linecap="round" fill="none"/><path d="M1268.2,772.0 L1382.4,772.0 M1421.8,772.0 L1518.1,772.0 M1557.0,772.0 L1660.4,772.0 M1685.9,772.0 L1690.0,772.0" stroke="#0d0d0f" stroke-width="5" stroke-linecap="round" fill="none"/><path d="M1270.8,802.1 L1427.3,803.7 M1446.8,804.0 L1640.0,806.0" stroke="#0d0d0f" stroke-width="5" stroke-linecap="round" fill="none"/><path d="M1663.1,865.1 L1664.8,973.0 M1665.1,990.7 L1666.5,1078.5" stroke="#0d0d0f" stroke-width="5" stroke-linecap="round" fill="none"/><path d="M1692.0,787.8 L1693.0,942.0 M1693.1,958.5 L1693.9,1085.5 M1694.0,1107.2 L1694.0,1110.0" stroke="#0d0d0f" stroke-width="5" stroke-linecap="round" fill="none"/><path d="M1726.0,749.6 L1726.4,884.9 M1726.5,914.6 L1727.0,1099.2" stroke="#0d0d0f" stroke-width="5" stroke-linecap="round" fill="none"/><path d="M1251,725 L1258,725 L1262,838 L1248,842 Z" fill="#0d0d0f"/><rect x="1333" y="1219" width="251" height="527" rx="6" fill="#f7f7f9" stroke="#0d0d0f" stroke-width="7" stroke-linejoin="round"/><path d="M1384.0,1230.7 L1383.8,1289.2 M1383.7,1303.2 L1383.2,1428.2 M1383.1,1456.7 L1382.9,1509.3 M1382.8,1527.8 L1382.3,1658.2 M1382.2,1685.7 L1382.0,1738.0" stroke="#0d0d0f" stroke-width="5" stroke-linecap="round" fill="none"/><path d="M1420.0,1232.0 L1418.0,1740.0" fill="none" stroke="#0d0d0f" stroke-width="5" stroke-linecap="round" stroke-linejoin="round"/><path d="M1460.0,1233.0 L1459.9,1257.0 M1459.9,1273.5 L1459.8,1323.7 M1459.8,1335.9 L1459.7,1371.2 M1459.7,1391.7 L1459.6,1452.6 M1459.5,1467.4 L1459.5,1494.7 M1459.4,1512.7 L1459.4,1538.1 M1459.4,1552.3 L1459.3,1578.5 M1459.3,1604.9 L1459.1,1677.7 M1459.1,1690.4 L1459.0,1738.0" stroke="#0d0d0f" stroke-width="5" stroke-linecap="round" fill="none"/><path d="M1500.0,1228.0 L1500.0,1740.0" fill="none" stroke="#0d0d0f" stroke-width="5" stroke-linecap="round" stroke-linejoin="round"/><ellipse cx="1500" cy="1560" rx="9" ry="28" fill="#0d0d0f"/><path d="M1540.0,1236.5 L1540.2,1306.5 M1540.2,1333.3 L1540.3,1381.4 M1540.3,1394.2 L1540.6,1529.7 M1540.6,1545.7 L1540.9,1677.2 M1540.9,1702.8 L1541.0,1738.0" stroke="#0d0d0f" stroke-width="5" stroke-linecap="round" fill="none"/><path d="M1132.0,1098.0 L1178.0,1098.0 L1172.0,1645.0 L1132.0,1648.0 Z" fill="#f7f7f9" stroke="#0d0d0f" stroke-width="7" stroke-linejoin="round"/><rect x="934" y="1723" width="137" height="291" fill="#f7f7f9"/><path d="M1071,1768 L1071,1723 L934,1723 L934,2014 L1071,2014 L1071,1959" fill="none" stroke="#0d0d0f" stroke-width="12" stroke-linejoin="round"/><path d="M990,1795 L990,1944 M1015,1795 L1015,1944 M1042,1795 L1042,1944 M952,1813 L1092,1813 M952,1840 L1092,1840 M952,1867 L1092,1867 M952,1894 L1092,1894 M952,1919 L1092,1919 M1060,1885 L1098,1858 M1060,1905 L1098,1935 M950,1800 L975,1815 M950,1925 L975,1915" stroke="#0d0d0f" stroke-width="9" stroke-linecap="round"/><path d="M1023,1743 l-11,8 M991,1789 l12,5 M1039,1868 l-7,-2 M1007,1876 l6,8 M1029,1979 l-5,1 M946,1976 l-3,8 M1004,2005 l-9,-2 M983,1959 l9,-9 M983,1995 l-8,9 M995,1980 l4,4 M983,1868 l-5,-7 M975,1773 l0,-13 M980,1775 l7,1 M955,1934 l-5,-3 M1062,1776 l0,6 M1047,1775 l11,-6 M979,1963 l-6,-5 M1046,1975 l6,2 M1032,1993 l-5,-11 M1029,1944 l-7,2 M1037,1775 l-8,1 M999,1888 l6,6 M1063,1776 l4,9 M970,1967 l2,11 M972,1763 l2,-8 M965,1985 l3,-4 M967,1774 l-11,-5 M961,1790 l7,-3 M1038,1985 l-8,-10 M956,1904 l6,-4 M1032,1978 l2,-6 M1052,1787 l6,12 M962,2004 l-10,5 M945,1758 l6,5 M1008,1765 l2,5 M1014,1949 l2,5 M1011,1765 l-13,-1 M975,1978 l-8,-1 M1013,1976 l4,-9 M979,1751 l3,10 M947,1830 l9,9 M1062,1740 l8,-3 M1048,1994 l3,5 M1008,1783 l-4,6 M967,1993 l10,-3 M973,1994 l-8,10 M1013,2000 l-5,0 M1052,1998 l-1,12 M963,1848 l9,-3 M1013,1994 l-8,-8 M1011,1742 l12,-6 M1031,1973 l1,7 M1021,1928 l9,7 M985,1773 l8,-0 M1046,1995 l13,-2 M995,1766 l13,-4 M994,1938 l-8,-7 M1057,1759 l5,6 M1040,1753 l9,6 M984,1746 l2,-5" stroke="#0d0d0f" stroke-width="4" stroke-linecap="round"/><path d="M1067.0,1959.0 L1090.0,1950.0 L1126.0,1948.0 L1126.0,1991.0 L1140.0,1996.0" fill="none" stroke="#0d0d0f" stroke-width="9" stroke-linecap="round" stroke-linejoin="round"/><path d="M1094.0,1966.0 L1094.0,2025.0" fill="none" stroke="#0d0d0f" stroke-width="6" stroke-linecap="round" stroke-linejoin="round"/><circle cx="1887" cy="1405" r="64" fill="#0d0d0f"/><circle cx="1887" cy="1405" r="52" fill="none" stroke="#f7f7f9" stroke-width="5" stroke-dasharray="8 13" stroke-linecap="round"/><path d="M1889.6,1363.1 L1900.9,1371.0 M1909.9,1377.3 L1917.7,1382.7 M1866.2,1368.5 L1879.9,1378.2 M1891.6,1386.3 L1899.4,1391.8 M1908.9,1398.4 L1916.1,1403.5 M1852.6,1380.9 L1866.6,1390.7 M1877.4,1398.3 L1893.4,1409.5 M1908.0,1419.7 L1916.6,1425.7 M1845.6,1397.9 L1854.0,1403.8 M1866.0,1412.2 L1878.4,1420.9 M1889.6,1428.7 L1903.8,1438.6 M1848.5,1421.8 L1858.2,1428.6 M1870.5,1437.2 L1884.4,1446.9" stroke="#f7f7f9" stroke-width="5" stroke-linecap="round" fill="none"/><circle cx="1872" cy="1522" r="50" fill="#0d0d0f"/><circle cx="1872" cy="1522" r="38" fill="none" stroke="#f7f7f9" stroke-width="5" stroke-dasharray="8 13" stroke-linecap="round"/><path d="M1849.1,1505.9 L1862.8,1507.1 M1873.1,1508.0 L1890.0,1509.5 M1844.1,1519.6 L1862.1,1521.1 M1877.1,1522.4 L1896.5,1524.1 M1846.6,1533.8 L1861.7,1535.2 M1879.4,1536.7 L1894.9,1538.1" stroke="#f7f7f9" stroke-width="5" stroke-linecap="round" fill="none"/><rect x="1281" y="1880" width="340" height="127" rx="24" fill="#f7f7f9" stroke="#0d0d0f" stroke-width="7" stroke-linejoin="round"/><rect x="1336" y="1909" width="240" height="74" rx="36" fill="#f7f7f9" stroke="#0d0d0f" stroke-width="10" stroke-linejoin="round"/><circle cx="1454" cy="1957" r="15" fill="#0d0d0f"/><path d="M1454.0,1960.0 L1451.0,2005.0" fill="none" stroke="#0d0d0f" stroke-width="10" stroke-linecap="round" stroke-linejoin="round"/><circle cx="1691" cy="1941" r="48" fill="#f7f7f9" stroke="#0d0d0f" stroke-width="19"/><circle cx="1691" cy="1941" r="48" fill="none" stroke="#f7f7f9" stroke-width="5.5" stroke-dasharray="13 8.5" stroke-linecap="round"/><circle cx="1683" cy="1961" r="7" fill="#0d0d0f"/><circle cx="1090" cy="2132" r="56" fill="#f7f7f9" stroke="#0d0d0f" stroke-width="17"/><circle cx="1090" cy="2132" r="56" fill="none" stroke="#f7f7f9" stroke-width="5" stroke-dasharray="12 13"/><path d="M1094,2129 l8,-4 M1073,2099 l-6,-5 M1085,2125 l7,4 M1087,2131 l-4,-2 M1089,2163 l-6,-5 M1099,2115 l-5,2 M1074,2153 l4,-3 M1090,2122 l7,0 M1094,2118 l7,-0 M1080,2156 l2,-3 M1106,2121 l-1,5 M1072,2126 l-1,3 M1073,2110 l-2,-5 M1092,2129 l2,2 M1073,2123 l1,6 M1093,2130 l8,-2 M1115,2141 l-6,-0 M1105,2109 l7,-3 M1096,2128 l2,-4 M1118,2116 l7,-2 M1077,2143 l1,-3 M1071,2125 l-1,-5 M1070,2113 l-5,5 M1104,2122 l-6,-1 M1097,2121 l-1,5 M1089,2125 l6,-1 M1090,2114 l5,1 M1089,2129 l6,-1 M1091,2130 l0,5 M1088,2125 l-5,0 M1068,2120 l-7,-1 M1090,2128 l-3,-5 M1094,2094 l-5,7 M1095,2155 l8,0 M1076,2136 l-5,0 M1095,2156 l-2,-2 M1087,2165 l-1,5 M1079,2123 l8,-3 M1098,2136 l3,5 M1087,2155 l3,-2 M1096,2131 l-1,4 M1079,2136 l-1,-9 M1108,2128 l-2,-3 M1066,2109 l3,-3 M1109,2160 l-2,-7" stroke="#0d0d0f" stroke-width="2.5" stroke-linecap="round"/><rect x="1197" y="2042" width="572" height="290" fill="#0d0d0f"/><path d="M1208,2088 L1211,2232" stroke="#f7f7f9" stroke-width="7.5" stroke-linecap="round"/><path d="M1209,2254 L1209,2320" stroke="#f7f7f9" stroke-width="4.1" stroke-linecap="round"/><path d="M1221,2059 L1221,2104" stroke="#f7f7f9" stroke-width="6.7" stroke-linecap="round"/><path d="M1222,2136 L1222,2212" stroke="#f7f7f9" stroke-width="3.8" stroke-linecap="round"/><path d="M1221,2242 L1224,2320" stroke="#f7f7f9" stroke-width="7.9" stroke-linecap="round"/><path d="M1233,2079 L1235,2150" stroke="#f7f7f9" stroke-width="3.9" stroke-linecap="round"/><path d="M1232,2178 L1230,2264" stroke="#f7f7f9" stroke-width="6.4" stroke-linecap="round"/><path d="M1232,2284 L1229,2320" stroke="#f7f7f9" stroke-width="4.4" stroke-linecap="round"/><path d="M1243,2076 L1241,2206" stroke="#f7f7f9" stroke-width="5.0" stroke-linecap="round"/><path d="M1243,2225 L1240,2320" stroke="#f7f7f9" stroke-width="6.0" stroke-linecap="round"/><path d="M1258,2085 L1257,2147" stroke="#f7f7f9" stroke-width="6.0" stroke-linecap="round"/><path d="M1254,2185 L1255,2239" stroke="#f7f7f9" stroke-width="7.9" stroke-linecap="round"/><path d="M1258,2250 L1259,2320" stroke="#f7f7f9" stroke-width="6.6" stroke-linecap="round"/><path d="M1270,2090 L1267,2211" stroke="#f7f7f9" stroke-width="5.1" stroke-linecap="round"/><path d="M1267,2227 L1272,2270" stroke="#f7f7f9" stroke-width="5.6" stroke-linecap="round"/><path d="M1277,2075 L1282,2204" stroke="#f7f7f9" stroke-width="4.6" stroke-linecap="round"/><path d="M1279,2227 L1282,2302" stroke="#f7f7f9" stroke-width="7.5" stroke-linecap="round"/><path d="M1288,2080 L1287,2211" stroke="#f7f7f9" stroke-width="6.4" stroke-linecap="round"/><path d="M1289,2233 L1292,2320" stroke="#f7f7f9" stroke-width="6.0" stroke-linecap="round"/><path d="M1300,2069 L1305,2168" stroke="#f7f7f9" stroke-width="7.3" stroke-linecap="round"/><path d="M1300,2180 L1301,2280" stroke="#f7f7f9" stroke-width="5.9" stroke-linecap="round"/><path d="M1299,2304 L1300,2320" stroke="#f7f7f9" stroke-width="6.7" stroke-linecap="round"/><path d="M1309,2086 L1310,2144" stroke="#f7f7f9" stroke-width="6.6" stroke-linecap="round"/><path d="M1310,2167 L1312,2211" stroke="#f7f7f9" stroke-width="6.6" stroke-linecap="round"/><path d="M1310,2237 L1315,2320" stroke="#f7f7f9" stroke-width="5.9" stroke-linecap="round"/><path d="M1325,2086 L1325,2178" stroke="#f7f7f9" stroke-width="7.0" stroke-linecap="round"/><path d="M1323,2197 L1328,2268" stroke="#f7f7f9" stroke-width="5.1" stroke-linecap="round"/><path d="M1325,2289 L1324,2320" stroke="#f7f7f9" stroke-width="5.4" stroke-linecap="round"/><path d="M1333,2067 L1338,2112" stroke="#f7f7f9" stroke-width="4.5" stroke-linecap="round"/><path d="M1333,2137 L1335,2185" stroke="#f7f7f9" stroke-width="5.6" stroke-linecap="round"/><path d="M1336,2208 L1332,2320" stroke="#f7f7f9" stroke-width="4.7" stroke-linecap="round"/><path d="M1346,2059 L1343,2187" stroke="#f7f7f9" stroke-width="4.7" stroke-linecap="round"/><path d="M1346,2222 L1348,2268" stroke="#f7f7f9" stroke-width="6.8" stroke-linecap="round"/><path d="M1347,2286 L1343,2320" stroke="#f7f7f9" stroke-width="7.6" stroke-linecap="round"/><path d="M1358,2064 L1362,2101" stroke="#f7f7f9" stroke-width="6.2" stroke-linecap="round"/><path d="M1361,2125 L1363,2242" stroke="#f7f7f9" stroke-width="6.1" stroke-linecap="round"/><path d="M1358,2270 L1356,2320" stroke="#f7f7f9" stroke-width="5.0" stroke-linecap="round"/><path d="M1370,2072 L1374,2143" stroke="#f7f7f9" stroke-width="6.3" stroke-linecap="round"/><path d="M1371,2166 L1374,2243" stroke="#f7f7f9" stroke-width="6.4" stroke-linecap="round"/><path d="M1372,2262 L1366,2320" stroke="#f7f7f9" stroke-width="7.9" stroke-linecap="round"/><path d="M1384,2085 L1385,2124" stroke="#f7f7f9" stroke-width="5.3" stroke-linecap="round"/><path d="M1381,2150 L1381,2209" stroke="#f7f7f9" stroke-width="5.3" stroke-linecap="round"/><path d="M1382,2232 L1380,2320" stroke="#f7f7f9" stroke-width="6.2" stroke-linecap="round"/><path d="M1395,2072 L1400,2127" stroke="#f7f7f9" stroke-width="7.2" stroke-linecap="round"/><path d="M1396,2153 L1399,2260" stroke="#f7f7f9" stroke-width="5.4" stroke-linecap="round"/><path d="M1393,2299 L1399,2320" stroke="#f7f7f9" stroke-width="5.4" stroke-linecap="round"/><path d="M1408,2060 L1408,2099" stroke="#f7f7f9" stroke-width="5.3" stroke-linecap="round"/><path d="M1405,2130 L1407,2242" stroke="#f7f7f9" stroke-width="4.7" stroke-linecap="round"/><path d="M1406,2254 L1402,2320" stroke="#f7f7f9" stroke-width="5.8" stroke-linecap="round"/><path d="M1418,2063 L1420,2171" stroke="#f7f7f9" stroke-width="4.9" stroke-linecap="round"/><path d="M1417,2200 L1422,2296" stroke="#f7f7f9" stroke-width="4.4" stroke-linecap="round"/><path d="M1432,2067 L1431,2213" stroke="#f7f7f9" stroke-width="3.6" stroke-linecap="round"/><path d="M1432,2250 L1432,2303" stroke="#f7f7f9" stroke-width="6.6" stroke-linecap="round"/><path d="M1444,2061 L1448,2105" stroke="#f7f7f9" stroke-width="7.1" stroke-linecap="round"/><path d="M1444,2134 L1448,2228" stroke="#f7f7f9" stroke-width="4.7" stroke-linecap="round"/><path d="M1444,2257 L1446,2320" stroke="#f7f7f9" stroke-width="4.4" stroke-linecap="round"/><path d="M1457,2064 L1453,2124" stroke="#f7f7f9" stroke-width="3.8" stroke-linecap="round"/><path d="M1458,2163 L1457,2198" stroke="#f7f7f9" stroke-width="7.1" stroke-linecap="round"/><path d="M1455,2225 L1460,2320" stroke="#f7f7f9" stroke-width="6.4" stroke-linecap="round"/><path d="M1470,2074 L1464,2213" stroke="#f7f7f9" stroke-width="5.4" stroke-linecap="round"/><path d="M1470,2233 L1466,2320" stroke="#f7f7f9" stroke-width="6.3" stroke-linecap="round"/><path d="M1483,2063 L1483,2114" stroke="#f7f7f9" stroke-width="6.1" stroke-linecap="round"/><path d="M1482,2136 L1482,2230" stroke="#f7f7f9" stroke-width="7.1" stroke-linecap="round"/><path d="M1483,2258 L1479,2320" stroke="#f7f7f9" stroke-width="7.1" stroke-linecap="round"/><path d="M1493,2081 L1495,2225" stroke="#f7f7f9" stroke-width="7.6" stroke-linecap="round"/><path d="M1497,2246 L1497,2305" stroke="#f7f7f9" stroke-width="5.8" stroke-linecap="round"/><path d="M1504,2063 L1507,2161" stroke="#f7f7f9" stroke-width="4.6" stroke-linecap="round"/><path d="M1505,2201 L1507,2320" stroke="#f7f7f9" stroke-width="6.8" stroke-linecap="round"/><path d="M1518,2072 L1521,2113" stroke="#f7f7f9" stroke-width="7.7" stroke-linecap="round"/><path d="M1517,2137 L1518,2262" stroke="#f7f7f9" stroke-width="5.0" stroke-linecap="round"/><path d="M1519,2286 L1518,2320" stroke="#f7f7f9" stroke-width="5.3" stroke-linecap="round"/><path d="M1530,2086 L1531,2230" stroke="#f7f7f9" stroke-width="3.6" stroke-linecap="round"/><path d="M1530,2261 L1530,2308" stroke="#f7f7f9" stroke-width="6.8" stroke-linecap="round"/><path d="M1542,2078 L1543,2220" stroke="#f7f7f9" stroke-width="4.1" stroke-linecap="round"/><path d="M1543,2245 L1544,2320" stroke="#f7f7f9" stroke-width="6.4" stroke-linecap="round"/><path d="M1553,2082 L1550,2186" stroke="#f7f7f9" stroke-width="5.3" stroke-linecap="round"/><path d="M1552,2196 L1553,2270" stroke="#f7f7f9" stroke-width="4.9" stroke-linecap="round"/><path d="M1554,2290 L1557,2320" stroke="#f7f7f9" stroke-width="7.0" stroke-linecap="round"/><path d="M1563,2078 L1567,2139" stroke="#f7f7f9" stroke-width="7.9" stroke-linecap="round"/><path d="M1564,2156 L1560,2202" stroke="#f7f7f9" stroke-width="6.3" stroke-linecap="round"/><path d="M1565,2240 L1568,2320" stroke="#f7f7f9" stroke-width="6.6" stroke-linecap="round"/><path d="M1576,2082 L1576,2201" stroke="#f7f7f9" stroke-width="5.0" stroke-linecap="round"/><path d="M1575,2237 L1578,2277" stroke="#f7f7f9" stroke-width="5.2" stroke-linecap="round"/><path d="M1574,2291 L1575,2320" stroke="#f7f7f9" stroke-width="4.0" stroke-linecap="round"/><path d="M1587,2061 L1589,2173" stroke="#f7f7f9" stroke-width="5.0" stroke-linecap="round"/><path d="M1588,2197 L1589,2316" stroke="#f7f7f9" stroke-width="6.3" stroke-linecap="round"/><path d="M1600,2067 L1601,2160" stroke="#f7f7f9" stroke-width="7.0" stroke-linecap="round"/><path d="M1600,2195 L1595,2320" stroke="#f7f7f9" stroke-width="5.9" stroke-linecap="round"/><path d="M1611,2087 L1616,2220" stroke="#f7f7f9" stroke-width="5.5" stroke-linecap="round"/><path d="M1613,2250 L1612,2307" stroke="#f7f7f9" stroke-width="3.7" stroke-linecap="round"/><path d="M1625,2077 L1626,2199" stroke="#f7f7f9" stroke-width="7.1" stroke-linecap="round"/><path d="M1627,2214 L1622,2320" stroke="#f7f7f9" stroke-width="5.5" stroke-linecap="round"/><path d="M1638,2058 L1633,2140" stroke="#f7f7f9" stroke-width="7.8" stroke-linecap="round"/><path d="M1637,2175 L1635,2236" stroke="#f7f7f9" stroke-width="4.6" stroke-linecap="round"/><path d="M1635,2252 L1641,2297" stroke="#f7f7f9" stroke-width="4.3" stroke-linecap="round"/><path d="M1637,2308 L1632,2320" stroke="#f7f7f9" stroke-width="4.5" stroke-linecap="round"/><path d="M1649,2059 L1651,2141" stroke="#f7f7f9" stroke-width="5.0" stroke-linecap="round"/><path d="M1650,2154 L1646,2288" stroke="#f7f7f9" stroke-width="4.7" stroke-linecap="round"/><path d="M1648,2301 L1646,2320" stroke="#f7f7f9" stroke-width="3.9" stroke-linecap="round"/><path d="M1664,2075 L1658,2167" stroke="#f7f7f9" stroke-width="5.8" stroke-linecap="round"/><path d="M1663,2178 L1664,2290" stroke="#f7f7f9" stroke-width="3.5" stroke-linecap="round"/><path d="M1670,2071 L1674,2142" stroke="#f7f7f9" stroke-width="6.1" stroke-linecap="round"/><path d="M1673,2181 L1675,2279" stroke="#f7f7f9" stroke-width="6.5" stroke-linecap="round"/><path d="M1685,2080 L1683,2152" stroke="#f7f7f9" stroke-width="7.9" stroke-linecap="round"/><path d="M1686,2185 L1680,2246" stroke="#f7f7f9" stroke-width="4.6" stroke-linecap="round"/><path d="M1686,2282 L1689,2320" stroke="#f7f7f9" stroke-width="6.1" stroke-linecap="round"/><path d="M1693,2074 L1690,2135" stroke="#f7f7f9" stroke-width="5.4" stroke-linecap="round"/><path d="M1694,2162 L1690,2203" stroke="#f7f7f9" stroke-width="4.7" stroke-linecap="round"/><path d="M1695,2237 L1691,2320" stroke="#f7f7f9" stroke-width="3.6" stroke-linecap="round"/><path d="M1702,2082 L1702,2224" stroke="#f7f7f9" stroke-width="4.7" stroke-linecap="round"/><path d="M1705,2260 L1706,2320" stroke="#f7f7f9" stroke-width="4.2" stroke-linecap="round"/><path d="M1716,2063 L1718,2182" stroke="#f7f7f9" stroke-width="3.6" stroke-linecap="round"/><path d="M1717,2199 L1722,2259" stroke="#f7f7f9" stroke-width="5.1" stroke-linecap="round"/><path d="M1716,2286 L1720,2320" stroke="#f7f7f9" stroke-width="6.7" stroke-linecap="round"/><path d="M1730,2072 L1732,2170" stroke="#f7f7f9" stroke-width="3.8" stroke-linecap="round"/><path d="M1732,2208 L1734,2320" stroke="#f7f7f9" stroke-width="5.0" stroke-linecap="round"/><path d="M1743,2069 L1742,2204" stroke="#f7f7f9" stroke-width="3.6" stroke-linecap="round"/><path d="M1742,2240 L1738,2320" stroke="#f7f7f9" stroke-width="4.4" stroke-linecap="round"/><path d="M1755,2070 L1756,2131" stroke="#f7f7f9" stroke-width="6.0" stroke-linecap="round"/><path d="M1755,2151 L1754,2223" stroke="#f7f7f9" stroke-width="6.6" stroke-linecap="round"/><path d="M1755,2250 L1754,2320" stroke="#f7f7f9" stroke-width="4.2" stroke-linecap="round"/><path d="M1200,2296 L1200,2334 M1223,2308 L1223,2334 M1243,2296 L1243,2334 M1264,2315 L1264,2334 M1285,2322 L1285,2334 M1301,2294 L1301,2334 M1324,2314 L1324,2334 M1339,2310 L1339,2334 M1353,2322 L1353,2334 M1376,2319 L1376,2334 M1396,2301 L1396,2334 M1415,2314 L1415,2334 M1437,2303 L1437,2334 M1455,2294 L1455,2334 M1478,2301 L1478,2334 M1492,2310 L1492,2334 M1507,2322 L1507,2334 M1530,2313 L1530,2334 M1545,2298 L1545,2334 M1559,2309 L1559,2334 M1577,2297 L1577,2334 M1595,2298 L1595,2334 M1619,2314 L1619,2334 M1643,2302 L1643,2334 M1669,2303 L1669,2334 M1693,2301 L1693,2334 M1717,2313 L1717,2334 M1735,2311 L1735,2334 M1759,2320 L1759,2334" stroke="#f7f7f9" stroke-width="9" stroke-linecap="round"/><path d="M1205,2328 L1205,2343 M1221,2328 L1220,2356 M1247,2328 L1249,2347 M1271,2328 L1272,2348 M1288,2328 L1288,2348 M1311,2328 L1309,2352 M1332,2328 L1333,2353 M1352,2328 L1353,2364 M1374,2328 L1373,2352 M1393,2328 L1393,2358 M1408,2328 L1405,2343 M1422,2328 L1422,2347 M1442,2328 L1440,2342 M1461,2328 L1460,2345 M1481,2328 L1478,2360 M1495,2328 L1498,2350 M1517,2328 L1520,2348 M1539,2328 L1541,2362 M1553,2328 L1555,2342 M1572,2328 L1570,2365 M1597,2328 L1597,2356 M1621,2328 L1621,2353 M1638,2328 L1635,2361 M1655,2328 L1652,2339 M1673,2328 L1673,2337 M1691,2328 L1691,2337 M1708,2328 L1709,2343 M1726,2328 L1729,2338 M1752,2328 L1753,2344" stroke="#0d0d0f" stroke-width="8" stroke-linecap="round"/><rect x="1761" y="2074" width="43" height="102" rx="6" fill="#0d0d0f"/><rect x="1775" y="2088" width="14" height="70" fill="#f7f7f9"/><path d="M1049,2200 L1059,2215 L1056,2231 L1055,2245 L1064,2262 L1062,2276 L1068,2297 L1082,2309 L1092,2333 L1085,2348 L1075,2362 L1078,2379 L1071,2398 L1072,2412 L1082,2427 L1087,2438 L1090,2451 L1082,2466 L1082,2488 L1072,2504 L1057,2518 L1051,2532 L1051,2549 L1046,2564 L1041,2582 L1026,2598 L1036,2620 L1034,2639 L1019,2661 L1026,2683 L1013,2709 L1022,2737 L1007,2758 L1005,2779 L1014,2803 L1010,2827 L1004,2852 L1005,2876 L1008,2899 L1011,2923 L1025,2952 L1014,2982 L1012,3008 L1020,3039 L1014,3068" fill="none" stroke="#0d0d0f" stroke-width="5" stroke-linecap="round"/><path d="M1056,2208 L1062,2218 L1075,2234 L1073,2247 L1074,2266 L1074,2283 L1073,2300 L1079,2317 L1071,2338 L1071,2349 L1087,2370 L1083,2382 L1095,2403 L1082,2417 L1086,2428 L1074,2438 L1064,2458 L1068,2473 L1069,2490 L1075,2502 L1070,2522 L1061,2534 L1061,2555 L1054,2567 L1051,2583 L1037,2602 L1042,2619 L1037,2640 L1041,2657 L1034,2688 L1038,2711 L1029,2736 L1017,2757 L1015,2785 L1024,2808 L1014,2828 L1020,2852 L1014,2878 L1008,2900 L1014,2928 L1011,2951 L1015,2982 L1012,3010 L1023,3041 L1020,3068" fill="none" stroke="#0d0d0f" stroke-width="5" stroke-linecap="round"/><path d="M1049,2547 L1071,2542 L1085,2538 L1101,2536 L1115,2531 L1146,2527 L1163,2519 L1179,2510 L1193,2502 L1205,2492 L1221,2484 L1243,2475 L1262,2470 L1275,2463 L1284,2447 L1298,2441 L1306,2428 L1325,2421 L1330,2410" fill="none" stroke="#0d0d0f" stroke-width="5" stroke-linecap="round"/><path d="M1054,2567 L1071,2564 L1088,2561 L1114,2562 L1135,2554 L1151,2549 L1166,2545 L1194,2535 L1213,2524 L1227,2508 L1246,2499 L1260,2489 L1282,2480 L1291,2472 L1312,2460 L1315,2447 L1334,2437 L1343,2430 L1350,2420" fill="none" stroke="#0d0d0f" stroke-width="5" stroke-linecap="round"/><path d="M1030,2560 C1000,2560 985,2600 995,2640 C1005,2680 1030,2660 1040,2620 C1045,2590 1040,2570 1030,2560" fill="none" stroke="#0d0d0f" stroke-width="5" stroke-linecap="round"/><path d="M1280,2440 C1300,2420 1330,2400 1350,2410 C1380,2430 1370,2470 1340,2480 C1310,2490 1290,2470 1280,2440" fill="none" stroke="#0d0d0f" stroke-width="5" stroke-linecap="round"/><path d="M1250,2380 C1270,2350 1310,2340 1330,2360 C1350,2380 1340,2410 1320,2420 C1290,2430 1260,2410 1250,2380" fill="none" stroke="#0d0d0f" stroke-width="5" stroke-linecap="round"/><path d="M1330,2400 C1350,2380 1380,2385 1385,2410 C1390,2440 1365,2455 1345,2445" fill="none" stroke="#0d0d0f" stroke-width="5" stroke-linecap="round"/><path d="M1210,2370 C1230,2340 1250,2320 1270,2330" fill="none" stroke="#0d0d0f" stroke-width="5" stroke-linecap="round"/><path d="M1205,2400 C1230,2420 1250,2440 1280,2440" fill="none" stroke="#0d0d0f" stroke-width="5" stroke-linecap="round"/><path d="M1300,2380 L1360,2470 M1320,2370 L1300,2480" fill="none" stroke="#0d0d0f" stroke-width="5" stroke-linecap="round"/><path d="M2121.0,1180.0 L2216.0,1180.0 L2220.0,1556.0 L2125.0,1549.0 Z" fill="#f7f7f9" stroke="#0d0d0f" stroke-width="7" stroke-linejoin="round"/><path d="M2030,1182 C2060,1215 2090,1245 2122,1262 L2121,1300 C2090,1270 2050,1225 2030,1182 Z" fill="#f7f7f9" stroke="#0d0d0f" stroke-width="7"/><path d="M2058,1184 C2080,1210 2100,1228 2120,1240" fill="none" stroke="#0d0d0f" stroke-width="5"/><path d="M2141.0,1193.1 L2141.4,1260.6 M2141.5,1270.9 L2141.6,1299.0 M2141.7,1315.8 L2141.8,1337.3 M2142.0,1359.8 L2142.1,1394.0 M2142.2,1406.1 L2142.3,1428.9 M2142.5,1448.4 L2142.7,1495.2 M2142.8,1514.6 L2143.0,1545.0" stroke="#0d0d0f" stroke-width="5" stroke-linecap="round" fill="none"/><path d="M2166.0,1188.0 L2168.0,1548.0" fill="none" stroke="#0d0d0f" stroke-width="5" stroke-linecap="round" stroke-linejoin="round"/><path d="M2196.0,1199.6 L2196.3,1291.2 M2196.3,1304.2 L2196.5,1376.9 M2196.6,1389.6 L2196.6,1420.6 M2196.7,1437.7 L2196.9,1531.9 M2197.0,1544.6 L2197.0,1550.0" stroke="#0d0d0f" stroke-width="5" stroke-linecap="round" fill="none"/><path d="M2125.0,1549.0 L2220.0,1558.0 L2050.0,1734.0 L1920.0,1742.0 L1916.0,1651.0 L2018.0,1649.0 Z" fill="#f7f7f9" stroke="#0d0d0f" stroke-width="7" stroke-linejoin="round"/><path d="M2018.0,1649.0 L2050.0,1734.0" fill="none" stroke="#0d0d0f" stroke-width="6" stroke-linecap="round" stroke-linejoin="round"/><path d="M2150.3,1561.2 L2112.9,1602.8 M2100.0,1617.1 L2054.7,1667.5 M2044.1,1679.4 L2030.0,1695.0" stroke="#0d0d0f" stroke-width="5" stroke-linecap="round" fill="none"/><path d="M2184.4,1560.6 L2107.6,1645.7 M2093.6,1661.2 L2059.9,1698.6 M2048.6,1711.0 L2045.0,1715.0" stroke="#0d0d0f" stroke-width="5" stroke-linecap="round" fill="none"/><path d="M1938.8,1674.8 L1970.1,1673.6 M1988.9,1672.8 L2010.0,1672.0" stroke="#0d0d0f" stroke-width="5" stroke-linecap="round" fill="none"/><path d="M1936.6,1711.9 L1976.2,1711.1 M1988.2,1710.8 L2025.0,1710.0" stroke="#0d0d0f" stroke-width="5" stroke-linecap="round" fill="none"/><path d="M2530.0,1634.0 L2664.0,1747.0 L2488.0,1909.0 L2375.0,1787.0 Z" fill="#f7f7f9" stroke="#0d0d0f" stroke-width="8" stroke-linejoin="round"/><path d="M2552.9,1672.7 L2512.7,1711.5 M2501.6,1722.3 L2454.9,1767.4 M2435.0,1786.7 L2409.2,1811.5" stroke="#0d0d0f" stroke-width="5.5" stroke-linecap="round" fill="none"/><path d="M2585.3,1701.9 L2559.1,1726.7 M2539.8,1745.0 L2494.3,1788.2 M2481.5,1800.3 L2464.0,1816.9 M2450.2,1830.0 L2437.5,1842.0" stroke="#0d0d0f" stroke-width="5.5" stroke-linecap="round" fill="none"/><path d="M2620.9,1728.1 L2605.3,1742.7 M2587.0,1759.7 L2570.0,1775.5 M2551.9,1792.4 L2530.9,1811.9 M2518.2,1823.7 L2474.7,1864.2" stroke="#0d0d0f" stroke-width="5.5" stroke-linecap="round" fill="none"/><circle cx="2612" cy="1692" r="14" fill="#0d0d0f"/><circle cx="2271" cy="1290" r="36" fill="#f7f7f9" stroke="#0d0d0f" stroke-width="5.5"/><path d="M2244.0,1292.7 L2264.5,1262.9 M2253.2,1303.1 L2264.6,1286.6 M2270.4,1278.1 L2281.2,1262.4 M2264.4,1314.0 L2291.6,1274.4 M2277.4,1319.3 L2300.3,1285.9" stroke="#0d0d0f" stroke-width="6.5" stroke-linecap="round" fill="none"/><circle cx="2281" cy="1389" r="35" fill="#f7f7f9" stroke="#0d0d0f" stroke-width="5.5"/><path d="M2284.1,1363.7 L2308.6,1389.6 M2270.8,1366.3 L2303.3,1400.7 M2263.4,1377.7 L2278.0,1393.3 M2286.6,1402.4 L2293.9,1410.1 M2253.8,1390.7 L2280.6,1419.1" stroke="#0d0d0f" stroke-width="6.5" stroke-linecap="round" fill="none"/><circle cx="2206" cy="1667" r="32" fill="#f7f7f9" stroke="#0d0d0f" stroke-width="5.5"/><path d="M2180.1,1666.5 L2187.8,1659.7 M2198.7,1650.1 L2207.8,1642.1 M2186.3,1677.9 L2199.1,1666.7 M2210.7,1656.5 L2220.2,1648.1 M2194.5,1683.7 L2202.7,1676.5 M2212.8,1667.6 L2228.3,1653.9 M2204.7,1692.8 L2216.6,1682.3 M2223.4,1676.3 L2230.5,1670.0" stroke="#0d0d0f" stroke-width="6.5" stroke-linecap="round" fill="none"/><circle cx="2133" cy="1742" r="32" fill="#f7f7f9" stroke="#0d0d0f" stroke-width="5.5"/><path d="M2107.8,1747.1 L2111.6,1739.3 M2117.0,1728.3 L2121.8,1718.5 M2115.7,1759.7 L2134.9,1720.4 M2130.6,1761.8 L2147.9,1726.3 M2142.3,1764.2 L2156.1,1736.1" stroke="#0d0d0f" stroke-width="6.5" stroke-linecap="round" fill="none"/><circle cx="2467" cy="1670" r="32" fill="#f7f7f9" stroke="#0d0d0f" stroke-width="5.5"/><path d="M2442.4,1678.9 L2458.4,1648.9 M2449.1,1686.8 L2452.5,1680.5 M2459.4,1667.5 L2469.3,1649.0 M2463.2,1690.0 L2473.2,1671.4 M2477.0,1664.2 L2483.9,1651.3 M2475.2,1692.8 L2489.9,1665.4" stroke="#0d0d0f" stroke-width="6.5" stroke-linecap="round" fill="none"/><circle cx="2402" cy="1868" r="32" fill="#f7f7f9" stroke="#0d0d0f" stroke-width="5.5"/><path d="M2377.3,1872.1 L2380.9,1866.7 M2385.9,1859.3 L2396.0,1844.4 M2383.5,1880.6 L2407.0,1845.9 M2392.5,1890.8 L2419.6,1850.9 M2412.2,1890.6 L2420.6,1878.3 M2427.1,1868.6 L2429.3,1865.4" stroke="#0d0d0f" stroke-width="6.5" stroke-linecap="round" fill="none"/><circle cx="2648" cy="1832" r="33" fill="#f7f7f9" stroke="#0d0d0f" stroke-width="5.5"/><path d="M2652.4,1806.1 L2674.6,1832.9 M2641.6,1810.8 L2649.3,1820.2 M2658.2,1830.9 L2666.9,1841.5 M2627.4,1816.8 L2659.2,1855.3 M2624.1,1831.1 L2644.7,1856.1" stroke="#0d0d0f" stroke-width="6.5" stroke-linecap="round" fill="none"/><circle cx="2691" cy="1932" r="37" fill="#f7f7f9" stroke="#0d0d0f" stroke-width="5.5"/><path d="M2701.1,1904.2 L2720.4,1937.9 M2682.4,1904.5 L2707.4,1948.1 M2672.3,1916.6 L2696.7,1959.1 M2661.6,1928.4 L2679.0,1958.8" stroke="#0d0d0f" stroke-width="6.5" stroke-linecap="round" fill="none"/><circle cx="2240" cy="1915" r="37" fill="#f7f7f9" stroke="#0d0d0f" stroke-width="5.5"/><path d="M2208.9,1914.3 L2215.9,1906.2 M2224.5,1896.3 L2234.5,1884.9 M2216.2,1931.7 L2249.1,1894.1 M2229.1,1937.8 L2261.7,1900.5 M2245.4,1941.9 L2269.1,1914.8" stroke="#0d0d0f" stroke-width="6.5" stroke-linecap="round" fill="none"/><circle cx="2092" cy="1947" r="33" fill="#f7f7f9" stroke="#0d0d0f" stroke-width="5.5"/><path d="M2107.7,1925.5 L2110.7,1934.6 M2113.4,1942.6 L2117.3,1954.0 M2092.0,1922.6 L2100.3,1947.1 M2104.2,1958.8 L2107.5,1968.5 M2079.7,1931.4 L2092.7,1969.8 M2067.9,1939.2 L2079.0,1972.0" stroke="#0d0d0f" stroke-width="6.5" stroke-linecap="round" fill="none"/><circle cx="2415" cy="2050" r="38" fill="#f7f7f9" stroke="#0d0d0f" stroke-width="5.5"/><path d="M2410.7,2018.1 L2423.2,2029.1 M2432.8,2037.6 L2445.4,2048.8 M2404.6,2028.4 L2441.4,2060.8 M2388.9,2037.6 L2431.1,2074.8 M2383.1,2052.6 L2388.8,2057.6 M2396.3,2064.2 L2414.0,2079.9" stroke="#0d0d0f" stroke-width="6.5" stroke-linecap="round" fill="none"/><circle cx="2885" cy="2053" r="37" fill="#f7f7f9" stroke="#0d0d0f" stroke-width="5.5"/><path d="M2857.1,2064.5 L2872.5,2028.4 M2868.3,2068.7 L2877.1,2048.2 M2881.5,2037.6 L2884.9,2029.7 M2883.4,2075.6 L2902.7,2030.0 M2900.2,2078.4 L2914.5,2044.8" stroke="#0d0d0f" stroke-width="6.5" stroke-linecap="round" fill="none"/><circle cx="2865" cy="1882" r="35" fill="#f7f7f9" stroke="#0d0d0f" stroke-width="5.5"/><path d="M2875.8,1856.0 L2878.3,1860.3 M2884.6,1870.8 L2893.5,1885.9 M2859.9,1856.8 L2866.3,1867.6 M2872.8,1878.5 L2883.7,1896.9 M2848.2,1866.7 L2871.4,1905.9 M2837.2,1879.9 L2845.3,1893.6 M2852.6,1905.8 L2855.1,1910.0" stroke="#0d0d0f" stroke-width="6.5" stroke-linecap="round" fill="none"/><circle cx="2885" cy="1705" r="35" fill="#f7f7f9" stroke="#0d0d0f" stroke-width="5.5"/><path d="M2891.6,1678.1 L2913.2,1705.2 M2876.4,1683.8 L2892.6,1704.2 M2902.2,1716.2 L2906.7,1721.9 M2861.1,1688.7 L2873.2,1703.9 M2881.3,1714.0 L2895.4,1731.8 M2857.8,1701.9 L2868.8,1715.8 M2876.5,1725.5 L2883.9,1734.8" stroke="#0d0d0f" stroke-width="6.5" stroke-linecap="round" fill="none"/><circle cx="2932" cy="1492" r="35" fill="#f7f7f9" stroke="#0d0d0f" stroke-width="5.5"/><path d="M2935.9,1462.8 L2960.7,1494.5 M2919.2,1466.5 L2953.4,1510.2 M2912.7,1479.5 L2920.2,1489.1 M2929.1,1500.5 L2942.4,1517.4 M2904.8,1490.5 L2911.3,1498.8 M2919.9,1509.8 L2925.6,1517.0" stroke="#0d0d0f" stroke-width="6.5" stroke-linecap="round" fill="none"/><circle cx="3137" cy="1490" r="32" fill="#f7f7f9" stroke="#0d0d0f" stroke-width="5.5"/><path d="M3141.9,1463.3 L3144.6,1467.1 M3152.0,1477.1 L3161.3,1489.7 M3130.3,1470.0 L3155.9,1504.8 M3119.0,1473.4 L3126.0,1483.0 M3134.2,1494.1 L3145.4,1509.4 M3110.6,1487.8 L3119.8,1500.3 M3126.3,1509.1 L3131.7,1516.5" stroke="#0d0d0f" stroke-width="6.5" stroke-linecap="round" fill="none"/><circle cx="3079" cy="914" r="34" fill="#f7f7f9" stroke="#0d0d0f" stroke-width="5.5"/><path d="M3053.6,912.6 L3073.8,889.2 M3060.2,925.1 L3068.7,915.1 M3078.8,903.4 L3089.8,890.6 M3069.1,938.4 L3079.7,926.1 M3086.9,917.6 L3101.0,901.2 M3080.9,942.4 L3105.8,913.4" stroke="#0d0d0f" stroke-width="6.5" stroke-linecap="round" fill="none"/><circle cx="3115" cy="1091" r="34" fill="#f7f7f9" stroke="#0d0d0f" stroke-width="5.5"/><path d="M3086.4,1091.2 L3112.3,1065.1 M3090.6,1104.7 L3125.7,1069.3 M3106.4,1109.7 L3135.5,1080.4 M3115.0,1117.4 L3118.6,1113.9 M3128.3,1104.0 L3140.3,1092.0" stroke="#0d0d0f" stroke-width="6.5" stroke-linecap="round" fill="none"/><circle cx="2894" cy="1083" r="31" fill="#f7f7f9" stroke="#0d0d0f" stroke-width="5.5"/><path d="M2892.8,1057.3 L2917.2,1079.8 M2882.3,1062.4 L2912.6,1090.3 M2873.4,1073.9 L2905.0,1103.0 M2869.5,1086.6 L2892.2,1107.6" stroke="#0d0d0f" stroke-width="6.5" stroke-linecap="round" fill="none"/><circle cx="3013" cy="1218" r="35" fill="#f7f7f9" stroke="#0d0d0f" stroke-width="5.5"/><path d="M3027.2,1195.2 L3039.1,1226.7 M3010.8,1196.0 L3025.8,1235.5 M2997.5,1198.5 L3013.8,1241.4 M2986.8,1207.1 L3001.2,1245.2" stroke="#0d0d0f" stroke-width="6.5" stroke-linecap="round" fill="none"/><circle cx="2880" cy="1343" r="35" fill="#f7f7f9" stroke="#0d0d0f" stroke-width="5.5"/><path d="M2885.5,1313.8 L2899.0,1331.0 M2904.2,1337.7 L2908.9,1343.7 M2869.4,1316.8 L2900.1,1356.1 M2858.3,1324.5 L2890.6,1365.9 M2849.6,1340.8 L2856.2,1349.3 M2862.2,1357.0 L2874.5,1372.7" stroke="#0d0d0f" stroke-width="6.5" stroke-linecap="round" fill="none"/><circle cx="3127" cy="1326" r="33" fill="#f7f7f9" stroke="#0d0d0f" stroke-width="5.5"/><path d="M3135.4,1299.4 L3144.0,1313.7 M3149.4,1322.7 L3154.1,1330.6 M3122.3,1305.6 L3132.6,1322.9 M3140.5,1336.1 L3144.1,1342.1 M3110.5,1310.1 L3116.5,1320.2 M3120.9,1327.4 L3131.6,1345.2 M3101.1,1324.8 L3117.1,1351.5" stroke="#0d0d0f" stroke-width="6.5" stroke-linecap="round" fill="none"/><circle cx="3080" cy="1655" r="35" fill="#f7f7f9" stroke="#0d0d0f" stroke-width="5.5"/><path d="M3054.6,1663.2 L3061.0,1650.4 M3065.9,1640.6 L3072.8,1627.0 M3064.7,1672.4 L3069.8,1662.3 M3074.6,1652.9 L3085.3,1631.6 M3075.9,1676.5 L3096.2,1636.2 M3092.0,1682.1 L3100.1,1666.2 M3103.7,1659.0 L3108.2,1650.1" stroke="#0d0d0f" stroke-width="6.5" stroke-linecap="round" fill="none"/><circle cx="3130" cy="1816" r="31" fill="#f7f7f9" stroke="#0d0d0f" stroke-width="5.5"/><path d="M3138.5,1791.5 L3153.0,1825.9 M3129.2,1794.0 L3145.2,1832.0 M3116.9,1801.9 L3132.6,1838.9 M3107.8,1810.4 L3120.4,1840.2" stroke="#0d0d0f" stroke-width="6.5" stroke-linecap="round" fill="none"/><path d="M1968.0,2142.0 L2885.0,2142.0" fill="none" stroke="#0d0d0f" stroke-width="7" stroke-linecap="round" stroke-linejoin="round"/><path d="M1968,2167 L2885,2167 M2091,2142 L2091,2167 M2203,2142 L2203,2167 M2279,2142 L2279,2167 M2422,2142 L2422,2167 M2513,2142 L2513,2167 M2604,2142 L2604,2167 M2672,2142 L2672,2167 M2763,2142 L2763,2167 M2869,2142 L2869,2167 M1968,2188 L2885,2188 M2111,2167 L2111,2188 M2182,2167 L2182,2188 M2281,2167 L2281,2188 M2387,2167 L2387,2188 M2544,2167 L2544,2188 M2687,2167 L2687,2188 M2812,2167 L2812,2188 M2874,2167 L2874,2188 M1968,2210 L2885,2210 M2080,2188 L2080,2210 M2197,2188 L2197,2210 M2302,2188 L2302,2210 M2363,2188 L2363,2210 M2523,2188 L2523,2210 M2663,2188 L2663,2210 M2743,2188 L2743,2210 M2865,2188 L2865,2210 M1968,2236 L2885,2236 M2097,2210 L2097,2236 M2187,2210 L2187,2236 M2281,2210 L2281,2236 M2380,2210 L2380,2236 M2506,2210 L2506,2236 M2592,2210 L2592,2236 M2672,2210 L2672,2236 M2805,2210 L2805,2236" stroke="#0d0d0f" stroke-width="7" stroke-linecap="round"/><ellipse cx="2830" cy="2236" rx="17" ry="6" fill="#0d0d0f"/><ellipse cx="2321" cy="2140" rx="9" ry="7" fill="#0d0d0f"/><ellipse cx="2616" cy="2165" rx="9" ry="6" fill="#0d0d0f"/><ellipse cx="2612" cy="2140" rx="10" ry="4" fill="#0d0d0f"/><ellipse cx="2343" cy="2141" rx="20" ry="8" fill="#0d0d0f"/><ellipse cx="2101" cy="2169" rx="19" ry="6" fill="#0d0d0f"/><ellipse cx="2275" cy="2211" rx="18" ry="6" fill="#0d0d0f"/><ellipse cx="2263" cy="2168" rx="17" ry="4" fill="#0d0d0f"/><ellipse cx="2275" cy="2187" rx="14" ry="6" fill="#0d0d0f"/><ellipse cx="2160" cy="2190" rx="20" ry="6" fill="#0d0d0f"/><ellipse cx="2118" cy="2238" rx="16" ry="5" fill="#0d0d0f"/><ellipse cx="2428" cy="2167" rx="11" ry="8" fill="#0d0d0f"/><ellipse cx="2879" cy="2167" rx="8" ry="7" fill="#0d0d0f"/><ellipse cx="2678" cy="2165" rx="16" ry="7" fill="#0d0d0f"/><ellipse cx="2273" cy="2187" rx="20" ry="6" fill="#0d0d0f"/><ellipse cx="2635" cy="2169" rx="16" ry="6" fill="#0d0d0f"/><ellipse cx="2482" cy="2186" rx="18" ry="8" fill="#0d0d0f"/><ellipse cx="2278" cy="2165" rx="20" ry="5" fill="#0d0d0f"/><ellipse cx="2787" cy="2169" rx="13" ry="5" fill="#0d0d0f"/><ellipse cx="2516" cy="2142" rx="14" ry="7" fill="#0d0d0f"/><ellipse cx="2817" cy="2166" rx="17" ry="7" fill="#0d0d0f"/><ellipse cx="2320" cy="2237" rx="19" ry="5" fill="#0d0d0f"/><rect x="2040" y="1975" width="255" height="150" rx="6" fill="#f7f7f9" stroke="#0d0d0f" stroke-width="6" stroke-linejoin="round"/><path d="M2059.1,2005.0 L2092.1,2005.0 M2112.7,2005.0 L2153.3,2005.0 M2171.4,2005.0 L2231.7,2005.0 M2244.3,2005.0 L2285.0,2005.0" stroke="#0d0d0f" stroke-width="5" stroke-linecap="round" fill="none"/><path d="M2055.5,2038.0 L2156.1,2038.0 M2180.5,2038.0 L2281.4,2038.0" stroke="#0d0d0f" stroke-width="5" stroke-linecap="round" fill="none"/><path d="M2060.0,2068.0 L2099.2,2068.0 M2116.1,2068.0 L2226.8,2068.0 M2255.1,2068.0 L2285.0,2068.0" stroke="#0d0d0f" stroke-width="5" stroke-linecap="round" fill="none"/><path d="M2057.8,2098.0 L2167.8,2098.0 M2187.1,2098.0 L2285.0,2098.0" stroke="#0d0d0f" stroke-width="5" stroke-linecap="round" fill="none"/><rect x="2448" y="1975" width="376" height="207" rx="6" fill="#f7f7f9" stroke="#0d0d0f" stroke-width="6" stroke-linejoin="round"/><path d="M2470.3,2003.0 L2514.3,2003.0 M2526.6,2003.0 L2669.3,2003.0 M2685.9,2003.0 L2778.4,2003.0 M2796.8,2003.0 L2812.0,2003.0" stroke="#0d0d0f" stroke-width="5" stroke-linecap="round" fill="none"/><path d="M2465.0,2023.0 L2568.9,2023.0 M2587.6,2023.0 L2662.7,2023.0 M2679.2,2023.0 L2803.9,2023.0" stroke="#0d0d0f" stroke-width="5" stroke-linecap="round" fill="none"/><path d="M2470.8,2061.0 L2530.1,2061.0 M2557.0,2061.0 L2616.1,2061.0 M2643.5,2061.0 L2790.2,2061.0 M2809.7,2061.0 L2812.0,2061.0" stroke="#0d0d0f" stroke-width="5" stroke-linecap="round" fill="none"/><path d="M2467.4,2099.0 L2576.3,2099.0 M2605.1,2099.0 L2740.6,2099.0 M2770.6,2099.0 L2812.0,2099.0" stroke="#0d0d0f" stroke-width="5" stroke-linecap="round" fill="none"/><path d="M2465.7,2142.0 L2561.2,2142.0 M2582.5,2142.0 L2632.2,2142.0 M2655.2,2142.0 L2735.8,2142.0 M2748.2,2142.0 L2786.8,2142.0 M2807.2,2142.0 L2812.0,2142.0" stroke="#0d0d0f" stroke-width="5" stroke-linecap="round" fill="none"/><path d="M2467.8,2165.0 L2552.1,2165.0 M2568.1,2165.0 L2685.4,2165.0 M2695.9,2165.0 L2746.6,2165.0 M2765.4,2165.0 L2812.0,2165.0" stroke="#0d0d0f" stroke-width="5" stroke-linecap="round" fill="none"/><rect x="2630" y="2130" width="30" height="20" fill="#0d0d0f"/><path d="M1937.0,2232.0 L1937.0,2104.0 L1966.0,2140.0 L1966.0,2232.0 Z" fill="#f7f7f9" stroke="#0d0d0f" stroke-width="7" stroke-linejoin="round"/><path d="M2887.0,2236.0 L2887.0,2145.0 L2918.0,2104.0 L2918.0,2236.0 Z" fill="#f7f7f9" stroke="#0d0d0f" stroke-width="7" stroke-linejoin="round"/><rect x="2036" y="2237" width="134" height="69" rx="6" fill="#f7f7f9" stroke="#0d0d0f" stroke-width="6" stroke-linejoin="round"/><circle cx="2067" cy="2268" r="11" fill="#0d0d0f"/><circle cx="2101" cy="2268" r="11" fill="#0d0d0f"/><circle cx="2137" cy="2268" r="11" fill="#0d0d0f"/><rect x="2662" y="2238" width="114" height="73" rx="6" fill="#f7f7f9" stroke="#0d0d0f" stroke-width="6" stroke-linejoin="round"/><circle cx="2691" cy="2266" r="11" fill="#0d0d0f"/><circle cx="2722" cy="2266" r="11" fill="#0d0d0f"/><circle cx="2756" cy="2266" r="11" fill="#0d0d0f"/><path d="M1813.4,2262.0 L1878.0,2260.7 M1896.5,2260.4 L1941.8,2259.5 M1963.6,2259.1 L2009.3,2258.2" stroke="#0d0d0f" stroke-width="5" stroke-linecap="round" fill="none"/><path d="M2191.4,2268.0 L2260.3,2267.7 M2286.9,2267.6 L2360.8,2267.2 M2378.9,2267.2 L2451.8,2266.8 M2477.2,2266.7 L2510.2,2266.6 M2529.9,2266.5 L2602.9,2266.2 M2631.4,2266.1 L2645.0,2266.0" stroke="#0d0d0f" stroke-width="5" stroke-linecap="round" fill="none"/><path d="M2802.0,2264.0 L2886.8,2264.0 M2909.8,2264.0 L2968.7,2264.0" stroke="#0d0d0f" stroke-width="5" stroke-linecap="round" fill="none"/><path d="M2669.8,842.9 L2794.8,842.2 M2817.4,842.1 L2959.2,841.2 M2998.2,841.0 L3085.6,840.4 M3111.1,840.3 L3160.0,840.0" stroke="#0d0d0f" stroke-width="5" stroke-linecap="round" fill="none"/><path d="M2625.0,879.6 L2625.0,981.9 M2625.0,1007.3 L2625.0,1060.8 M2625.0,1097.4 L2625.0,1140.0" stroke="#0d0d0f" stroke-width="5" stroke-linecap="round" fill="none"/><path d="M3189.0,882.7 L3189.0,1043.5 M3189.0,1078.6 L3189.0,1179.9 M3189.0,1208.1 L3189.0,1380.6 M3189.0,1416.4 L3189.0,1492.6 M3189.0,1528.1 L3189.0,1700.0" stroke="#0d0d0f" stroke-width="5" stroke-linecap="round" fill="none"/><path d="M2566.8,1153.0 L2603.6,1153.0 M2614.9,1153.0 L2640.0,1153.0" stroke="#0d0d0f" stroke-width="5" stroke-linecap="round" fill="none"/><path d="M2575,830 C2580,810 2605,805 2615,818" fill="none" stroke="#0d0d0f" stroke-width="5" stroke-dasharray="14 10"/><path d="M3178,820 C3190,800 3215,808 3220,835" fill="none" stroke="#0d0d0f" stroke-width="5" stroke-dasharray="14 10"/><path d="M2652,1165 C2657,1205 2682,1205 2684,1170 C2686,1140 2697,1140 2698,1160 C2703,1205 2728,1205 2730,1170 C2732,1140 2743,1140 2744,1160 C2749,1205 2774,1205 2776,1170 C2778,1140 2789,1140 2790,1160 C2795,1205 2820,1205 2822,1170 C2824,1140 2835,1140 2836,1160 " fill="none" stroke="#0d0d0f" stroke-width="7" stroke-linecap="round"/><path d="M2776,891 L2797,896 L2790,936 L2776,973 L2747,970 L2760,930 Z" fill="#0d0d0f" stroke="#0d0d0f" stroke-width="6" stroke-linejoin="round"/><ellipse cx="2779" cy="905" rx="3.5" ry="6.5" transform="rotate(20 2779 905)" fill="#f7f7f9"/><ellipse cx="2772" cy="924" rx="3.5" ry="6.5" transform="rotate(20 2772 924)" fill="#f7f7f9"/><ellipse cx="2765" cy="942" rx="3.5" ry="6.5" transform="rotate(20 2765 942)" fill="#f7f7f9"/><ellipse cx="2759" cy="959" rx="3.5" ry="6.5" transform="rotate(20 2759 959)" fill="#f7f7f9"/><path d="M2796.0,902.0 L2889.0,903.0 L2887.0,925.0 L2800.0,920.0 Z" fill="#f7f7f9" stroke="#0d0d0f" stroke-width="9" stroke-linejoin="round"/><path d="M2790.0,938.0 L2860.0,951.0 L2857.0,972.0 L2788.0,958.0 Z" fill="#f7f7f9" stroke="#0d0d0f" stroke-width="9" stroke-linejoin="round"/><path d="M2778.0,957.0 L2848.0,1010.0 L2833.0,1027.0 L2771.0,975.0 Z" fill="#f7f7f9" stroke="#0d0d0f" stroke-width="9" stroke-linejoin="round"/><rect x="2818" y="918" width="18" height="28" fill="#0d0d0f"/><circle cx="2979" cy="1020" r="96" fill="#f7f7f9" stroke="#0d0d0f" stroke-width="6.5"/><path d="M2888.7,1032.1 L2902.8,1005.7 M2913.8,984.8 L2927.8,958.5 M2900.5,1062.5 L2912.5,1040.0 M2920.9,1024.1 L2949.0,971.2 M2956.2,957.8 L2970.3,931.2 M2917.4,1083.3 L2959.3,1004.5 M2964.6,994.6 L2981.8,962.2 M2991.4,944.1 L2997.0,933.6 M2937.7,1097.7 L2954.0,1067.0 M2964.9,1046.4 L2995.7,988.7 M3006.7,967.8 L3020.3,942.3 M2961.0,1106.4 L2999.9,1033.2 M3004.2,1025.2 L3017.9,999.5 M3027.8,980.8 L3040.6,956.7 M2987.7,1108.8 L3014.2,1059.0 M3018.2,1051.4 L3038.8,1012.6 M3049.2,993.2 L3057.5,977.5 M3019.5,1101.6 L3053.9,1036.8 M3061.9,1021.8 L3069.3,1007.9" stroke="#0d0d0f" stroke-width="5" stroke-linecap="round" fill="none"/><path d="M2973,1020 l10,-18 l8,15 l-6,20 z" fill="#0d0d0f"/><rect x="2941" y="1265" width="159" height="238" rx="5" fill="#f7f7f9" stroke="#0d0d0f" stroke-width="6" stroke-linejoin="round"/><path d="M2962.0,1275.0 L2964.0,1495.0" fill="none" stroke="#0d0d0f" stroke-width="5" stroke-linecap="round" stroke-linejoin="round"/><path d="M2985.0,1270.0 L2987.0,1495.0" fill="none" stroke="#0d0d0f" stroke-width="5" stroke-linecap="round" stroke-linejoin="round"/><path d="M3014.0,1276.1 L3014.1,1306.4 M3014.2,1323.0 L3014.4,1357.2 M3014.4,1369.8 L3014.6,1409.8 M3014.7,1427.1 L3014.8,1451.2 M3014.9,1466.6 L3015.0,1495.0" stroke="#0d0d0f" stroke-width="5" stroke-linecap="round" fill="none"/><path d="M3045.0,1270.0 L3046.0,1495.0" fill="none" stroke="#0d0d0f" stroke-width="5" stroke-linecap="round" stroke-linejoin="round"/><path d="M3075.0,1292.6 L3075.2,1332.7 M3075.3,1352.4 L3075.5,1385.1 M3075.5,1399.6 L3075.9,1473.6 M3076.0,1486.8 L3076.0,1495.0" stroke="#0d0d0f" stroke-width="5" stroke-linecap="round" fill="none"/><ellipse cx="3073" cy="1320" rx="9" ry="20" fill="#0d0d0f"/><path d="M2624,1200 C2618,1240 2628,1280 2620,1320 C2614,1350 2624,1380 2618,1405" fill="none" stroke="#0d0d0f" stroke-width="3"/><path d="M2600,1219 L2632,1219 M2600,1208 L2600,1230 M2600,1274 L2632,1274 M2600,1263 L2600,1285 M2600,1329 L2632,1329 M2600,1318 L2600,1340 M2600,1376 L2632,1376 M2600,1365 L2600,1387" stroke="#0d0d0f" stroke-width="8" stroke-linecap="round"/><path d="M2587,1428 C2575,1500 2610,1570 2680,1615 C2740,1655 2820,1668 2880,1655 C2915,1645 2930,1620 2932,1603 L2900,1600 C2880,1615 2850,1626 2820,1625 C2760,1620 2700,1590 2665,1545 C2640,1512 2630,1480 2632,1455 Z" fill="#f7f7f9" stroke="#0d0d0f" stroke-width="7" stroke-linejoin="round"/><path d="M2668,1463 C2640,1470 2640,1500 2660,1530 C2690,1575 2760,1610 2820,1622 C2850,1627 2870,1620 2880,1600 C2885,1585 2870,1575 2860,1572 C2800,1545 2730,1505 2690,1475 C2683,1469 2675,1462 2668,1463 Z" fill="#f7f7f9" stroke="#0d0d0f" stroke-width="7"/><path d="M2579,1430 l-10,9 M2579,1433 l-10,13 M2578,1436 l-4,5 M2578,1439 l-5,10 M2577,1442 l-9,11 M2577,1445 l-9,5 M2577,1448 l-7,11 M2577,1452 l-11,11 M2577,1455 l-10,12 M2577,1458 l-8,11 M2577,1461 l-8,8 M2577,1464 l-6,9 M2577,1467 l-9,10 M2577,1470 l-8,7 M2577,1473 l-8,11 M2578,1476 l-10,14 M2578,1479 l-5,12 M2578,1482 l-9,5 M2579,1485 l-10,9 M2579,1488 l-12,4 M2580,1491 l-7,9 M2581,1494 l-5,10 M2581,1497 l-8,13 M2582,1500 l-12,11 M2583,1502 l-10,14 M2584,1505 l-9,7 M2584,1508 l-5,13 M2585,1511 l-7,5 M2586,1514 l-6,7 M2587,1517 l-12,13 M2589,1520 l-6,6 M2590,1522 l-9,14 M2591,1525 l-10,10 M2592,1528 l-11,13 M2593,1531 l-11,6 M2595,1534 l-11,13 M2596,1536 l-6,8 M2598,1539 l-4,8 M2599,1542 l-6,12 M2601,1545 l-10,9 M2602,1547 l-7,10 M2604,1550 l-10,9 M2606,1552 l-8,10 M2607,1555 l-5,9 M2609,1558 l-8,8 M2611,1560 l-4,7 M2613,1563 l-12,10 M2615,1565 l-8,11 M2617,1568 l-8,10 M2619,1570 l-9,6 M2621,1573 l-5,5 M2623,1575 l-10,12 M2625,1578 l-5,6 M2627,1580 l-11,5 M2630,1582 l-12,12 M2632,1585 l-8,13 M2634,1587 l-7,7 M2637,1589 l-11,11 M2639,1592 l-6,10 M2642,1594 l-8,6 M2644,1596 l-8,5 M2647,1598 l-6,8 M2649,1601 l-8,11 M2652,1603 l-8,9 M2655,1605 l-7,9 M2658,1607 l-7,13 M2660,1609 l-11,9 M2663,1611 l-8,5 M2666,1613 l-8,8 M2669,1615 l-5,8 M2680,1621 l1,7 M2684,1623 l3,13 M2687,1626 l-0,6 M2691,1628 l2,13 M2695,1630 l1,7 M2699,1632 l3,12 M2702,1634 l-1,7 M2706,1636 l2,10 M2710,1638 l2,9 M2714,1640 l2,7 M2718,1642 l-0,11 M2722,1643 l3,9 M2726,1645 l2,8 M2730,1647 l3,8 M2734,1648 l2,10 M2738,1650 l2,11 M2742,1651 l2,15 M2747,1652 l2,11 M2751,1654 l-2,15 M2755,1655 l-2,15 M2759,1656 l3,7 M2763,1657 l3,15 M2767,1658 l-2,10 M2772,1659 l3,9 M2776,1660 l2,15 M2780,1661 l-3,6 M2784,1662 l-1,10 M2788,1662 l-2,14 M2793,1663 l3,12 M2797,1664 l-1,9 M2801,1664 l3,6 M2805,1665 l2,8 M2809,1665 l-3,6 M2813,1665 l0,12 M2818,1665 l-3,7 M2822,1666 l-0,10 M2826,1666 l4,10 M2830,1666 l2,13 M2834,1666 l-2,11 M2838,1666 l-0,6 M2842,1666 l1,9 M2846,1665 l-2,8 M2850,1665 l0,15 M2854,1665 l4,6 M2858,1665 l0,14 M2861,1664 l2,7 M2865,1664 l3,15 M2869,1663 l2,14 M2873,1662 l-2,7 M2876,1662 l-4,14" stroke="#0d0d0f" stroke-width="3" stroke-linecap="round"/><circle cx="2643" cy="1440" r="24" fill="#f7f7f9" stroke="#0d0d0f" stroke-width="8"/><ellipse cx="2893" cy="1581" rx="31" ry="23" fill="#f7f7f9" stroke="#0d0d0f" stroke-width="8"/><circle cx="3004" cy="1789" r="112" fill="#f7f7f9" stroke="#0d0d0f" stroke-width="6.5"/><path d="M2896.7,1788.4 L2918.8,1756.8 M2927.3,1744.8 L2947.5,1716.0 M2953.9,1706.7 L2966.8,1688.4 M2903.9,1822.2 L2943.9,1765.0 M2956.3,1747.2 L2981.6,1711.1 M2990.3,1698.8 L3000.9,1683.6 M2917.2,1847.1 L2950.1,1800.1 M2961.0,1784.6 L2988.8,1744.8 M3000.3,1728.4 L3028.9,1687.5 M2934.4,1866.4 L2981.5,1799.2 M2995.7,1778.9 L3040.6,1714.8 M2955.1,1880.8 L2981.0,1843.8 M2993.8,1825.5 L3027.3,1777.7 M3038.5,1761.7 L3054.3,1739.1 M3065.0,1723.9 L3073.6,1711.6 M2979.1,1890.5 L3006.3,1851.7 M3014.7,1839.6 L3056.6,1779.7 M3068.0,1763.5 L3090.8,1730.9 M3007.1,1894.4 L3035.1,1854.4 M3046.4,1838.3 L3067.6,1808.1 M3080.5,1789.6 L3102.5,1758.2 M3041.2,1889.6 L3060.4,1862.2 M3074.6,1842.0 L3111.3,1789.6" stroke="#0d0d0f" stroke-width="5" stroke-linecap="round" fill="none"/><path d="M2975,1770 l10,-20 l8,16 l-5,22 z" fill="#0d0d0f"/><rect x="3170" y="1694" width="61" height="136" rx="8" fill="#f7f7f9" stroke="#0d0d0f" stroke-width="7" stroke-linejoin="round"/><path d="M3197,1722 c-10,0 -12,12 -8,22 l-6,24 c6,10 22,10 26,0 l-6,-24 c4,-10 2,-22 -6,-22 z" fill="#0d0d0f"/><ellipse cx="3199" cy="1800" rx="12" ry="14" fill="#0d0d0f"/><path d="M3206.1,1857.4 L3207.1,1918.9 M3207.3,1930.5 L3208.0,1970.0" stroke="#0d0d0f" stroke-width="4" stroke-linecap="round" fill="none"/><path d="M3133,1994 C3065,1998 3022,2060 3022,2140" fill="none" stroke="#0d0d0f" stroke-width="8"/><path d="M3157.0,2017.0 L3281.0,2025.0 L3293.0,2040.0 L3293.0,2288.0" fill="none" stroke="#0d0d0f" stroke-width="6" stroke-linecap="round" stroke-linejoin="round"/><path d="M3282.1,2288.0 L3203.0,2288.0 M3173.4,2288.0 L3105.0,2288.0 M3079.6,2288.0 L3043.0,2288.0" stroke="#0d0d0f" stroke-width="5" stroke-linecap="round" fill="none"/><path d="M3043.0,2282.3 L3043.0,2244.2 M3043.0,2225.4 L3043.0,2177.0" stroke="#0d0d0f" stroke-width="5" stroke-linecap="round" fill="none"/><path d="M3043.0,2177.0 L3060.0,2177.0" fill="none" stroke="#0d0d0f" stroke-width="5" stroke-linecap="round" stroke-linejoin="round"/><path d="M3077,2054 L3077,2229 L3257,2229 L3257,2054 Z" fill="#f7f7f9" stroke="#0d0d0f" stroke-width="10" stroke-linejoin="round"/><path d="M3088,2104 L3208,2184 M3208,2104 L3098,2204 M3143,2080 L3156,2210 M3120,2085 L3150,2150" stroke="#0d0d0f" stroke-width="22" stroke-linecap="round"/><path d="M3088,2104 L3208,2184 M3208,2104 L3098,2204 M3143,2080 L3156,2210" stroke="#f7f7f9" stroke-width="5" stroke-linecap="round" stroke-dasharray="16 22"/><circle cx="3150" cy="2155" r="24" fill="#0d0d0f"/><path d="M3092,2142 C3100,2130 3120,2135 3125,2150 M3205,2150 C3220,2148 3230,2160 3228,2175 M3175,2080 L3185,2095 M3225,2075 C3235,2090 3228,2110 3240,2125" fill="none" stroke="#0d0d0f" stroke-width="7" stroke-linecap="round"/><path d="M3094,808 L3094,706 M3109,808 L3109,706" stroke="#0d0d0f" stroke-width="9"/><path d="M3077,690 L3126,690 M3080,703 L3124,703" stroke="#0d0d0f" stroke-width="10" stroke-linecap="round"/><ellipse cx="3100" cy="665" rx="15" ry="17" fill="none" stroke="#0d0d0f" stroke-width="11"/><path d="M3080,800 L3125,800 L3140,780 M3075,790 L3060,785" stroke="#0d0d0f" stroke-width="9" stroke-linecap="round"/><path d="M3320,2312 L3380,2392" stroke="#0d0d0f" stroke-width="14" stroke-linecap="round"/><path d="M3355,2370 L3370,2355 M3350,2385 L3340,2400" stroke="#0d0d0f" stroke-width="6" stroke-linecap="round"/><ellipse cx="3390" cy="2412" rx="14" ry="13" fill="#f7f7f9" stroke="#0d0d0f" stroke-width="9"/></svg></body></html>
